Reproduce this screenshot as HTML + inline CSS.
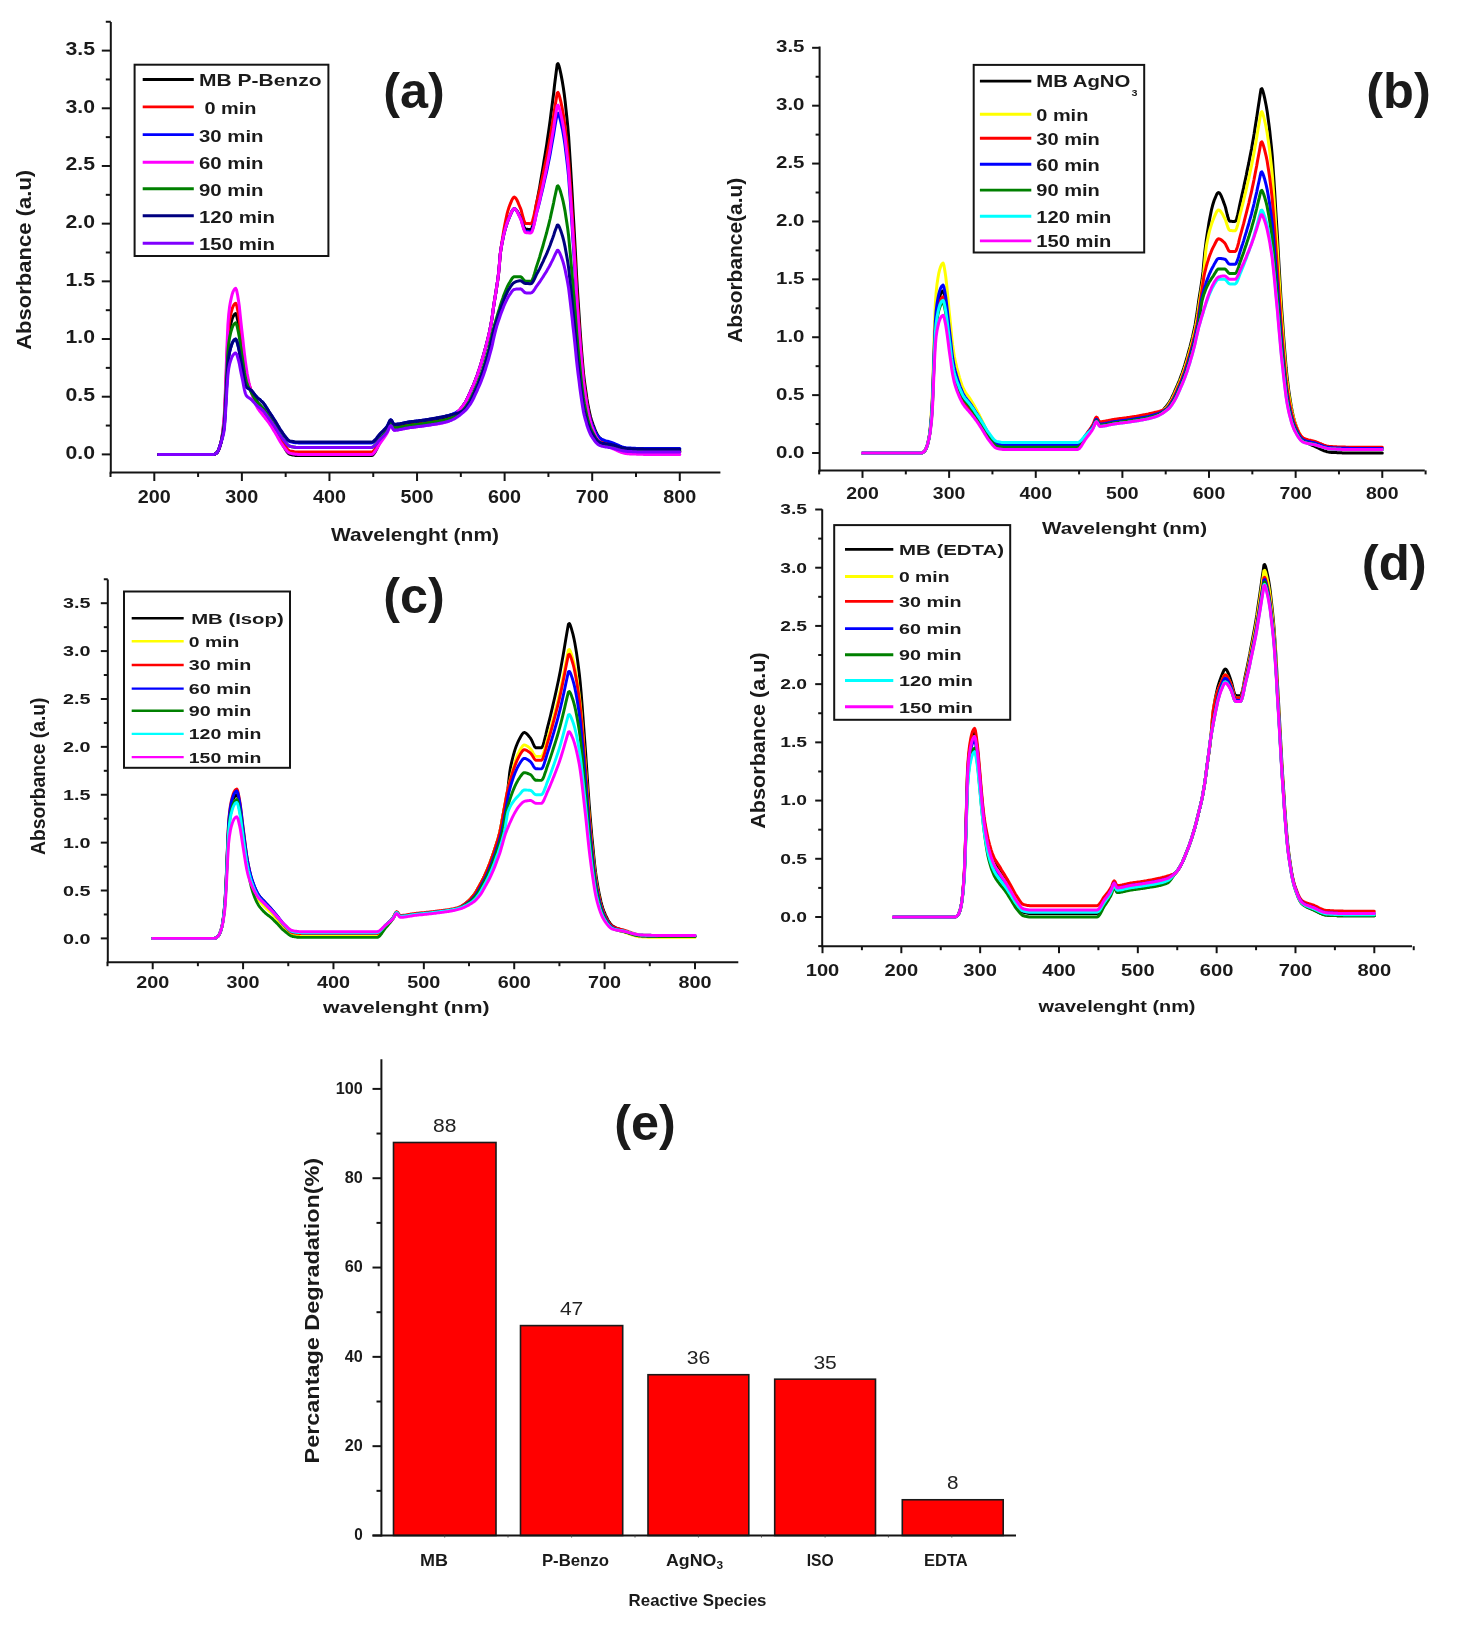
<!DOCTYPE html>
<html><head><meta charset="utf-8"><style>
html,body{margin:0;padding:0;background:#fff;}
svg{display:block;font-family:'Liberation Sans', sans-serif;filter:blur(0.5px);}
</style></head><body>
<svg width="1458" height="1626" viewBox="0 0 1458 1626">
<rect width="1458" height="1626" fill="#ffffff"/>
<line x1="110.80" y1="22.00" x2="110.80" y2="473.50" stroke="#141414" stroke-width="2"/>
<line x1="101.80" y1="454.40" x2="110.80" y2="454.40" stroke="#141414" stroke-width="2"/>
<text x="95.00" y="458.80" font-size="18.00" font-weight="bold" text-anchor="end" fill="#1a1a1a" textLength="29.50" lengthAdjust="spacingAndGlyphs">0.0</text>
<line x1="101.80" y1="396.71" x2="110.80" y2="396.71" stroke="#141414" stroke-width="2"/>
<text x="95.00" y="401.11" font-size="18.00" font-weight="bold" text-anchor="end" fill="#1a1a1a" textLength="29.50" lengthAdjust="spacingAndGlyphs">0.5</text>
<line x1="101.80" y1="339.03" x2="110.80" y2="339.03" stroke="#141414" stroke-width="2"/>
<text x="95.00" y="343.43" font-size="18.00" font-weight="bold" text-anchor="end" fill="#1a1a1a" textLength="29.50" lengthAdjust="spacingAndGlyphs">1.0</text>
<line x1="101.80" y1="281.34" x2="110.80" y2="281.34" stroke="#141414" stroke-width="2"/>
<text x="95.00" y="285.74" font-size="18.00" font-weight="bold" text-anchor="end" fill="#1a1a1a" textLength="29.50" lengthAdjust="spacingAndGlyphs">1.5</text>
<line x1="101.80" y1="223.66" x2="110.80" y2="223.66" stroke="#141414" stroke-width="2"/>
<text x="95.00" y="228.06" font-size="18.00" font-weight="bold" text-anchor="end" fill="#1a1a1a" textLength="29.50" lengthAdjust="spacingAndGlyphs">2.0</text>
<line x1="101.80" y1="165.97" x2="110.80" y2="165.97" stroke="#141414" stroke-width="2"/>
<text x="95.00" y="170.37" font-size="18.00" font-weight="bold" text-anchor="end" fill="#1a1a1a" textLength="29.50" lengthAdjust="spacingAndGlyphs">2.5</text>
<line x1="101.80" y1="108.29" x2="110.80" y2="108.29" stroke="#141414" stroke-width="2"/>
<text x="95.00" y="112.69" font-size="18.00" font-weight="bold" text-anchor="end" fill="#1a1a1a" textLength="29.50" lengthAdjust="spacingAndGlyphs">3.0</text>
<line x1="101.80" y1="50.60" x2="110.80" y2="50.60" stroke="#141414" stroke-width="2"/>
<text x="95.00" y="55.00" font-size="18.00" font-weight="bold" text-anchor="end" fill="#1a1a1a" textLength="29.50" lengthAdjust="spacingAndGlyphs">3.5</text>
<line x1="105.80" y1="425.56" x2="110.80" y2="425.56" stroke="#141414" stroke-width="2"/>
<line x1="105.80" y1="367.87" x2="110.80" y2="367.87" stroke="#141414" stroke-width="2"/>
<line x1="105.80" y1="310.19" x2="110.80" y2="310.19" stroke="#141414" stroke-width="2"/>
<line x1="105.80" y1="252.50" x2="110.80" y2="252.50" stroke="#141414" stroke-width="2"/>
<line x1="105.80" y1="194.82" x2="110.80" y2="194.82" stroke="#141414" stroke-width="2"/>
<line x1="105.80" y1="137.13" x2="110.80" y2="137.13" stroke="#141414" stroke-width="2"/>
<line x1="105.80" y1="79.45" x2="110.80" y2="79.45" stroke="#141414" stroke-width="2"/>
<line x1="105.80" y1="21.76" x2="110.80" y2="21.76" stroke="#141414" stroke-width="2"/>
<line x1="109.80" y1="472.50" x2="720.40" y2="472.50" stroke="#141414" stroke-width="2"/>
<line x1="154.30" y1="472.50" x2="154.30" y2="481.00" stroke="#141414" stroke-width="2"/>
<text x="154.30" y="503.10" font-size="18.00" font-weight="bold" text-anchor="middle" fill="#1a1a1a" textLength="33.00" lengthAdjust="spacingAndGlyphs">200</text>
<line x1="241.88" y1="472.50" x2="241.88" y2="481.00" stroke="#141414" stroke-width="2"/>
<text x="241.88" y="503.10" font-size="18.00" font-weight="bold" text-anchor="middle" fill="#1a1a1a" textLength="33.00" lengthAdjust="spacingAndGlyphs">300</text>
<line x1="329.46" y1="472.50" x2="329.46" y2="481.00" stroke="#141414" stroke-width="2"/>
<text x="329.46" y="503.10" font-size="18.00" font-weight="bold" text-anchor="middle" fill="#1a1a1a" textLength="33.00" lengthAdjust="spacingAndGlyphs">400</text>
<line x1="417.04" y1="472.50" x2="417.04" y2="481.00" stroke="#141414" stroke-width="2"/>
<text x="417.04" y="503.10" font-size="18.00" font-weight="bold" text-anchor="middle" fill="#1a1a1a" textLength="33.00" lengthAdjust="spacingAndGlyphs">500</text>
<line x1="504.62" y1="472.50" x2="504.62" y2="481.00" stroke="#141414" stroke-width="2"/>
<text x="504.62" y="503.10" font-size="18.00" font-weight="bold" text-anchor="middle" fill="#1a1a1a" textLength="33.00" lengthAdjust="spacingAndGlyphs">600</text>
<line x1="592.20" y1="472.50" x2="592.20" y2="481.00" stroke="#141414" stroke-width="2"/>
<text x="592.20" y="503.10" font-size="18.00" font-weight="bold" text-anchor="middle" fill="#1a1a1a" textLength="33.00" lengthAdjust="spacingAndGlyphs">700</text>
<line x1="679.78" y1="472.50" x2="679.78" y2="481.00" stroke="#141414" stroke-width="2"/>
<text x="679.78" y="503.10" font-size="18.00" font-weight="bold" text-anchor="middle" fill="#1a1a1a" textLength="33.00" lengthAdjust="spacingAndGlyphs">800</text>
<line x1="110.51" y1="472.50" x2="110.51" y2="477.00" stroke="#141414" stroke-width="2"/>
<line x1="198.09" y1="472.50" x2="198.09" y2="477.00" stroke="#141414" stroke-width="2"/>
<line x1="285.67" y1="472.50" x2="285.67" y2="477.00" stroke="#141414" stroke-width="2"/>
<line x1="373.25" y1="472.50" x2="373.25" y2="477.00" stroke="#141414" stroke-width="2"/>
<line x1="460.83" y1="472.50" x2="460.83" y2="477.00" stroke="#141414" stroke-width="2"/>
<line x1="548.41" y1="472.50" x2="548.41" y2="477.00" stroke="#141414" stroke-width="2"/>
<line x1="635.99" y1="472.50" x2="635.99" y2="477.00" stroke="#141414" stroke-width="2"/>
<text transform="translate(31.40,349.80) rotate(-90)" x="0" y="0" font-size="20.50" font-weight="bold" text-anchor="start" fill="#1a1a1a" textLength="180.00" lengthAdjust="spacingAndGlyphs">Absorbance (a.u)</text>
<text x="331.00" y="540.50" font-size="18.50" font-weight="bold" text-anchor="start" fill="#1a1a1a" textLength="168.00" lengthAdjust="spacingAndGlyphs">Wavelenght (nm)</text>
<text x="383.20" y="107.50" font-size="50.00" font-weight="bold" text-anchor="start" fill="#1a1a1a" textLength="61.50" lengthAdjust="spacingAndGlyphs">(a)</text>
<line x1="819.60" y1="46.50" x2="819.60" y2="471.50" stroke="#141414" stroke-width="2"/>
<line x1="812.10" y1="453.00" x2="819.60" y2="453.00" stroke="#141414" stroke-width="2"/>
<text x="804.50" y="457.60" font-size="16.80" font-weight="bold" text-anchor="end" fill="#1a1a1a" textLength="28.50" lengthAdjust="spacingAndGlyphs">0.0</text>
<line x1="812.10" y1="395.12" x2="819.60" y2="395.12" stroke="#141414" stroke-width="2"/>
<text x="804.50" y="399.72" font-size="16.80" font-weight="bold" text-anchor="end" fill="#1a1a1a" textLength="28.50" lengthAdjust="spacingAndGlyphs">0.5</text>
<line x1="812.10" y1="337.23" x2="819.60" y2="337.23" stroke="#141414" stroke-width="2"/>
<text x="804.50" y="341.83" font-size="16.80" font-weight="bold" text-anchor="end" fill="#1a1a1a" textLength="28.50" lengthAdjust="spacingAndGlyphs">1.0</text>
<line x1="812.10" y1="279.35" x2="819.60" y2="279.35" stroke="#141414" stroke-width="2"/>
<text x="804.50" y="283.95" font-size="16.80" font-weight="bold" text-anchor="end" fill="#1a1a1a" textLength="28.50" lengthAdjust="spacingAndGlyphs">1.5</text>
<line x1="812.10" y1="221.46" x2="819.60" y2="221.46" stroke="#141414" stroke-width="2"/>
<text x="804.50" y="226.06" font-size="16.80" font-weight="bold" text-anchor="end" fill="#1a1a1a" textLength="28.50" lengthAdjust="spacingAndGlyphs">2.0</text>
<line x1="812.10" y1="163.57" x2="819.60" y2="163.57" stroke="#141414" stroke-width="2"/>
<text x="804.50" y="168.17" font-size="16.80" font-weight="bold" text-anchor="end" fill="#1a1a1a" textLength="28.50" lengthAdjust="spacingAndGlyphs">2.5</text>
<line x1="812.10" y1="105.69" x2="819.60" y2="105.69" stroke="#141414" stroke-width="2"/>
<text x="804.50" y="110.29" font-size="16.80" font-weight="bold" text-anchor="end" fill="#1a1a1a" textLength="28.50" lengthAdjust="spacingAndGlyphs">3.0</text>
<line x1="812.10" y1="47.81" x2="819.60" y2="47.81" stroke="#141414" stroke-width="2"/>
<text x="804.50" y="52.41" font-size="16.80" font-weight="bold" text-anchor="end" fill="#1a1a1a" textLength="28.50" lengthAdjust="spacingAndGlyphs">3.5</text>
<line x1="815.60" y1="424.06" x2="819.60" y2="424.06" stroke="#141414" stroke-width="2"/>
<line x1="815.60" y1="366.17" x2="819.60" y2="366.17" stroke="#141414" stroke-width="2"/>
<line x1="815.60" y1="308.29" x2="819.60" y2="308.29" stroke="#141414" stroke-width="2"/>
<line x1="815.60" y1="250.40" x2="819.60" y2="250.40" stroke="#141414" stroke-width="2"/>
<line x1="815.60" y1="192.52" x2="819.60" y2="192.52" stroke="#141414" stroke-width="2"/>
<line x1="815.60" y1="134.63" x2="819.60" y2="134.63" stroke="#141414" stroke-width="2"/>
<line x1="815.60" y1="76.75" x2="819.60" y2="76.75" stroke="#141414" stroke-width="2"/>
<line x1="818.60" y1="470.40" x2="1424.80" y2="470.40" stroke="#141414" stroke-width="2"/>
<line x1="862.50" y1="470.40" x2="862.50" y2="477.90" stroke="#141414" stroke-width="2"/>
<text x="862.50" y="499.20" font-size="17.20" font-weight="bold" text-anchor="middle" fill="#1a1a1a" textLength="32.50" lengthAdjust="spacingAndGlyphs">200</text>
<line x1="949.13" y1="470.40" x2="949.13" y2="477.90" stroke="#141414" stroke-width="2"/>
<text x="949.13" y="499.20" font-size="17.20" font-weight="bold" text-anchor="middle" fill="#1a1a1a" textLength="32.50" lengthAdjust="spacingAndGlyphs">300</text>
<line x1="1035.76" y1="470.40" x2="1035.76" y2="477.90" stroke="#141414" stroke-width="2"/>
<text x="1035.76" y="499.20" font-size="17.20" font-weight="bold" text-anchor="middle" fill="#1a1a1a" textLength="32.50" lengthAdjust="spacingAndGlyphs">400</text>
<line x1="1122.39" y1="470.40" x2="1122.39" y2="477.90" stroke="#141414" stroke-width="2"/>
<text x="1122.39" y="499.20" font-size="17.20" font-weight="bold" text-anchor="middle" fill="#1a1a1a" textLength="32.50" lengthAdjust="spacingAndGlyphs">500</text>
<line x1="1209.02" y1="470.40" x2="1209.02" y2="477.90" stroke="#141414" stroke-width="2"/>
<text x="1209.02" y="499.20" font-size="17.20" font-weight="bold" text-anchor="middle" fill="#1a1a1a" textLength="32.50" lengthAdjust="spacingAndGlyphs">600</text>
<line x1="1295.65" y1="470.40" x2="1295.65" y2="477.90" stroke="#141414" stroke-width="2"/>
<text x="1295.65" y="499.20" font-size="17.20" font-weight="bold" text-anchor="middle" fill="#1a1a1a" textLength="32.50" lengthAdjust="spacingAndGlyphs">700</text>
<line x1="1382.28" y1="470.40" x2="1382.28" y2="477.90" stroke="#141414" stroke-width="2"/>
<text x="1382.28" y="499.20" font-size="17.20" font-weight="bold" text-anchor="middle" fill="#1a1a1a" textLength="32.50" lengthAdjust="spacingAndGlyphs">800</text>
<line x1="819.18" y1="470.40" x2="819.18" y2="474.40" stroke="#141414" stroke-width="2"/>
<line x1="905.82" y1="470.40" x2="905.82" y2="474.40" stroke="#141414" stroke-width="2"/>
<line x1="992.44" y1="470.40" x2="992.44" y2="474.40" stroke="#141414" stroke-width="2"/>
<line x1="1079.08" y1="470.40" x2="1079.08" y2="474.40" stroke="#141414" stroke-width="2"/>
<line x1="1165.70" y1="470.40" x2="1165.70" y2="474.40" stroke="#141414" stroke-width="2"/>
<line x1="1252.34" y1="470.40" x2="1252.34" y2="474.40" stroke="#141414" stroke-width="2"/>
<line x1="1338.96" y1="470.40" x2="1338.96" y2="474.40" stroke="#141414" stroke-width="2"/>
<line x1="1425.60" y1="470.40" x2="1425.60" y2="474.40" stroke="#141414" stroke-width="2"/>
<text transform="translate(742.40,342.80) rotate(-90)" x="0" y="0" font-size="20.50" font-weight="bold" text-anchor="start" fill="#1a1a1a" textLength="165.00" lengthAdjust="spacingAndGlyphs">Absorbance(a.u)</text>
<text x="1042.00" y="534.00" font-size="16.50" font-weight="bold" text-anchor="start" fill="#1a1a1a" textLength="165.00" lengthAdjust="spacingAndGlyphs">Wavelenght (nm)</text>
<text x="1366.30" y="107.50" font-size="50.00" font-weight="bold" text-anchor="start" fill="#1a1a1a" textLength="64.50" lengthAdjust="spacingAndGlyphs">(b)</text>
<line x1="107.80" y1="579.50" x2="107.80" y2="962.50" stroke="#141414" stroke-width="2"/>
<line x1="100.80" y1="938.40" x2="107.80" y2="938.40" stroke="#141414" stroke-width="2"/>
<text x="90.50" y="943.60" font-size="14.80" font-weight="bold" text-anchor="end" fill="#1a1a1a" textLength="27.50" lengthAdjust="spacingAndGlyphs">0.0</text>
<line x1="100.80" y1="890.51" x2="107.80" y2="890.51" stroke="#141414" stroke-width="2"/>
<text x="90.50" y="895.72" font-size="14.80" font-weight="bold" text-anchor="end" fill="#1a1a1a" textLength="27.50" lengthAdjust="spacingAndGlyphs">0.5</text>
<line x1="100.80" y1="842.63" x2="107.80" y2="842.63" stroke="#141414" stroke-width="2"/>
<text x="90.50" y="847.83" font-size="14.80" font-weight="bold" text-anchor="end" fill="#1a1a1a" textLength="27.50" lengthAdjust="spacingAndGlyphs">1.0</text>
<line x1="100.80" y1="794.75" x2="107.80" y2="794.75" stroke="#141414" stroke-width="2"/>
<text x="90.50" y="799.95" font-size="14.80" font-weight="bold" text-anchor="end" fill="#1a1a1a" textLength="27.50" lengthAdjust="spacingAndGlyphs">1.5</text>
<line x1="100.80" y1="746.86" x2="107.80" y2="746.86" stroke="#141414" stroke-width="2"/>
<text x="90.50" y="752.06" font-size="14.80" font-weight="bold" text-anchor="end" fill="#1a1a1a" textLength="27.50" lengthAdjust="spacingAndGlyphs">2.0</text>
<line x1="100.80" y1="698.98" x2="107.80" y2="698.98" stroke="#141414" stroke-width="2"/>
<text x="90.50" y="704.18" font-size="14.80" font-weight="bold" text-anchor="end" fill="#1a1a1a" textLength="27.50" lengthAdjust="spacingAndGlyphs">2.5</text>
<line x1="100.80" y1="651.09" x2="107.80" y2="651.09" stroke="#141414" stroke-width="2"/>
<text x="90.50" y="656.29" font-size="14.80" font-weight="bold" text-anchor="end" fill="#1a1a1a" textLength="27.50" lengthAdjust="spacingAndGlyphs">3.0</text>
<line x1="100.80" y1="603.20" x2="107.80" y2="603.20" stroke="#141414" stroke-width="2"/>
<text x="90.50" y="608.40" font-size="14.80" font-weight="bold" text-anchor="end" fill="#1a1a1a" textLength="27.50" lengthAdjust="spacingAndGlyphs">3.5</text>
<line x1="103.80" y1="914.46" x2="107.80" y2="914.46" stroke="#141414" stroke-width="2"/>
<line x1="103.80" y1="866.57" x2="107.80" y2="866.57" stroke="#141414" stroke-width="2"/>
<line x1="103.80" y1="818.69" x2="107.80" y2="818.69" stroke="#141414" stroke-width="2"/>
<line x1="103.80" y1="770.80" x2="107.80" y2="770.80" stroke="#141414" stroke-width="2"/>
<line x1="103.80" y1="722.92" x2="107.80" y2="722.92" stroke="#141414" stroke-width="2"/>
<line x1="103.80" y1="675.03" x2="107.80" y2="675.03" stroke="#141414" stroke-width="2"/>
<line x1="103.80" y1="627.15" x2="107.80" y2="627.15" stroke="#141414" stroke-width="2"/>
<line x1="103.80" y1="579.26" x2="107.80" y2="579.26" stroke="#141414" stroke-width="2"/>
<line x1="106.80" y1="962.20" x2="738.30" y2="962.20" stroke="#141414" stroke-width="2"/>
<line x1="152.70" y1="962.20" x2="152.70" y2="969.20" stroke="#141414" stroke-width="2"/>
<text x="152.70" y="988.00" font-size="16.50" font-weight="bold" text-anchor="middle" fill="#1a1a1a" textLength="33.00" lengthAdjust="spacingAndGlyphs">200</text>
<line x1="243.08" y1="962.20" x2="243.08" y2="969.20" stroke="#141414" stroke-width="2"/>
<text x="243.08" y="988.00" font-size="16.50" font-weight="bold" text-anchor="middle" fill="#1a1a1a" textLength="33.00" lengthAdjust="spacingAndGlyphs">300</text>
<line x1="333.46" y1="962.20" x2="333.46" y2="969.20" stroke="#141414" stroke-width="2"/>
<text x="333.46" y="988.00" font-size="16.50" font-weight="bold" text-anchor="middle" fill="#1a1a1a" textLength="33.00" lengthAdjust="spacingAndGlyphs">400</text>
<line x1="423.84" y1="962.20" x2="423.84" y2="969.20" stroke="#141414" stroke-width="2"/>
<text x="423.84" y="988.00" font-size="16.50" font-weight="bold" text-anchor="middle" fill="#1a1a1a" textLength="33.00" lengthAdjust="spacingAndGlyphs">500</text>
<line x1="514.22" y1="962.20" x2="514.22" y2="969.20" stroke="#141414" stroke-width="2"/>
<text x="514.22" y="988.00" font-size="16.50" font-weight="bold" text-anchor="middle" fill="#1a1a1a" textLength="33.00" lengthAdjust="spacingAndGlyphs">600</text>
<line x1="604.60" y1="962.20" x2="604.60" y2="969.20" stroke="#141414" stroke-width="2"/>
<text x="604.60" y="988.00" font-size="16.50" font-weight="bold" text-anchor="middle" fill="#1a1a1a" textLength="33.00" lengthAdjust="spacingAndGlyphs">700</text>
<line x1="694.98" y1="962.20" x2="694.98" y2="969.20" stroke="#141414" stroke-width="2"/>
<text x="694.98" y="988.00" font-size="16.50" font-weight="bold" text-anchor="middle" fill="#1a1a1a" textLength="33.00" lengthAdjust="spacingAndGlyphs">800</text>
<line x1="107.51" y1="962.20" x2="107.51" y2="966.20" stroke="#141414" stroke-width="2"/>
<line x1="197.89" y1="962.20" x2="197.89" y2="966.20" stroke="#141414" stroke-width="2"/>
<line x1="288.27" y1="962.20" x2="288.27" y2="966.20" stroke="#141414" stroke-width="2"/>
<line x1="378.65" y1="962.20" x2="378.65" y2="966.20" stroke="#141414" stroke-width="2"/>
<line x1="469.03" y1="962.20" x2="469.03" y2="966.20" stroke="#141414" stroke-width="2"/>
<line x1="559.41" y1="962.20" x2="559.41" y2="966.20" stroke="#141414" stroke-width="2"/>
<line x1="649.79" y1="962.20" x2="649.79" y2="966.20" stroke="#141414" stroke-width="2"/>
<text transform="translate(45.20,855.00) rotate(-90)" x="0" y="0" font-size="21.00" font-weight="bold" text-anchor="start" fill="#1a1a1a" textLength="157.50" lengthAdjust="spacingAndGlyphs">Absorbance (a.u)</text>
<text x="323.00" y="1013.00" font-size="17.00" font-weight="bold" text-anchor="start" fill="#1a1a1a" textLength="166.50" lengthAdjust="spacingAndGlyphs">wavelenght (nm)</text>
<text x="383.20" y="612.50" font-size="50.00" font-weight="bold" text-anchor="start" fill="#1a1a1a" textLength="61.50" lengthAdjust="spacingAndGlyphs">(c)</text>
<line x1="822.20" y1="509.30" x2="822.20" y2="946.50" stroke="#141414" stroke-width="2"/>
<line x1="815.20" y1="917.00" x2="822.20" y2="917.00" stroke="#141414" stroke-width="2"/>
<text x="807.00" y="921.80" font-size="15.20" font-weight="bold" text-anchor="end" fill="#1a1a1a" textLength="26.80" lengthAdjust="spacingAndGlyphs">0.0</text>
<line x1="815.20" y1="858.78" x2="822.20" y2="858.78" stroke="#141414" stroke-width="2"/>
<text x="807.00" y="863.58" font-size="15.20" font-weight="bold" text-anchor="end" fill="#1a1a1a" textLength="26.80" lengthAdjust="spacingAndGlyphs">0.5</text>
<line x1="815.20" y1="800.57" x2="822.20" y2="800.57" stroke="#141414" stroke-width="2"/>
<text x="807.00" y="805.37" font-size="15.20" font-weight="bold" text-anchor="end" fill="#1a1a1a" textLength="26.80" lengthAdjust="spacingAndGlyphs">1.0</text>
<line x1="815.20" y1="742.36" x2="822.20" y2="742.36" stroke="#141414" stroke-width="2"/>
<text x="807.00" y="747.15" font-size="15.20" font-weight="bold" text-anchor="end" fill="#1a1a1a" textLength="26.80" lengthAdjust="spacingAndGlyphs">1.5</text>
<line x1="815.20" y1="684.14" x2="822.20" y2="684.14" stroke="#141414" stroke-width="2"/>
<text x="807.00" y="688.94" font-size="15.20" font-weight="bold" text-anchor="end" fill="#1a1a1a" textLength="26.80" lengthAdjust="spacingAndGlyphs">2.0</text>
<line x1="815.20" y1="625.92" x2="822.20" y2="625.92" stroke="#141414" stroke-width="2"/>
<text x="807.00" y="630.72" font-size="15.20" font-weight="bold" text-anchor="end" fill="#1a1a1a" textLength="26.80" lengthAdjust="spacingAndGlyphs">2.5</text>
<line x1="815.20" y1="567.71" x2="822.20" y2="567.71" stroke="#141414" stroke-width="2"/>
<text x="807.00" y="572.51" font-size="15.20" font-weight="bold" text-anchor="end" fill="#1a1a1a" textLength="26.80" lengthAdjust="spacingAndGlyphs">3.0</text>
<line x1="815.20" y1="509.50" x2="822.20" y2="509.50" stroke="#141414" stroke-width="2"/>
<text x="807.00" y="514.29" font-size="15.20" font-weight="bold" text-anchor="end" fill="#1a1a1a" textLength="26.80" lengthAdjust="spacingAndGlyphs">3.5</text>
<line x1="818.20" y1="887.89" x2="822.20" y2="887.89" stroke="#141414" stroke-width="2"/>
<line x1="818.20" y1="829.68" x2="822.20" y2="829.68" stroke="#141414" stroke-width="2"/>
<line x1="818.20" y1="771.46" x2="822.20" y2="771.46" stroke="#141414" stroke-width="2"/>
<line x1="818.20" y1="713.25" x2="822.20" y2="713.25" stroke="#141414" stroke-width="2"/>
<line x1="818.20" y1="655.03" x2="822.20" y2="655.03" stroke="#141414" stroke-width="2"/>
<line x1="818.20" y1="596.82" x2="822.20" y2="596.82" stroke="#141414" stroke-width="2"/>
<line x1="818.20" y1="538.60" x2="822.20" y2="538.60" stroke="#141414" stroke-width="2"/>
<line x1="818.20" y1="946.11" x2="822.20" y2="946.11" stroke="#141414" stroke-width="2"/>
<line x1="821.20" y1="946.20" x2="1412.00" y2="946.20" stroke="#141414" stroke-width="2"/>
<line x1="822.50" y1="946.20" x2="822.50" y2="953.20" stroke="#141414" stroke-width="2"/>
<text x="822.50" y="976.20" font-size="17.00" font-weight="bold" text-anchor="middle" fill="#1a1a1a" textLength="33.60" lengthAdjust="spacingAndGlyphs">100</text>
<line x1="901.33" y1="946.20" x2="901.33" y2="953.20" stroke="#141414" stroke-width="2"/>
<text x="901.33" y="976.20" font-size="17.00" font-weight="bold" text-anchor="middle" fill="#1a1a1a" textLength="33.60" lengthAdjust="spacingAndGlyphs">200</text>
<line x1="980.16" y1="946.20" x2="980.16" y2="953.20" stroke="#141414" stroke-width="2"/>
<text x="980.16" y="976.20" font-size="17.00" font-weight="bold" text-anchor="middle" fill="#1a1a1a" textLength="33.60" lengthAdjust="spacingAndGlyphs">300</text>
<line x1="1058.99" y1="946.20" x2="1058.99" y2="953.20" stroke="#141414" stroke-width="2"/>
<text x="1058.99" y="976.20" font-size="17.00" font-weight="bold" text-anchor="middle" fill="#1a1a1a" textLength="33.60" lengthAdjust="spacingAndGlyphs">400</text>
<line x1="1137.82" y1="946.20" x2="1137.82" y2="953.20" stroke="#141414" stroke-width="2"/>
<text x="1137.82" y="976.20" font-size="17.00" font-weight="bold" text-anchor="middle" fill="#1a1a1a" textLength="33.60" lengthAdjust="spacingAndGlyphs">500</text>
<line x1="1216.65" y1="946.20" x2="1216.65" y2="953.20" stroke="#141414" stroke-width="2"/>
<text x="1216.65" y="976.20" font-size="17.00" font-weight="bold" text-anchor="middle" fill="#1a1a1a" textLength="33.60" lengthAdjust="spacingAndGlyphs">600</text>
<line x1="1295.48" y1="946.20" x2="1295.48" y2="953.20" stroke="#141414" stroke-width="2"/>
<text x="1295.48" y="976.20" font-size="17.00" font-weight="bold" text-anchor="middle" fill="#1a1a1a" textLength="33.60" lengthAdjust="spacingAndGlyphs">700</text>
<line x1="1374.31" y1="946.20" x2="1374.31" y2="953.20" stroke="#141414" stroke-width="2"/>
<text x="1374.31" y="976.20" font-size="17.00" font-weight="bold" text-anchor="middle" fill="#1a1a1a" textLength="33.60" lengthAdjust="spacingAndGlyphs">800</text>
<line x1="861.91" y1="946.20" x2="861.91" y2="950.20" stroke="#141414" stroke-width="2"/>
<line x1="940.75" y1="946.20" x2="940.75" y2="950.20" stroke="#141414" stroke-width="2"/>
<line x1="1019.58" y1="946.20" x2="1019.58" y2="950.20" stroke="#141414" stroke-width="2"/>
<line x1="1098.40" y1="946.20" x2="1098.40" y2="950.20" stroke="#141414" stroke-width="2"/>
<line x1="1177.24" y1="946.20" x2="1177.24" y2="950.20" stroke="#141414" stroke-width="2"/>
<line x1="1256.07" y1="946.20" x2="1256.07" y2="950.20" stroke="#141414" stroke-width="2"/>
<line x1="1334.89" y1="946.20" x2="1334.89" y2="950.20" stroke="#141414" stroke-width="2"/>
<line x1="1413.72" y1="946.20" x2="1413.72" y2="950.20" stroke="#141414" stroke-width="2"/>
<text transform="translate(764.80,828.80) rotate(-90)" x="0" y="0" font-size="20.50" font-weight="bold" text-anchor="start" fill="#1a1a1a" textLength="176.50" lengthAdjust="spacingAndGlyphs">Absorbance (a.u)</text>
<text x="1038.50" y="1012.40" font-size="17.00" font-weight="bold" text-anchor="start" fill="#1a1a1a" textLength="157.00" lengthAdjust="spacingAndGlyphs">wavelenght (nm)</text>
<text x="1361.80" y="580.00" font-size="50.00" font-weight="bold" text-anchor="start" fill="#1a1a1a" textLength="65.00" lengthAdjust="spacingAndGlyphs">(d)</text>
<line x1="381.40" y1="1059.30" x2="381.40" y2="1536.50" stroke="#141414" stroke-width="2"/>
<line x1="372.50" y1="1535.50" x2="381.40" y2="1535.50" stroke="#141414" stroke-width="2"/>
<line x1="372.50" y1="1446.18" x2="381.40" y2="1446.18" stroke="#141414" stroke-width="2"/>
<line x1="372.50" y1="1356.86" x2="381.40" y2="1356.86" stroke="#141414" stroke-width="2"/>
<line x1="372.50" y1="1267.54" x2="381.40" y2="1267.54" stroke="#141414" stroke-width="2"/>
<line x1="372.50" y1="1178.22" x2="381.40" y2="1178.22" stroke="#141414" stroke-width="2"/>
<line x1="372.50" y1="1088.90" x2="381.40" y2="1088.90" stroke="#141414" stroke-width="2"/>
<line x1="376.50" y1="1490.84" x2="381.40" y2="1490.84" stroke="#141414" stroke-width="2"/>
<line x1="376.50" y1="1401.52" x2="381.40" y2="1401.52" stroke="#141414" stroke-width="2"/>
<line x1="376.50" y1="1312.20" x2="381.40" y2="1312.20" stroke="#141414" stroke-width="2"/>
<line x1="376.50" y1="1222.88" x2="381.40" y2="1222.88" stroke="#141414" stroke-width="2"/>
<line x1="376.50" y1="1133.56" x2="381.40" y2="1133.56" stroke="#141414" stroke-width="2"/>
<text x="362.70" y="1540.40" font-size="16.00" font-weight="bold" text-anchor="end" fill="#1a1a1a" textLength="8.50" lengthAdjust="spacingAndGlyphs">0</text>
<text x="362.70" y="1451.08" font-size="16.00" font-weight="bold" text-anchor="end" fill="#1a1a1a" textLength="18.00" lengthAdjust="spacingAndGlyphs">20</text>
<text x="362.70" y="1361.76" font-size="16.00" font-weight="bold" text-anchor="end" fill="#1a1a1a" textLength="18.00" lengthAdjust="spacingAndGlyphs">40</text>
<text x="362.70" y="1272.44" font-size="16.00" font-weight="bold" text-anchor="end" fill="#1a1a1a" textLength="18.00" lengthAdjust="spacingAndGlyphs">60</text>
<text x="362.70" y="1183.12" font-size="16.00" font-weight="bold" text-anchor="end" fill="#1a1a1a" textLength="18.00" lengthAdjust="spacingAndGlyphs">80</text>
<text x="362.70" y="1093.80" font-size="16.00" font-weight="bold" text-anchor="end" fill="#1a1a1a" textLength="27.00" lengthAdjust="spacingAndGlyphs">100</text>
<rect x="393.50" y="1142.49" width="102.50" height="393.01" fill="#ff0000" stroke="#1a1a1a" stroke-width="1.6"/>
<text x="444.75" y="1131.99" font-size="17.50" font-weight="normal" text-anchor="middle" fill="#222" textLength="23.40" lengthAdjust="spacingAndGlyphs">88</text>
<rect x="520.50" y="1325.60" width="102.20" height="209.90" fill="#ff0000" stroke="#1a1a1a" stroke-width="1.6"/>
<text x="571.60" y="1315.10" font-size="17.50" font-weight="normal" text-anchor="middle" fill="#222" textLength="23.40" lengthAdjust="spacingAndGlyphs">47</text>
<rect x="648.00" y="1374.72" width="100.80" height="160.78" fill="#ff0000" stroke="#1a1a1a" stroke-width="1.6"/>
<text x="698.40" y="1364.22" font-size="17.50" font-weight="normal" text-anchor="middle" fill="#222" textLength="23.40" lengthAdjust="spacingAndGlyphs">36</text>
<rect x="774.70" y="1379.19" width="100.80" height="156.31" fill="#ff0000" stroke="#1a1a1a" stroke-width="1.6"/>
<text x="825.10" y="1368.69" font-size="17.50" font-weight="normal" text-anchor="middle" fill="#222" textLength="23.40" lengthAdjust="spacingAndGlyphs">35</text>
<rect x="902.30" y="1499.77" width="100.90" height="35.73" fill="#ff0000" stroke="#1a1a1a" stroke-width="1.6"/>
<text x="952.75" y="1489.27" font-size="17.50" font-weight="normal" text-anchor="middle" fill="#222" textLength="11.50" lengthAdjust="spacingAndGlyphs">8</text>
<line x1="372.50" y1="1535.50" x2="1016.00" y2="1535.50" stroke="#141414" stroke-width="2"/>
<line x1="444.70" y1="1535.50" x2="444.70" y2="1537.50" stroke="#444" stroke-width="1.0"/>
<line x1="571.60" y1="1535.50" x2="571.60" y2="1537.50" stroke="#444" stroke-width="1.0"/>
<line x1="698.40" y1="1535.50" x2="698.40" y2="1537.50" stroke="#444" stroke-width="1.0"/>
<line x1="825.10" y1="1535.50" x2="825.10" y2="1537.50" stroke="#444" stroke-width="1.0"/>
<line x1="951.80" y1="1535.50" x2="951.80" y2="1537.50" stroke="#444" stroke-width="1.0"/>
<line x1="508.00" y1="1535.50" x2="508.00" y2="1537.50" stroke="#444" stroke-width="1.0"/>
<line x1="635.00" y1="1535.50" x2="635.00" y2="1537.50" stroke="#444" stroke-width="1.0"/>
<line x1="761.50" y1="1535.50" x2="761.50" y2="1537.50" stroke="#444" stroke-width="1.0"/>
<line x1="888.40" y1="1535.50" x2="888.40" y2="1537.50" stroke="#444" stroke-width="1.0"/>
<text x="420.00" y="1566.00" font-size="16.50" font-weight="bold" text-anchor="start" fill="#1a1a1a" textLength="28.00" lengthAdjust="spacingAndGlyphs">MB</text>
<text x="541.90" y="1566.00" font-size="16.50" font-weight="bold" text-anchor="start" fill="#1a1a1a" textLength="67.00" lengthAdjust="spacingAndGlyphs">P-Benzo</text>
<text x="666.00" y="1566.00" font-size="16.50" font-weight="bold" text-anchor="start" fill="#1a1a1a" textLength="57.00" lengthAdjust="spacingAndGlyphs">AgNO<tspan font-size="11" dy="3">3</tspan></text>
<text x="806.70" y="1566.00" font-size="16.50" font-weight="bold" text-anchor="start" fill="#1a1a1a" textLength="27.00" lengthAdjust="spacingAndGlyphs">ISO</text>
<text x="924.00" y="1566.00" font-size="16.50" font-weight="bold" text-anchor="start" fill="#1a1a1a" textLength="43.70" lengthAdjust="spacingAndGlyphs">EDTA</text>
<text x="628.60" y="1605.60" font-size="16.50" font-weight="bold" text-anchor="start" fill="#1a1a1a" textLength="137.80" lengthAdjust="spacingAndGlyphs">Reactive Species</text>
<text transform="translate(318.80,1463.40) rotate(-90)" x="0" y="0" font-size="20.50" font-weight="bold" text-anchor="start" fill="#1a1a1a" textLength="305.50" lengthAdjust="spacingAndGlyphs">Percantage Degradation(%)</text>
<text x="614.20" y="1140.20" font-size="50.00" font-weight="bold" text-anchor="start" fill="#1a1a1a" textLength="61.50" lengthAdjust="spacingAndGlyphs">(e)</text>
<polyline points="158.7,454.4 159.6,454.4 160.4,454.4 161.3,454.4 162.2,454.4 163.1,454.4 163.9,454.4 164.8,454.4 165.7,454.4 166.6,454.4 167.4,454.4 168.3,454.4 169.2,454.4 170.1,454.4 170.9,454.4 171.8,454.4 172.7,454.4 173.6,454.4 174.4,454.4 175.3,454.4 176.2,454.4 177.1,454.4 177.9,454.4 178.8,454.4 179.7,454.4 180.6,454.4 181.4,454.4 182.3,454.4 183.2,454.4 184.1,454.4 185.0,454.4 185.8,454.4 186.7,454.4 187.6,454.4 188.5,454.4 189.3,454.4 190.2,454.4 191.1,454.4 192.0,454.4 192.8,454.4 193.7,454.4 194.6,454.4 195.5,454.4 196.3,454.4 197.2,454.4 198.1,454.4 199.0,454.4 199.8,454.4 200.7,454.4 201.6,454.4 202.5,454.4 203.3,454.4 204.2,454.4 205.1,454.4 206.0,454.4 206.8,454.4 207.7,454.4 208.6,454.4 209.5,454.4 210.4,454.4 211.2,454.4 212.1,454.4 213.0,454.4 213.9,454.4 214.7,454.2 215.6,453.7 216.5,453.0 217.4,452.1 218.2,450.8 219.1,448.7 220.0,446.0 220.9,442.9 221.7,439.1 222.6,434.1 223.5,427.6 224.4,419.2 225.2,403.9 226.1,384.0 227.0,362.2 227.9,344.6 228.7,335.8 229.6,329.4 230.5,324.9 231.4,321.5 232.2,318.7 233.1,316.5 234.0,315.1 234.9,314.1 235.7,313.6 236.6,315.3 237.5,319.1 238.4,323.5 239.3,328.7 240.1,335.1 241.0,342.0 241.9,348.4 242.8,354.7 243.6,361.3 244.5,367.5 245.4,373.0 246.3,377.2 247.1,380.3 248.0,383.0 248.9,385.3 249.8,387.3 250.6,389.3 251.5,391.3 252.4,393.2 253.3,395.1 254.1,396.8 255.0,398.4 255.9,399.9 256.8,401.2 257.6,402.4 258.5,403.4 259.4,404.4 260.3,405.3 261.1,406.2 262.0,407.2 262.9,408.3 263.8,409.4 264.7,410.7 265.5,412.0 266.4,413.3 267.3,414.7 268.2,416.1 269.0,417.6 269.9,419.1 270.8,420.8 271.7,422.5 272.5,424.2 273.4,426.0 274.3,427.7 275.2,429.5 276.0,431.3 276.9,433.1 277.8,435.0 278.7,436.9 279.5,438.8 280.4,440.5 281.3,442.2 282.2,443.7 283.0,445.2 283.9,446.7 284.8,448.3 285.7,449.7 286.5,451.1 287.4,452.3 288.3,453.3 289.2,454.0 290.0,454.4 290.9,454.6 291.8,454.8 292.7,455.0 293.6,455.1 294.4,455.2 295.3,455.4 296.2,455.4 297.1,455.5 297.9,455.5 298.8,455.6 299.7,455.6 300.6,455.6 301.4,455.6 302.3,455.6 303.2,455.6 304.1,455.6 304.9,455.6 305.8,455.6 306.7,455.6 307.6,455.6 308.4,455.6 309.3,455.6 310.2,455.6 311.1,455.6 311.9,455.6 312.8,455.6 313.7,455.6 314.6,455.6 315.4,455.6 316.3,455.6 317.2,455.6 318.1,455.6 319.0,455.6 319.8,455.6 320.7,455.6 321.6,455.6 322.5,455.6 323.3,455.6 324.2,455.6 325.1,455.6 326.0,455.6 326.8,455.6 327.7,455.6 328.6,455.6 329.5,455.6 330.3,455.6 331.2,455.6 332.1,455.6 333.0,455.6 333.8,455.6 334.7,455.6 335.6,455.6 336.5,455.6 337.3,455.6 338.2,455.6 339.1,455.6 340.0,455.6 340.8,455.6 341.7,455.6 342.6,455.6 343.5,455.6 344.3,455.6 345.2,455.6 346.1,455.6 347.0,455.6 347.9,455.6 348.7,455.6 349.6,455.6 350.5,455.6 351.4,455.6 352.2,455.6 353.1,455.6 354.0,455.6 354.9,455.6 355.7,455.6 356.6,455.6 357.5,455.6 358.4,455.6 359.2,455.6 360.1,455.6 361.0,455.6 361.9,455.6 362.7,455.6 363.6,455.6 364.5,455.6 365.4,455.6 366.2,455.6 367.1,455.6 368.0,455.6 368.9,455.6 369.7,455.6 370.6,455.6 371.5,455.6 372.4,455.3 373.2,454.6 374.1,453.5 375.0,452.2 375.9,450.6 376.8,448.9 377.6,447.1 378.5,445.3 379.4,443.6 380.3,442.1 381.1,440.6 382.0,439.2 382.9,437.8 383.8,436.4 384.6,434.9 385.5,433.4 386.4,431.7 387.3,430.1 388.1,427.8 389.0,425.2 389.9,423.0 390.8,422.1 391.6,422.8 392.5,424.4 393.4,426.0 394.3,426.7 395.1,426.7 396.0,426.6 396.9,426.6 397.8,426.4 398.6,426.3 399.5,426.2 400.4,426.0 401.3,425.8 402.2,425.6 403.0,425.4 403.9,425.2 404.8,425.1 405.7,424.9 406.5,424.7 407.4,424.5 408.3,424.4 409.2,424.3 410.0,424.2 410.9,424.0 411.8,423.9 412.7,423.8 413.5,423.7 414.4,423.6 415.3,423.5 416.2,423.4 417.0,423.3 417.9,423.2 418.8,423.1 419.7,422.9 420.5,422.8 421.4,422.7 422.3,422.6 423.2,422.5 424.0,422.4 424.9,422.2 425.8,422.1 426.7,422.0 427.5,421.8 428.4,421.7 429.3,421.6 430.2,421.4 431.1,421.3 431.9,421.2 432.8,421.1 433.7,420.9 434.6,420.8 435.4,420.7 436.3,420.5 437.2,420.4 438.1,420.2 438.9,420.1 439.8,419.9 440.7,419.8 441.6,419.6 442.4,419.4 443.3,419.2 444.2,419.0 445.1,418.8 445.9,418.5 446.8,418.3 447.7,418.0 448.6,417.8 449.4,417.5 450.3,417.1 451.2,416.7 452.1,416.2 452.9,415.7 453.8,415.1 454.7,414.4 455.6,413.7 456.5,413.0 457.3,412.2 458.2,411.4 459.1,410.6 460.0,409.7 460.8,408.7 461.7,407.6 462.6,406.4 463.5,405.2 464.3,403.9 465.2,402.5 466.1,401.0 467.0,399.3 467.8,397.5 468.7,395.7 469.6,393.7 470.5,391.8 471.3,389.8 472.2,387.8 473.1,385.8 474.0,383.8 474.8,381.7 475.7,379.4 476.6,377.1 477.5,374.7 478.3,372.1 479.2,369.5 480.1,366.7 481.0,363.9 481.8,361.0 482.7,358.0 483.6,354.9 484.5,351.7 485.4,348.5 486.2,345.3 487.1,341.9 488.0,338.4 488.9,334.7 489.7,330.7 490.6,326.3 491.5,321.3 492.4,315.5 493.2,309.4 494.1,303.3 495.0,297.6 495.9,292.2 496.7,286.8 497.6,280.9 498.5,274.0 499.4,264.3 500.2,254.4 501.1,248.1 502.0,243.3 502.9,238.9 503.7,234.9 504.6,231.4 505.5,228.1 506.4,225.2 507.2,222.6 508.1,220.2 509.0,218.1 509.9,216.0 510.8,214.0 511.6,212.0 512.5,210.3 513.4,209.1 514.3,208.7 515.1,208.9 516.0,209.7 516.9,210.7 517.8,212.1 518.6,213.6 519.5,215.2 520.4,216.7 521.3,218.7 522.1,221.3 523.0,224.0 523.9,226.6 524.8,228.5 525.6,229.2 526.5,229.3 527.4,229.3 528.3,229.4 529.1,229.4 530.0,229.4 530.9,229.4 531.8,228.4 532.6,225.6 533.5,221.6 534.4,216.7 535.3,211.3 536.1,206.0 537.0,201.2 537.9,196.6 538.8,191.9 539.7,186.9 540.5,181.9 541.4,176.8 542.3,171.5 543.2,166.3 544.0,161.0 544.9,155.7 545.8,150.3 546.7,144.7 547.5,139.0 548.4,133.1 549.3,126.8 550.2,120.3 551.0,113.6 551.9,106.7 552.8,99.8 553.7,92.7 554.5,85.3 555.4,78.2 556.3,71.3 557.2,64.5 558.0,63.6 558.9,65.6 559.8,69.0 560.7,73.0 561.5,77.1 562.4,81.9 563.3,87.5 564.2,93.8 565.1,100.9 565.9,108.6 566.8,117.0 567.7,125.9 568.6,136.3 569.4,148.8 570.3,162.9 571.2,177.8 572.1,193.1 572.9,208.0 573.8,223.3 574.7,239.5 575.6,256.1 576.4,272.4 577.3,287.9 578.2,301.9 579.1,315.0 579.9,327.9 580.8,340.4 581.7,352.2 582.6,362.9 583.4,372.3 584.3,380.1 585.2,386.8 586.1,392.9 586.9,398.7 587.8,403.9 588.7,408.6 589.6,412.7 590.4,416.4 591.3,419.4 592.2,422.1 593.1,424.7 594.0,427.1 594.8,429.4 595.7,431.4 596.6,433.3 597.5,434.9 598.3,436.3 599.2,437.4 600.1,438.3 601.0,439.0 601.8,439.6 602.7,440.1 603.6,440.6 604.5,441.1 605.3,441.5 606.2,441.8 607.1,442.2 608.0,442.5 608.8,442.9 609.7,443.2 610.6,443.5 611.5,443.9 612.3,444.3 613.2,444.7 614.1,445.2 615.0,445.6 615.8,446.1 616.7,446.5 617.6,447.0 618.5,447.4 619.3,447.8 620.2,448.2 621.1,448.6 622.0,449.0 622.9,449.3 623.7,449.6 624.6,449.8 625.5,450.0 626.4,450.2 627.2,450.2 628.1,450.3 629.0,450.4 629.9,450.4 630.7,450.4 631.6,450.5 632.5,450.5 633.4,450.6 634.2,450.6 635.1,450.6 636.0,450.7 636.9,450.7 637.7,450.7 638.6,450.8 639.5,450.8 640.4,450.8 641.2,450.8 642.1,450.9 643.0,450.9 643.9,450.9 644.7,450.9 645.6,450.9 646.5,450.9 647.4,450.9 648.3,450.9 649.1,450.9 650.0,450.9 650.9,450.9 651.8,450.9 652.6,450.9 653.5,450.9 654.4,450.9 655.3,450.9 656.1,450.9 657.0,450.9 657.9,450.9 658.8,450.9 659.6,450.9 660.5,450.9 661.4,450.9 662.3,450.9 663.1,450.9 664.0,450.9 664.9,450.9 665.8,450.9 666.6,450.9 667.5,450.9 668.4,450.9 669.3,450.9 670.1,450.9 671.0,450.9 671.9,450.9 672.8,450.9 673.6,450.9 674.5,450.9 675.4,450.9 676.3,450.9 677.2,450.9 678.0,450.9 678.9,450.9 679.8,450.9" fill="none" stroke="#000000" stroke-width="3.0" stroke-linejoin="round" stroke-linecap="round"/>
<polyline points="158.7,454.4 159.6,454.4 160.4,454.4 161.3,454.4 162.2,454.4 163.1,454.4 163.9,454.4 164.8,454.4 165.7,454.4 166.6,454.4 167.4,454.4 168.3,454.4 169.2,454.4 170.1,454.4 170.9,454.4 171.8,454.4 172.7,454.4 173.6,454.4 174.4,454.4 175.3,454.4 176.2,454.4 177.1,454.4 177.9,454.4 178.8,454.4 179.7,454.4 180.6,454.4 181.4,454.4 182.3,454.4 183.2,454.4 184.1,454.4 185.0,454.4 185.8,454.4 186.7,454.4 187.6,454.4 188.5,454.4 189.3,454.4 190.2,454.4 191.1,454.4 192.0,454.4 192.8,454.4 193.7,454.4 194.6,454.4 195.5,454.4 196.3,454.4 197.2,454.4 198.1,454.4 199.0,454.4 199.8,454.4 200.7,454.4 201.6,454.4 202.5,454.4 203.3,454.4 204.2,454.4 205.1,454.4 206.0,454.4 206.8,454.4 207.7,454.4 208.6,454.4 209.5,454.4 210.4,454.4 211.2,454.4 212.1,454.4 213.0,454.4 213.9,454.4 214.7,454.2 215.6,453.7 216.5,453.0 217.4,452.1 218.2,450.8 219.1,448.7 220.0,446.1 220.9,442.9 221.7,438.8 222.6,433.2 223.5,425.9 224.4,416.6 225.2,400.1 226.1,378.8 227.0,355.4 227.9,336.5 228.7,327.0 229.6,320.2 230.5,315.4 231.4,311.7 232.2,308.7 233.1,306.3 234.0,304.8 234.9,303.7 235.7,303.3 236.6,305.0 237.5,309.1 238.4,313.8 239.3,319.5 240.1,326.5 241.0,334.1 241.9,341.2 242.8,348.1 243.6,355.2 244.5,362.1 245.4,368.2 246.3,373.2 247.1,377.2 248.0,380.7 248.9,383.8 249.8,386.6 250.6,389.1 251.5,391.5 252.4,393.8 253.3,395.9 254.1,397.9 255.0,399.7 255.9,401.4 256.8,402.9 257.6,404.2 258.5,405.4 259.4,406.4 260.3,407.4 261.1,408.4 262.0,409.5 262.9,410.6 263.8,411.7 264.7,412.9 265.5,414.1 266.4,415.3 267.3,416.5 268.2,417.8 269.0,419.1 269.9,420.5 270.8,421.9 271.7,423.3 272.5,424.8 273.4,426.3 274.3,427.9 275.2,429.4 276.0,430.9 276.9,432.5 277.8,434.2 278.7,435.8 279.5,437.4 280.4,439.0 281.3,440.4 282.2,441.7 283.0,443.0 283.9,444.3 284.8,445.6 285.7,446.9 286.5,448.1 287.4,449.1 288.3,449.9 289.2,450.6 290.0,450.9 290.9,451.1 291.8,451.3 292.7,451.5 293.6,451.6 294.4,451.8 295.3,451.9 296.2,452.0 297.1,452.0 297.9,452.1 298.8,452.1 299.7,452.1 300.6,452.1 301.4,452.1 302.3,452.1 303.2,452.1 304.1,452.1 304.9,452.1 305.8,452.1 306.7,452.1 307.6,452.1 308.4,452.1 309.3,452.1 310.2,452.1 311.1,452.1 311.9,452.1 312.8,452.1 313.7,452.1 314.6,452.1 315.4,452.1 316.3,452.1 317.2,452.1 318.1,452.1 319.0,452.1 319.8,452.1 320.7,452.1 321.6,452.1 322.5,452.1 323.3,452.1 324.2,452.1 325.1,452.1 326.0,452.1 326.8,452.1 327.7,452.1 328.6,452.1 329.5,452.1 330.3,452.1 331.2,452.1 332.1,452.1 333.0,452.1 333.8,452.1 334.7,452.1 335.6,452.1 336.5,452.1 337.3,452.1 338.2,452.1 339.1,452.1 340.0,452.1 340.8,452.1 341.7,452.1 342.6,452.1 343.5,452.1 344.3,452.1 345.2,452.1 346.1,452.1 347.0,452.1 347.9,452.1 348.7,452.1 349.6,452.1 350.5,452.1 351.4,452.1 352.2,452.1 353.1,452.1 354.0,452.1 354.9,452.1 355.7,452.1 356.6,452.1 357.5,452.1 358.4,452.1 359.2,452.1 360.1,452.1 361.0,452.1 361.9,452.1 362.7,452.1 363.6,452.1 364.5,452.1 365.4,452.1 366.2,452.1 367.1,452.1 368.0,452.1 368.9,452.1 369.7,452.1 370.6,452.1 371.5,452.1 372.4,451.9 373.2,451.3 374.1,450.4 375.0,449.2 375.9,447.9 376.8,446.4 377.6,444.9 378.5,443.4 379.4,442.0 380.3,440.7 381.1,439.5 382.0,438.3 382.9,437.1 383.8,435.9 384.6,434.7 385.5,433.4 386.4,432.0 387.3,430.5 388.1,428.5 389.0,426.1 389.9,424.1 390.8,423.3 391.6,424.0 392.5,425.6 393.4,427.1 394.3,427.9 395.1,427.8 396.0,427.8 396.9,427.7 397.8,427.6 398.6,427.5 399.5,427.3 400.4,427.1 401.3,427.0 402.2,426.8 403.0,426.6 403.9,426.4 404.8,426.2 405.7,426.0 406.5,425.9 407.4,425.7 408.3,425.6 409.2,425.4 410.0,425.3 410.9,425.2 411.8,425.1 412.7,425.0 413.5,424.9 414.4,424.7 415.3,424.6 416.2,424.5 417.0,424.4 417.9,424.3 418.8,424.2 419.7,424.1 420.5,424.0 421.4,423.9 422.3,423.8 423.2,423.6 424.0,423.5 424.9,423.4 425.8,423.3 426.7,423.1 427.5,423.0 428.4,422.9 429.3,422.7 430.2,422.6 431.1,422.5 431.9,422.4 432.8,422.2 433.7,422.1 434.6,422.0 435.4,421.9 436.3,421.7 437.2,421.6 438.1,421.4 438.9,421.3 439.8,421.1 440.7,421.0 441.6,420.8 442.4,420.6 443.3,420.4 444.2,420.2 445.1,420.0 445.9,419.7 446.8,419.5 447.7,419.2 448.6,418.9 449.4,418.6 450.3,418.3 451.2,417.8 452.1,417.2 452.9,416.6 453.8,415.8 454.7,415.0 455.6,414.2 456.5,413.3 457.3,412.4 458.2,411.5 459.1,410.6 460.0,409.6 460.8,408.6 461.7,407.5 462.6,406.4 463.5,405.2 464.3,403.9 465.2,402.5 466.1,401.0 467.0,399.3 467.8,397.5 468.7,395.7 469.6,393.7 470.5,391.8 471.3,389.8 472.2,387.8 473.1,385.8 474.0,383.8 474.8,381.7 475.7,379.4 476.6,377.1 477.5,374.7 478.3,372.1 479.2,369.5 480.1,366.7 481.0,363.9 481.8,361.0 482.7,358.0 483.6,354.9 484.5,351.7 485.4,348.5 486.2,345.3 487.1,341.9 488.0,338.4 488.9,334.7 489.7,330.7 490.6,326.3 491.5,321.3 492.4,315.5 493.2,309.4 494.1,303.3 495.0,297.6 495.9,292.2 496.7,286.8 497.6,280.9 498.5,274.1 499.4,264.6 500.2,254.8 501.1,247.7 502.0,241.7 502.9,236.0 503.7,230.7 504.6,225.8 505.5,221.2 506.4,217.1 507.2,213.4 508.1,210.1 509.0,207.2 509.9,204.8 510.8,202.7 511.6,200.6 512.5,198.8 513.4,197.6 514.3,197.1 515.1,197.5 516.0,198.5 516.9,200.0 517.8,201.9 518.6,203.9 519.5,206.0 520.4,208.1 521.3,210.6 522.1,213.8 523.0,217.1 523.9,220.2 524.8,222.5 525.6,223.4 526.5,223.5 527.4,223.5 528.3,223.6 529.1,223.6 530.0,223.7 530.9,223.7 531.8,222.9 532.6,220.7 533.5,217.5 534.4,213.6 535.3,209.3 536.1,205.1 537.0,201.3 537.9,197.7 538.8,193.9 539.7,190.0 540.5,186.0 541.4,182.0 542.3,177.8 543.2,173.7 544.0,169.5 544.9,165.3 545.8,161.0 546.7,156.6 547.5,152.1 548.4,147.4 549.3,142.4 550.2,137.3 551.0,132.0 551.9,126.5 552.8,121.1 553.7,115.4 554.5,109.6 555.4,103.9 556.3,98.5 557.2,93.1 558.0,92.4 558.9,94.3 559.8,97.4 560.7,101.1 561.5,104.9 562.4,109.4 563.3,114.5 564.2,120.4 565.1,127.0 565.9,134.1 566.8,141.8 567.7,150.1 568.6,159.8 569.4,171.4 570.3,184.4 571.2,198.2 572.1,212.3 572.9,226.2 573.8,240.3 574.7,255.3 575.6,270.7 576.4,285.8 577.3,300.1 578.2,313.1 579.1,325.3 579.9,337.2 580.8,348.8 581.7,359.7 582.6,369.6 583.4,378.3 584.3,385.6 585.2,391.8 586.1,397.6 586.9,403.0 587.8,407.9 588.7,412.3 589.6,416.2 590.4,419.6 591.3,422.5 592.2,425.0 593.1,427.4 594.0,429.6 594.8,431.7 595.7,433.7 596.6,435.4 597.5,436.9 598.3,438.2 599.2,439.3 600.1,440.1 601.0,440.8 601.8,441.3 602.7,441.9 603.6,442.3 604.5,442.8 605.3,443.1 606.2,443.5 607.1,443.8 608.0,444.2 608.8,444.5 609.7,444.8 610.6,445.1 611.5,445.5 612.3,445.9 613.2,446.3 614.1,446.7 615.0,447.1 615.8,447.5 616.7,447.9 617.6,448.4 618.5,448.8 619.3,449.2 620.2,449.5 621.1,449.9 622.0,450.2 622.9,450.5 623.7,450.8 624.6,451.0 625.5,451.2 626.4,451.3 627.2,451.4 628.1,451.5 629.0,451.5 629.9,451.6 630.7,451.6 631.6,451.6 632.5,451.7 633.4,451.7 634.2,451.8 635.1,451.8 636.0,451.8 636.9,451.9 637.7,451.9 638.6,451.9 639.5,452.0 640.4,452.0 641.2,452.0 642.1,452.0 643.0,452.0 643.9,452.1 644.7,452.1 645.6,452.1 646.5,452.1 647.4,452.1 648.3,452.1 649.1,452.1 650.0,452.1 650.9,452.1 651.8,452.1 652.6,452.1 653.5,452.1 654.4,452.1 655.3,452.1 656.1,452.1 657.0,452.1 657.9,452.1 658.8,452.1 659.6,452.1 660.5,452.1 661.4,452.1 662.3,452.1 663.1,452.1 664.0,452.1 664.9,452.1 665.8,452.1 666.6,452.1 667.5,452.1 668.4,452.1 669.3,452.1 670.1,452.1 671.0,452.1 671.9,452.1 672.8,452.1 673.6,452.1 674.5,452.1 675.4,452.1 676.3,452.1 677.2,452.1 678.0,452.1 678.9,452.1 679.8,452.1" fill="none" stroke="#ff0000" stroke-width="3.0" stroke-linejoin="round" stroke-linecap="round"/>
<polyline points="158.7,454.4 159.6,454.4 160.4,454.4 161.3,454.4 162.2,454.4 163.1,454.4 163.9,454.4 164.8,454.4 165.7,454.4 166.6,454.4 167.4,454.4 168.3,454.4 169.2,454.4 170.1,454.4 170.9,454.4 171.8,454.4 172.7,454.4 173.6,454.4 174.4,454.4 175.3,454.4 176.2,454.4 177.1,454.4 177.9,454.4 178.8,454.4 179.7,454.4 180.6,454.4 181.4,454.4 182.3,454.4 183.2,454.4 184.1,454.4 185.0,454.4 185.8,454.4 186.7,454.4 187.6,454.4 188.5,454.4 189.3,454.4 190.2,454.4 191.1,454.4 192.0,454.4 192.8,454.4 193.7,454.4 194.6,454.4 195.5,454.4 196.3,454.4 197.2,454.4 198.1,454.4 199.0,454.4 199.8,454.4 200.7,454.4 201.6,454.4 202.5,454.4 203.3,454.4 204.2,454.4 205.1,454.4 206.0,454.4 206.8,454.4 207.7,454.4 208.6,454.4 209.5,454.4 210.4,454.4 211.2,454.4 212.1,454.4 213.0,454.4 213.9,454.4 214.7,454.2 215.6,453.7 216.5,453.0 217.4,452.1 218.2,450.7 219.1,448.5 220.0,445.8 220.9,442.9 221.7,439.8 222.6,436.2 223.5,431.7 224.4,425.6 225.2,413.2 226.1,396.7 227.0,378.8 227.9,364.4 228.7,357.2 229.6,351.9 230.5,348.3 231.4,345.5 232.2,343.1 233.1,341.4 234.0,340.2 234.9,339.4 235.7,339.0 236.6,340.4 237.5,343.5 238.4,347.1 239.3,351.2 240.1,356.1 241.0,361.3 241.9,366.1 242.8,371.0 243.6,376.2 244.5,381.0 245.4,384.8 246.3,386.9 247.1,387.7 248.0,388.3 248.9,388.7 249.8,389.2 250.6,389.8 251.5,390.6 252.4,391.6 253.3,392.7 254.1,393.8 255.0,395.0 255.9,396.0 256.8,397.0 257.6,397.8 258.5,398.6 259.4,399.3 260.3,400.0 261.1,400.8 262.0,401.6 262.9,402.5 263.8,403.6 264.7,404.8 265.5,406.1 266.4,407.5 267.3,408.9 268.2,410.3 269.0,411.7 269.9,413.1 270.8,414.4 271.7,415.7 272.5,417.1 273.4,418.5 274.3,419.8 275.2,421.2 276.0,422.7 276.9,424.2 277.8,425.7 278.7,427.2 279.5,428.7 280.4,430.2 281.3,431.5 282.2,432.8 283.0,434.0 283.9,435.3 284.8,436.5 285.7,437.7 286.5,438.9 287.4,439.9 288.3,440.7 289.2,441.4 290.0,441.7 290.9,441.9 291.8,442.1 292.7,442.3 293.6,442.4 294.4,442.5 295.3,442.7 296.2,442.7 297.1,442.8 297.9,442.8 298.8,442.9 299.7,442.9 300.6,442.9 301.4,442.9 302.3,442.9 303.2,442.9 304.1,442.9 304.9,442.9 305.8,442.9 306.7,442.9 307.6,442.9 308.4,442.9 309.3,442.9 310.2,442.9 311.1,442.9 311.9,442.9 312.8,442.9 313.7,442.9 314.6,442.9 315.4,442.9 316.3,442.9 317.2,442.9 318.1,442.9 319.0,442.9 319.8,442.9 320.7,442.9 321.6,442.9 322.5,442.9 323.3,442.9 324.2,442.9 325.1,442.9 326.0,442.9 326.8,442.9 327.7,442.9 328.6,442.9 329.5,442.9 330.3,442.9 331.2,442.9 332.1,442.9 333.0,442.9 333.8,442.9 334.7,442.9 335.6,442.9 336.5,442.9 337.3,442.9 338.2,442.9 339.1,442.9 340.0,442.9 340.8,442.9 341.7,442.9 342.6,442.9 343.5,442.9 344.3,442.9 345.2,442.9 346.1,442.9 347.0,442.9 347.9,442.9 348.7,442.9 349.6,442.9 350.5,442.9 351.4,442.9 352.2,442.9 353.1,442.9 354.0,442.9 354.9,442.9 355.7,442.9 356.6,442.9 357.5,442.9 358.4,442.9 359.2,442.9 360.1,442.9 361.0,442.9 361.9,442.9 362.7,442.9 363.6,442.9 364.5,442.9 365.4,442.9 366.2,442.9 367.1,442.9 368.0,442.9 368.9,442.9 369.7,442.9 370.6,442.9 371.5,442.9 372.4,442.7 373.2,442.2 374.1,441.5 375.0,440.6 375.9,439.6 376.8,438.5 377.6,437.3 378.5,436.1 379.4,435.0 380.3,434.0 381.1,433.1 382.0,432.2 382.9,431.3 383.8,430.4 384.6,429.5 385.5,428.5 386.4,427.4 387.3,426.2 388.1,424.5 389.0,422.4 389.9,420.6 390.8,419.8 391.6,420.5 392.5,422.1 393.4,423.7 394.3,424.4 395.1,424.4 396.0,424.3 396.9,424.2 397.8,424.1 398.6,424.0 399.5,423.9 400.4,423.7 401.3,423.5 402.2,423.3 403.0,423.1 403.9,422.9 404.8,422.7 405.7,422.6 406.5,422.4 407.4,422.2 408.3,422.1 409.2,422.0 410.0,421.8 410.9,421.7 411.8,421.6 412.7,421.5 413.5,421.4 414.4,421.3 415.3,421.2 416.2,421.1 417.0,421.0 417.9,420.9 418.8,420.7 419.7,420.6 420.5,420.5 421.4,420.4 422.3,420.3 423.2,420.2 424.0,420.1 424.9,419.9 425.8,419.8 426.7,419.7 427.5,419.5 428.4,419.4 429.3,419.2 430.2,419.1 431.1,419.0 431.9,418.8 432.8,418.7 433.7,418.6 434.6,418.4 435.4,418.3 436.3,418.1 437.2,418.0 438.1,417.8 438.9,417.7 439.8,417.5 440.7,417.3 441.6,417.1 442.4,416.9 443.3,416.8 444.2,416.6 445.1,416.3 445.9,416.1 446.8,415.9 447.7,415.7 448.6,415.4 449.4,415.2 450.3,414.9 451.2,414.6 452.1,414.3 452.9,414.0 453.8,413.6 454.7,413.2 455.6,412.7 456.5,412.3 457.3,411.7 458.2,411.2 459.1,410.6 460.0,409.8 460.8,408.9 461.7,407.8 462.6,406.6 463.5,405.3 464.3,403.9 465.2,402.5 466.1,401.0 467.0,399.3 467.8,397.5 468.7,395.7 469.6,393.7 470.5,391.8 471.3,389.8 472.2,387.8 473.1,385.8 474.0,383.8 474.8,381.7 475.7,379.4 476.6,377.1 477.5,374.7 478.3,372.1 479.2,369.5 480.1,366.7 481.0,363.9 481.8,361.0 482.7,358.0 483.6,354.9 484.5,351.7 485.4,348.5 486.2,345.3 487.1,341.9 488.0,338.4 488.9,334.7 489.7,330.7 490.6,326.3 491.5,321.3 492.4,315.5 493.2,309.4 494.1,303.3 495.0,297.6 495.9,292.2 496.7,286.8 497.6,280.9 498.5,274.0 499.4,264.3 500.2,254.4 501.1,248.1 502.0,243.3 502.9,238.9 503.7,234.9 504.6,231.4 505.5,228.1 506.4,225.2 507.2,222.6 508.1,220.2 509.0,218.1 509.9,216.0 510.8,214.0 511.6,212.0 512.5,210.3 513.4,209.1 514.3,208.7 515.1,209.0 516.0,209.8 516.9,211.1 517.8,212.6 518.6,214.3 519.5,216.1 520.4,217.9 521.3,220.1 522.1,222.9 523.0,225.9 523.9,228.7 524.8,230.7 525.6,231.5 526.5,231.6 527.4,231.6 528.3,231.7 529.1,231.7 530.0,231.7 530.9,231.7 531.8,231.0 532.6,229.0 533.5,226.1 534.4,222.6 535.3,218.8 536.1,215.0 537.0,211.5 537.9,208.3 538.8,204.9 539.7,201.3 540.5,197.7 541.4,194.1 542.3,190.3 543.2,186.6 544.0,182.8 544.9,179.0 545.8,175.1 546.7,171.2 547.5,167.1 548.4,162.8 549.3,158.4 550.2,153.7 551.0,148.9 551.9,144.0 552.8,139.0 553.7,133.9 554.5,128.7 555.4,123.6 556.3,118.6 557.2,113.8 558.0,113.2 558.9,114.9 559.8,117.9 560.7,121.4 561.5,125.0 562.4,129.1 563.3,134.0 564.2,139.6 565.1,145.7 565.9,152.5 566.8,159.8 567.7,167.5 568.6,176.7 569.4,187.6 570.3,199.9 571.2,212.9 572.1,226.2 572.9,239.3 573.8,252.6 574.7,266.8 575.6,281.2 576.4,295.5 577.3,309.0 578.2,321.2 579.1,332.7 579.9,344.0 580.8,355.0 581.7,365.3 582.6,374.7 583.4,382.8 584.3,389.5 585.2,395.2 586.1,400.4 586.9,405.2 587.8,409.5 588.7,413.4 589.6,416.9 590.4,419.9 591.3,422.5 592.2,424.8 593.1,427.0 594.0,429.0 594.8,431.0 595.7,432.7 596.6,434.3 597.5,435.7 598.3,436.8 599.2,437.7 600.1,438.4 601.0,438.9 601.8,439.3 602.7,439.7 603.6,440.0 604.5,440.3 605.3,440.6 606.2,440.9 607.1,441.1 608.0,441.3 608.8,441.6 609.7,441.8 610.6,442.1 611.5,442.4 612.3,442.7 613.2,443.0 614.1,443.4 615.0,443.8 615.8,444.2 616.7,444.5 617.6,444.9 618.5,445.3 619.3,445.7 620.2,446.1 621.1,446.4 622.0,446.8 622.9,447.1 623.7,447.3 624.6,447.5 625.5,447.7 626.4,447.9 627.2,447.9 628.1,448.0 629.0,448.0 629.9,448.1 630.7,448.1 631.6,448.2 632.5,448.2 633.4,448.3 634.2,448.3 635.1,448.3 636.0,448.4 636.9,448.4 637.7,448.4 638.6,448.5 639.5,448.5 640.4,448.5 641.2,448.5 642.1,448.6 643.0,448.6 643.9,448.6 644.7,448.6 645.6,448.6 646.5,448.6 647.4,448.6 648.3,448.6 649.1,448.6 650.0,448.6 650.9,448.6 651.8,448.6 652.6,448.6 653.5,448.6 654.4,448.6 655.3,448.6 656.1,448.6 657.0,448.6 657.9,448.6 658.8,448.6 659.6,448.6 660.5,448.6 661.4,448.6 662.3,448.6 663.1,448.6 664.0,448.6 664.9,448.6 665.8,448.6 666.6,448.6 667.5,448.6 668.4,448.6 669.3,448.6 670.1,448.6 671.0,448.6 671.9,448.6 672.8,448.6 673.6,448.6 674.5,448.6 675.4,448.6 676.3,448.6 677.2,448.6 678.0,448.6 678.9,448.6 679.8,448.6" fill="none" stroke="#0000ff" stroke-width="3.0" stroke-linejoin="round" stroke-linecap="round"/>
<polyline points="158.7,454.4 159.6,454.4 160.4,454.4 161.3,454.4 162.2,454.4 163.1,454.4 163.9,454.4 164.8,454.4 165.7,454.4 166.6,454.4 167.4,454.4 168.3,454.4 169.2,454.4 170.1,454.4 170.9,454.4 171.8,454.4 172.7,454.4 173.6,454.4 174.4,454.4 175.3,454.4 176.2,454.4 177.1,454.4 177.9,454.4 178.8,454.4 179.7,454.4 180.6,454.4 181.4,454.4 182.3,454.4 183.2,454.4 184.1,454.4 185.0,454.4 185.8,454.4 186.7,454.4 187.6,454.4 188.5,454.4 189.3,454.4 190.2,454.4 191.1,454.4 192.0,454.4 192.8,454.4 193.7,454.4 194.6,454.4 195.5,454.4 196.3,454.4 197.2,454.4 198.1,454.4 199.0,454.4 199.8,454.4 200.7,454.4 201.6,454.4 202.5,454.4 203.3,454.4 204.2,454.4 205.1,454.4 206.0,454.4 206.8,454.4 207.7,454.4 208.6,454.4 209.5,454.4 210.4,454.4 211.2,454.4 212.1,454.4 213.0,454.4 213.9,454.4 214.7,454.2 215.6,453.7 216.5,453.0 217.4,452.1 218.2,450.8 219.1,448.8 220.0,446.1 220.9,442.9 221.7,438.4 222.6,431.9 223.5,423.4 224.4,412.9 225.2,394.7 226.1,371.3 227.0,345.6 227.9,324.8 228.7,314.4 229.6,306.8 230.5,301.6 231.4,297.5 232.2,294.2 233.1,291.6 234.0,289.9 234.9,288.8 235.7,288.3 236.6,290.2 237.5,294.6 238.4,299.9 239.3,306.2 240.1,314.1 241.0,322.7 241.9,330.9 242.8,338.7 243.6,346.7 244.5,354.5 245.4,361.7 246.3,367.9 247.1,373.2 248.0,378.0 248.9,382.5 249.8,386.4 250.6,389.8 251.5,392.8 252.4,395.7 253.3,398.3 254.1,400.7 255.0,402.8 255.9,404.8 256.8,406.5 257.6,408.1 258.5,409.4 259.4,410.7 260.3,411.8 261.1,412.9 262.0,414.0 262.9,415.2 263.8,416.3 264.7,417.4 265.5,418.5 266.4,419.6 267.3,420.7 268.2,421.8 269.0,423.0 269.9,424.3 270.8,425.6 271.7,427.0 272.5,428.5 273.4,429.9 274.3,431.4 275.2,432.8 276.0,434.3 276.9,435.8 277.8,437.4 278.7,439.0 279.5,440.5 280.4,442.0 281.3,443.4 282.2,444.6 283.0,445.8 283.9,447.0 284.8,448.3 285.7,449.4 286.5,450.5 287.4,451.5 288.3,452.3 289.2,452.9 290.0,453.2 290.9,453.4 291.8,453.6 292.7,453.8 293.6,454.0 294.4,454.1 295.3,454.2 296.2,454.3 297.1,454.3 297.9,454.4 298.8,454.4 299.7,454.4 300.6,454.4 301.4,454.4 302.3,454.4 303.2,454.4 304.1,454.4 304.9,454.4 305.8,454.4 306.7,454.4 307.6,454.4 308.4,454.4 309.3,454.4 310.2,454.4 311.1,454.4 311.9,454.4 312.8,454.4 313.7,454.4 314.6,454.4 315.4,454.4 316.3,454.4 317.2,454.4 318.1,454.4 319.0,454.4 319.8,454.4 320.7,454.4 321.6,454.4 322.5,454.4 323.3,454.4 324.2,454.4 325.1,454.4 326.0,454.4 326.8,454.4 327.7,454.4 328.6,454.4 329.5,454.4 330.3,454.4 331.2,454.4 332.1,454.4 333.0,454.4 333.8,454.4 334.7,454.4 335.6,454.4 336.5,454.4 337.3,454.4 338.2,454.4 339.1,454.4 340.0,454.4 340.8,454.4 341.7,454.4 342.6,454.4 343.5,454.4 344.3,454.4 345.2,454.4 346.1,454.4 347.0,454.4 347.9,454.4 348.7,454.4 349.6,454.4 350.5,454.4 351.4,454.4 352.2,454.4 353.1,454.4 354.0,454.4 354.9,454.4 355.7,454.4 356.6,454.4 357.5,454.4 358.4,454.4 359.2,454.4 360.1,454.4 361.0,454.4 361.9,454.4 362.7,454.4 363.6,454.4 364.5,454.4 365.4,454.4 366.2,454.4 367.1,454.4 368.0,454.4 368.9,454.4 369.7,454.4 370.6,454.4 371.5,454.4 372.4,454.2 373.2,453.6 374.1,452.7 375.0,451.5 375.9,450.2 376.8,448.7 377.6,447.2 378.5,445.7 379.4,444.3 380.3,443.0 381.1,441.8 382.0,440.6 382.9,439.4 383.8,438.2 384.6,437.0 385.5,435.7 386.4,434.3 387.3,432.8 388.1,430.8 389.0,428.4 389.9,426.4 390.8,425.6 391.6,426.3 392.5,427.9 393.4,429.5 394.3,430.2 395.1,430.2 396.0,430.1 396.9,430.0 397.8,429.9 398.6,429.8 399.5,429.6 400.4,429.5 401.3,429.3 402.2,429.1 403.0,428.9 403.9,428.7 404.8,428.5 405.7,428.3 406.5,428.2 407.4,428.0 408.3,427.9 409.2,427.7 410.0,427.6 410.9,427.5 411.8,427.4 412.7,427.3 413.5,427.2 414.4,427.1 415.3,426.9 416.2,426.8 417.0,426.7 417.9,426.6 418.8,426.5 419.7,426.4 420.5,426.3 421.4,426.2 422.3,426.1 423.2,425.9 424.0,425.8 424.9,425.7 425.8,425.6 426.7,425.4 427.5,425.3 428.4,425.2 429.3,425.0 430.2,424.9 431.1,424.8 431.9,424.7 432.8,424.6 433.7,424.5 434.6,424.3 435.4,424.2 436.3,424.1 437.2,423.9 438.1,423.8 438.9,423.7 439.8,423.5 440.7,423.3 441.6,423.1 442.4,423.0 443.3,422.8 444.2,422.5 445.1,422.3 445.9,422.1 446.8,421.8 447.7,421.5 448.6,421.3 449.4,420.9 450.3,420.5 451.2,419.9 452.1,419.2 452.9,418.3 453.8,417.3 454.7,416.2 455.6,415.1 456.5,413.9 457.3,412.8 458.2,411.6 459.1,410.6 460.0,409.5 460.8,408.5 461.7,407.4 462.6,406.3 463.5,405.1 464.3,403.8 465.2,402.5 466.1,401.0 467.0,399.3 467.8,397.5 468.7,395.7 469.6,393.7 470.5,391.8 471.3,389.8 472.2,387.8 473.1,385.8 474.0,383.8 474.8,381.7 475.7,379.4 476.6,377.1 477.5,374.7 478.3,372.1 479.2,369.5 480.1,366.7 481.0,363.9 481.8,361.0 482.7,358.0 483.6,354.9 484.5,351.7 485.4,348.5 486.2,345.3 487.1,341.9 488.0,338.4 488.9,334.7 489.7,330.7 490.6,326.3 491.5,321.3 492.4,315.5 493.2,309.4 494.1,303.3 495.0,297.6 495.9,292.2 496.7,286.8 497.6,280.9 498.5,274.0 499.4,264.3 500.2,254.4 501.1,248.1 502.0,243.3 502.9,238.9 503.7,234.9 504.6,231.4 505.5,228.1 506.4,225.2 507.2,222.6 508.1,220.2 509.0,218.1 509.9,216.0 510.8,214.0 511.6,212.0 512.5,210.3 513.4,209.1 514.3,208.7 515.1,209.0 516.0,209.9 516.9,211.2 517.8,212.9 518.6,214.7 519.5,216.6 520.4,218.5 521.3,220.7 522.1,223.7 523.0,226.8 523.9,229.7 524.8,231.8 525.6,232.6 526.5,232.7 527.4,232.8 528.3,232.8 529.1,232.9 530.0,232.9 530.9,232.9 531.8,232.1 532.6,230.0 533.5,226.8 534.4,223.1 535.3,218.9 536.1,214.9 537.0,211.1 537.9,207.6 538.8,203.9 539.7,200.1 540.5,196.3 541.4,192.3 542.3,188.3 543.2,184.2 544.0,180.2 544.9,176.1 545.8,171.9 546.7,167.6 547.5,163.2 548.4,158.6 549.3,153.8 550.2,148.8 551.0,143.6 551.9,138.3 552.8,133.0 553.7,127.5 554.5,121.8 555.4,116.3 556.3,111.0 557.2,105.8 558.0,105.1 558.9,106.9 559.8,109.9 560.7,113.5 561.5,117.2 562.4,121.5 563.3,126.4 564.2,132.1 565.1,138.4 565.9,145.3 566.8,152.8 567.7,160.8 568.6,170.1 569.4,181.3 570.3,193.8 571.2,207.2 572.1,220.8 572.9,234.2 573.8,247.8 574.7,262.3 575.6,277.1 576.4,291.7 577.3,305.5 578.2,318.1 579.1,329.8 579.9,341.3 580.8,352.4 581.7,362.9 582.6,372.4 583.4,380.9 584.3,388.0 585.2,394.1 586.1,399.9 586.9,405.2 587.8,410.1 588.7,414.5 589.6,418.4 590.4,421.8 591.3,424.7 592.2,427.2 593.1,429.6 594.0,431.8 594.8,433.8 595.7,435.7 596.6,437.4 597.5,438.9 598.3,440.2 599.2,441.3 600.1,442.2 601.0,442.9 601.8,443.5 602.7,444.1 603.6,444.6 604.5,445.0 605.3,445.5 606.2,445.9 607.1,446.2 608.0,446.6 608.8,446.9 609.7,447.3 610.6,447.6 611.5,448.0 612.3,448.4 613.2,448.8 614.1,449.2 615.0,449.6 615.8,450.0 616.7,450.4 617.6,450.8 618.5,451.2 619.3,451.6 620.2,451.9 621.1,452.3 622.0,452.6 622.9,452.9 623.7,453.1 624.6,453.3 625.5,453.5 626.4,453.6 627.2,453.7 628.1,453.8 629.0,453.8 629.9,453.9 630.7,453.9 631.6,454.0 632.5,454.0 633.4,454.0 634.2,454.1 635.1,454.1 636.0,454.1 636.9,454.2 637.7,454.2 638.6,454.2 639.5,454.3 640.4,454.3 641.2,454.3 642.1,454.3 643.0,454.3 643.9,454.4 644.7,454.4 645.6,454.4 646.5,454.4 647.4,454.4 648.3,454.4 649.1,454.4 650.0,454.4 650.9,454.4 651.8,454.4 652.6,454.4 653.5,454.4 654.4,454.4 655.3,454.4 656.1,454.4 657.0,454.4 657.9,454.4 658.8,454.4 659.6,454.4 660.5,454.4 661.4,454.4 662.3,454.4 663.1,454.4 664.0,454.4 664.9,454.4 665.8,454.4 666.6,454.4 667.5,454.4 668.4,454.4 669.3,454.4 670.1,454.4 671.0,454.4 671.9,454.4 672.8,454.4 673.6,454.4 674.5,454.4 675.4,454.4 676.3,454.4 677.2,454.4 678.0,454.4 678.9,454.4 679.8,454.4" fill="none" stroke="#ff00ff" stroke-width="3.0" stroke-linejoin="round" stroke-linecap="round"/>
<polyline points="158.7,454.4 159.6,454.4 160.4,454.4 161.3,454.4 162.2,454.4 163.1,454.4 163.9,454.4 164.8,454.4 165.7,454.4 166.6,454.4 167.4,454.4 168.3,454.4 169.2,454.4 170.1,454.4 170.9,454.4 171.8,454.4 172.7,454.4 173.6,454.4 174.4,454.4 175.3,454.4 176.2,454.4 177.1,454.4 177.9,454.4 178.8,454.4 179.7,454.4 180.6,454.4 181.4,454.4 182.3,454.4 183.2,454.4 184.1,454.4 185.0,454.4 185.8,454.4 186.7,454.4 187.6,454.4 188.5,454.4 189.3,454.4 190.2,454.4 191.1,454.4 192.0,454.4 192.8,454.4 193.7,454.4 194.6,454.4 195.5,454.4 196.3,454.4 197.2,454.4 198.1,454.4 199.0,454.4 199.8,454.4 200.7,454.4 201.6,454.4 202.5,454.4 203.3,454.4 204.2,454.4 205.1,454.4 206.0,454.4 206.8,454.4 207.7,454.4 208.6,454.4 209.5,454.4 210.4,454.4 211.2,454.4 212.1,454.4 213.0,454.4 213.9,454.4 214.7,454.2 215.6,453.7 216.5,453.0 217.4,452.1 218.2,450.7 219.1,448.6 220.0,445.9 220.9,442.9 221.7,439.3 222.6,434.9 223.5,429.1 224.4,421.5 225.2,407.3 226.1,388.6 227.0,368.3 227.9,351.8 228.7,343.6 229.6,337.6 230.5,333.4 231.4,330.2 232.2,327.6 233.1,325.5 234.0,324.2 234.9,323.3 235.7,322.9 236.6,324.4 237.5,327.9 238.4,332.1 239.3,336.9 240.1,342.8 241.0,349.1 241.9,355.1 242.8,360.9 243.6,366.9 244.5,372.7 245.4,377.7 246.3,381.4 247.1,383.9 248.0,386.1 248.9,387.9 249.8,389.5 250.6,391.2 251.5,392.9 252.4,394.5 253.3,396.1 254.1,397.7 255.0,399.1 255.9,400.5 256.8,401.7 257.6,402.8 258.5,403.7 259.4,404.6 260.3,405.5 261.1,406.3 262.0,407.2 262.9,408.3 263.8,409.3 264.7,410.5 265.5,411.7 266.4,413.0 267.3,414.2 268.2,415.5 269.0,416.8 269.9,418.1 270.8,419.4 271.7,420.7 272.5,422.1 273.4,423.5 274.3,424.9 275.2,426.2 276.0,427.7 276.9,429.2 277.8,430.7 278.7,432.2 279.5,433.7 280.4,435.1 281.3,436.4 282.2,437.7 283.0,438.9 283.9,440.1 284.8,441.3 285.7,442.5 286.5,443.6 287.4,444.6 288.3,445.4 289.2,446.0 290.0,446.3 290.9,446.5 291.8,446.7 292.7,446.9 293.6,447.0 294.4,447.2 295.3,447.3 296.2,447.4 297.1,447.4 297.9,447.5 298.8,447.5 299.7,447.5 300.6,447.5 301.4,447.5 302.3,447.5 303.2,447.5 304.1,447.5 304.9,447.5 305.8,447.5 306.7,447.5 307.6,447.5 308.4,447.5 309.3,447.5 310.2,447.5 311.1,447.5 311.9,447.5 312.8,447.5 313.7,447.5 314.6,447.5 315.4,447.5 316.3,447.5 317.2,447.5 318.1,447.5 319.0,447.5 319.8,447.5 320.7,447.5 321.6,447.5 322.5,447.5 323.3,447.5 324.2,447.5 325.1,447.5 326.0,447.5 326.8,447.5 327.7,447.5 328.6,447.5 329.5,447.5 330.3,447.5 331.2,447.5 332.1,447.5 333.0,447.5 333.8,447.5 334.7,447.5 335.6,447.5 336.5,447.5 337.3,447.5 338.2,447.5 339.1,447.5 340.0,447.5 340.8,447.5 341.7,447.5 342.6,447.5 343.5,447.5 344.3,447.5 345.2,447.5 346.1,447.5 347.0,447.5 347.9,447.5 348.7,447.5 349.6,447.5 350.5,447.5 351.4,447.5 352.2,447.5 353.1,447.5 354.0,447.5 354.9,447.5 355.7,447.5 356.6,447.5 357.5,447.5 358.4,447.5 359.2,447.5 360.1,447.5 361.0,447.5 361.9,447.5 362.7,447.5 363.6,447.5 364.5,447.5 365.4,447.5 366.2,447.5 367.1,447.5 368.0,447.5 368.9,447.5 369.7,447.5 370.6,447.5 371.5,447.5 372.4,447.3 373.2,446.8 374.1,446.1 375.0,445.1 375.9,444.0 376.8,442.8 377.6,441.6 378.5,440.4 379.4,439.2 380.3,438.1 381.1,437.2 382.0,436.2 382.9,435.3 383.8,434.3 384.6,433.3 385.5,432.2 386.4,431.1 387.3,429.8 388.1,428.1 389.0,425.9 389.9,424.0 390.8,423.3 391.6,424.0 392.5,425.6 393.4,427.1 394.3,427.9 395.1,427.8 396.0,427.8 396.9,427.7 397.8,427.6 398.6,427.5 399.5,427.3 400.4,427.1 401.3,427.0 402.2,426.8 403.0,426.6 403.9,426.4 404.8,426.2 405.7,426.0 406.5,425.9 407.4,425.7 408.3,425.6 409.2,425.4 410.0,425.3 410.9,425.2 411.8,425.1 412.7,425.0 413.5,424.9 414.4,424.7 415.3,424.6 416.2,424.5 417.0,424.4 417.9,424.3 418.8,424.2 419.7,424.1 420.5,424.0 421.4,423.9 422.3,423.8 423.2,423.6 424.0,423.5 424.9,423.4 425.8,423.3 426.7,423.1 427.5,423.0 428.4,422.8 429.3,422.7 430.2,422.6 431.1,422.5 431.9,422.3 432.8,422.2 433.7,422.1 434.6,421.9 435.4,421.8 436.3,421.6 437.2,421.5 438.1,421.3 438.9,421.2 439.8,421.0 440.7,420.8 441.6,420.7 442.4,420.5 443.3,420.3 444.2,420.1 445.1,419.9 445.9,419.6 446.8,419.4 447.7,419.2 448.6,418.9 449.4,418.6 450.3,418.3 451.2,418.0 452.1,417.6 452.9,417.2 453.8,416.8 454.7,416.3 455.6,415.8 456.5,415.2 457.3,414.7 458.2,414.1 459.1,413.4 460.0,412.7 460.8,412.0 461.7,411.3 462.6,410.6 463.5,409.7 464.3,408.8 465.2,407.7 466.1,406.5 467.0,405.2 467.8,403.9 468.7,402.5 469.6,401.0 470.5,399.3 471.3,397.5 472.2,395.7 473.1,393.7 474.0,391.8 474.8,389.8 475.7,387.8 476.6,385.8 477.5,383.8 478.3,381.7 479.2,379.4 480.1,377.1 481.0,374.7 481.8,372.1 482.7,369.5 483.6,366.7 484.5,363.9 485.4,361.0 486.2,358.0 487.1,354.9 488.0,351.7 488.9,348.3 489.7,344.7 490.6,340.8 491.5,336.9 492.4,333.1 493.2,329.6 494.1,326.3 495.0,323.3 495.9,320.3 496.7,317.4 497.6,314.4 498.5,311.5 499.4,308.7 500.2,305.9 501.1,303.2 502.0,300.5 502.9,298.0 503.7,295.5 504.6,293.2 505.5,291.0 506.4,288.9 507.2,287.0 508.1,285.2 509.0,283.5 509.9,282.1 510.8,280.6 511.6,279.2 512.5,277.9 513.4,277.1 514.3,276.7 515.1,276.7 516.0,276.7 516.9,276.7 517.8,276.7 518.6,276.7 519.5,276.7 520.4,276.7 521.3,277.1 522.1,277.9 523.0,279.0 523.9,280.1 524.8,280.9 525.6,281.3 526.5,281.3 527.4,281.3 528.3,281.3 529.1,281.3 530.0,281.3 530.9,281.3 531.8,280.8 532.6,279.2 533.5,276.8 534.4,274.0 535.3,270.9 536.1,267.9 537.0,265.1 537.9,262.4 538.8,259.7 539.7,256.9 540.5,253.9 541.4,251.0 542.3,248.0 543.2,245.0 544.0,241.9 544.9,238.9 545.8,235.7 546.7,232.5 547.5,229.2 548.4,225.8 549.3,222.2 550.2,218.5 551.0,214.6 551.9,210.6 552.8,206.7 553.7,202.5 554.5,198.3 555.4,194.2 556.3,190.2 557.2,186.3 558.0,185.8 558.9,187.2 559.8,189.5 560.7,192.3 561.5,195.1 562.4,198.4 563.3,202.2 564.2,206.6 565.1,211.4 565.9,216.7 566.8,222.5 567.7,228.6 568.6,235.8 569.4,244.4 570.3,254.0 571.2,264.3 572.1,274.8 572.9,285.0 573.8,295.5 574.7,306.7 575.6,318.1 576.4,329.3 577.3,339.9 578.2,349.6 579.1,358.6 579.9,367.5 580.8,376.1 581.7,384.2 582.6,391.6 583.4,398.0 584.3,403.3 585.2,407.8 586.1,412.0 586.9,415.9 587.8,419.4 588.7,422.5 589.6,425.3 590.4,427.8 591.3,429.8 592.2,431.7 593.1,433.4 594.0,435.1 594.8,436.6 595.7,438.0 596.6,439.3 597.5,440.4 598.3,441.3 599.2,442.0 600.1,442.6 601.0,443.0 601.8,443.3 602.7,443.6 603.6,443.9 604.5,444.1 605.3,444.3 606.2,444.5 607.1,444.7 608.0,444.9 608.8,445.1 609.7,445.3 610.6,445.5 611.5,445.8 612.3,446.0 613.2,446.3 614.1,446.6 615.0,446.9 615.8,447.2 616.7,447.5 617.6,447.8 618.5,448.1 619.3,448.4 620.2,448.7 621.1,449.0 622.0,449.3 622.9,449.5 623.7,449.7 624.6,449.9 625.5,450.1 626.4,450.2 627.2,450.2 628.1,450.3 629.0,450.3 629.9,450.4 630.7,450.4 631.6,450.5 632.5,450.5 633.4,450.6 634.2,450.6 635.1,450.6 636.0,450.7 636.9,450.7 637.7,450.7 638.6,450.8 639.5,450.8 640.4,450.8 641.2,450.8 642.1,450.9 643.0,450.9 643.9,450.9 644.7,450.9 645.6,450.9 646.5,450.9 647.4,450.9 648.3,450.9 649.1,450.9 650.0,450.9 650.9,450.9 651.8,450.9 652.6,450.9 653.5,450.9 654.4,450.9 655.3,450.9 656.1,450.9 657.0,450.9 657.9,450.9 658.8,450.9 659.6,450.9 660.5,450.9 661.4,450.9 662.3,450.9 663.1,450.9 664.0,450.9 664.9,450.9 665.8,450.9 666.6,450.9 667.5,450.9 668.4,450.9 669.3,450.9 670.1,450.9 671.0,450.9 671.9,450.9 672.8,450.9 673.6,450.9 674.5,450.9 675.4,450.9 676.3,450.9 677.2,450.9 678.0,450.9 678.9,450.9 679.8,450.9" fill="none" stroke="#008000" stroke-width="3.0" stroke-linejoin="round" stroke-linecap="round"/>
<polyline points="158.7,454.4 159.6,454.4 160.4,454.4 161.3,454.4 162.2,454.4 163.1,454.4 163.9,454.4 164.8,454.4 165.7,454.4 166.6,454.4 167.4,454.4 168.3,454.4 169.2,454.4 170.1,454.4 170.9,454.4 171.8,454.4 172.7,454.4 173.6,454.4 174.4,454.4 175.3,454.4 176.2,454.4 177.1,454.4 177.9,454.4 178.8,454.4 179.7,454.4 180.6,454.4 181.4,454.4 182.3,454.4 183.2,454.4 184.1,454.4 185.0,454.4 185.8,454.4 186.7,454.4 187.6,454.4 188.5,454.4 189.3,454.4 190.2,454.4 191.1,454.4 192.0,454.4 192.8,454.4 193.7,454.4 194.6,454.4 195.5,454.4 196.3,454.4 197.2,454.4 198.1,454.4 199.0,454.4 199.8,454.4 200.7,454.4 201.6,454.4 202.5,454.4 203.3,454.4 204.2,454.4 205.1,454.4 206.0,454.4 206.8,454.4 207.7,454.4 208.6,454.4 209.5,454.4 210.4,454.4 211.2,454.4 212.1,454.4 213.0,454.4 213.9,454.4 214.7,454.2 215.6,453.7 216.5,453.0 217.4,452.1 218.2,450.7 219.1,448.5 220.0,445.8 220.9,442.9 221.7,439.8 222.6,436.2 223.5,431.7 224.4,425.6 225.2,413.2 226.1,396.7 227.0,378.8 227.9,364.4 228.7,357.2 229.6,351.9 230.5,348.3 231.4,345.5 232.2,343.1 233.1,341.4 234.0,340.2 234.9,339.4 235.7,339.0 236.6,340.4 237.5,343.5 238.4,347.1 239.3,351.2 240.1,356.1 241.0,361.3 241.9,366.1 242.8,371.0 243.6,376.2 244.5,381.0 245.4,384.8 246.3,386.9 247.1,387.7 248.0,388.3 248.9,388.7 249.8,389.2 250.6,389.8 251.5,390.6 252.4,391.6 253.3,392.7 254.1,393.8 255.0,395.0 255.9,396.0 256.8,397.0 257.6,397.8 258.5,398.6 259.4,399.3 260.3,400.0 261.1,400.8 262.0,401.6 262.9,402.5 263.8,403.5 264.7,404.8 265.5,406.1 266.4,407.5 267.3,408.9 268.2,410.3 269.0,411.6 269.9,412.9 270.8,414.3 271.7,415.6 272.5,416.9 273.4,418.2 274.3,419.6 275.2,420.9 276.0,422.3 276.9,423.8 277.8,425.3 278.7,426.7 279.5,428.2 280.4,429.6 281.3,430.9 282.2,432.2 283.0,433.4 283.9,434.6 284.8,435.8 285.7,437.0 286.5,438.1 287.4,439.1 288.3,439.9 289.2,440.6 290.0,440.9 290.9,441.1 291.8,441.3 292.7,441.5 293.6,441.6 294.4,441.7 295.3,441.9 296.2,441.9 297.1,442.0 297.9,442.0 298.8,442.1 299.7,442.1 300.6,442.1 301.4,442.1 302.3,442.1 303.2,442.1 304.1,442.1 304.9,442.1 305.8,442.1 306.7,442.1 307.6,442.1 308.4,442.1 309.3,442.1 310.2,442.1 311.1,442.1 311.9,442.1 312.8,442.1 313.7,442.1 314.6,442.1 315.4,442.1 316.3,442.1 317.2,442.1 318.1,442.1 319.0,442.1 319.8,442.1 320.7,442.1 321.6,442.1 322.5,442.1 323.3,442.1 324.2,442.1 325.1,442.1 326.0,442.1 326.8,442.1 327.7,442.1 328.6,442.1 329.5,442.1 330.3,442.1 331.2,442.1 332.1,442.1 333.0,442.1 333.8,442.1 334.7,442.1 335.6,442.1 336.5,442.1 337.3,442.1 338.2,442.1 339.1,442.1 340.0,442.1 340.8,442.1 341.7,442.1 342.6,442.1 343.5,442.1 344.3,442.1 345.2,442.1 346.1,442.1 347.0,442.1 347.9,442.1 348.7,442.1 349.6,442.1 350.5,442.1 351.4,442.1 352.2,442.1 353.1,442.1 354.0,442.1 354.9,442.1 355.7,442.1 356.6,442.1 357.5,442.1 358.4,442.1 359.2,442.1 360.1,442.1 361.0,442.1 361.9,442.1 362.7,442.1 363.6,442.1 364.5,442.1 365.4,442.1 366.2,442.1 367.1,442.1 368.0,442.1 368.9,442.1 369.7,442.1 370.6,442.1 371.5,442.1 372.4,441.9 373.2,441.5 374.1,440.8 375.0,439.9 375.9,438.9 376.8,437.9 377.6,436.7 378.5,435.6 379.4,434.6 380.3,433.6 381.1,432.7 382.0,431.9 382.9,431.0 383.8,430.1 384.6,429.2 385.5,428.3 386.4,427.2 387.3,426.1 388.1,424.4 389.0,422.3 389.9,420.5 390.8,419.8 391.6,420.5 392.5,422.1 393.4,423.7 394.3,424.4 395.1,424.4 396.0,424.3 396.9,424.2 397.8,424.1 398.6,424.0 399.5,423.9 400.4,423.7 401.3,423.5 402.2,423.3 403.0,423.1 403.9,422.9 404.8,422.7 405.7,422.6 406.5,422.4 407.4,422.2 408.3,422.1 409.2,422.0 410.0,421.8 410.9,421.7 411.8,421.6 412.7,421.5 413.5,421.4 414.4,421.3 415.3,421.2 416.2,421.1 417.0,421.0 417.9,420.9 418.8,420.7 419.7,420.6 420.5,420.5 421.4,420.4 422.3,420.3 423.2,420.2 424.0,420.1 424.9,419.9 425.8,419.8 426.7,419.7 427.5,419.5 428.4,419.4 429.3,419.2 430.2,419.1 431.1,418.9 431.9,418.8 432.8,418.6 433.7,418.5 434.6,418.3 435.4,418.2 436.3,418.0 437.2,417.8 438.1,417.7 438.9,417.5 439.8,417.3 440.7,417.2 441.6,417.0 442.4,416.8 443.3,416.6 444.2,416.4 445.1,416.2 445.9,416.0 446.8,415.8 447.7,415.6 448.6,415.4 449.4,415.2 450.3,415.0 451.2,414.7 452.1,414.5 452.9,414.3 453.8,414.1 454.7,413.9 455.6,413.7 456.5,413.4 457.3,413.2 458.2,412.9 459.1,412.6 460.0,412.2 460.8,411.9 461.7,411.5 462.6,411.0 463.5,410.6 464.3,409.9 465.2,409.0 466.1,407.9 467.0,406.7 467.8,405.3 468.7,403.9 469.6,402.5 470.5,401.0 471.3,399.3 472.2,397.5 473.1,395.7 474.0,393.7 474.8,391.8 475.7,389.8 476.6,387.8 477.5,385.8 478.3,383.8 479.2,381.7 480.1,379.4 481.0,377.1 481.8,374.7 482.7,372.1 483.6,369.5 484.5,366.7 485.4,363.9 486.2,361.0 487.1,358.0 488.0,354.9 488.9,351.7 489.7,348.3 490.6,344.6 491.5,340.7 492.4,336.8 493.2,333.0 494.1,329.5 495.0,326.3 495.9,323.5 496.7,320.6 497.6,317.9 498.5,315.1 499.4,312.5 500.2,309.9 501.1,307.3 502.0,304.9 502.9,302.5 503.7,300.3 504.6,298.1 505.5,296.0 506.4,294.1 507.2,292.3 508.1,290.6 509.0,289.1 509.9,287.7 510.8,286.3 511.6,285.1 512.5,284.0 513.4,283.1 514.3,282.5 515.1,282.1 516.0,281.7 516.9,281.4 517.8,281.1 518.6,280.9 519.5,280.8 520.4,280.8 521.3,281.0 522.1,281.5 523.0,282.2 523.9,282.9 524.8,283.4 525.6,283.6 526.5,283.6 527.4,283.6 528.3,283.6 529.1,283.7 530.0,283.7 530.9,283.7 531.8,283.3 532.6,282.3 533.5,280.9 534.4,279.1 535.3,277.2 536.1,275.4 537.0,273.6 537.9,272.0 538.8,270.3 539.7,268.6 540.5,266.8 541.4,265.0 542.3,263.2 543.2,261.3 544.0,259.4 544.9,257.5 545.8,255.6 546.7,253.7 547.5,251.6 548.4,249.5 549.3,247.3 550.2,245.0 551.0,242.6 551.9,240.2 552.8,237.8 553.7,235.2 554.5,232.6 555.4,230.1 556.3,227.7 557.2,225.2 558.0,225.0 558.9,226.2 559.8,228.2 560.7,230.5 561.5,232.9 562.4,235.7 563.3,239.0 564.2,242.7 565.1,246.9 565.9,251.4 566.8,256.3 567.7,261.5 568.6,267.7 569.4,275.0 570.3,283.3 571.2,292.0 572.1,301.0 572.9,309.8 573.8,318.7 574.7,328.2 575.6,338.0 576.4,347.6 577.3,356.6 578.2,364.9 579.1,372.6 579.9,380.2 580.8,387.6 581.7,394.6 582.6,400.9 583.4,406.3 584.3,410.8 585.2,414.5 586.1,417.9 586.9,421.0 587.8,423.9 588.7,426.4 589.6,428.7 590.4,430.6 591.3,432.3 592.2,433.8 593.1,435.2 594.0,436.6 594.8,437.9 595.7,439.1 596.6,440.1 597.5,441.1 598.3,441.8 599.2,442.4 600.1,442.7 601.0,443.0 601.8,443.2 602.7,443.4 603.6,443.5 604.5,443.6 605.3,443.8 606.2,443.9 607.1,444.0 608.0,444.1 608.8,444.2 609.7,444.3 610.6,444.5 611.5,444.6 612.3,444.8 613.2,445.0 614.1,445.2 615.0,445.5 615.8,445.7 616.7,446.0 617.6,446.3 618.5,446.6 619.3,446.8 620.2,447.1 621.1,447.4 622.0,447.6 622.9,447.8 623.7,448.0 624.6,448.2 625.5,448.3 626.4,448.4 627.2,448.5 628.1,448.6 629.0,448.6 629.9,448.7 630.7,448.7 631.6,448.8 632.5,448.8 633.4,448.8 634.2,448.9 635.1,448.9 636.0,448.9 636.9,449.0 637.7,449.0 638.6,449.0 639.5,449.1 640.4,449.1 641.2,449.1 642.1,449.1 643.0,449.1 643.9,449.2 644.7,449.2 645.6,449.2 646.5,449.2 647.4,449.2 648.3,449.2 649.1,449.2 650.0,449.2 650.9,449.2 651.8,449.2 652.6,449.2 653.5,449.2 654.4,449.2 655.3,449.2 656.1,449.2 657.0,449.2 657.9,449.2 658.8,449.2 659.6,449.2 660.5,449.2 661.4,449.2 662.3,449.2 663.1,449.2 664.0,449.2 664.9,449.2 665.8,449.2 666.6,449.2 667.5,449.2 668.4,449.2 669.3,449.2 670.1,449.2 671.0,449.2 671.9,449.2 672.8,449.2 673.6,449.2 674.5,449.2 675.4,449.2 676.3,449.2 677.2,449.2 678.0,449.2 678.9,449.2 679.8,449.2" fill="none" stroke="#000080" stroke-width="3.0" stroke-linejoin="round" stroke-linecap="round"/>
<polyline points="158.7,454.4 159.6,454.4 160.4,454.4 161.3,454.4 162.2,454.4 163.1,454.4 163.9,454.4 164.8,454.4 165.7,454.4 166.6,454.4 167.4,454.4 168.3,454.4 169.2,454.4 170.1,454.4 170.9,454.4 171.8,454.4 172.7,454.4 173.6,454.4 174.4,454.4 175.3,454.4 176.2,454.4 177.1,454.4 177.9,454.4 178.8,454.4 179.7,454.4 180.6,454.4 181.4,454.4 182.3,454.4 183.2,454.4 184.1,454.4 185.0,454.4 185.8,454.4 186.7,454.4 187.6,454.4 188.5,454.4 189.3,454.4 190.2,454.4 191.1,454.4 192.0,454.4 192.8,454.4 193.7,454.4 194.6,454.4 195.5,454.4 196.3,454.4 197.2,454.4 198.1,454.4 199.0,454.4 199.8,454.4 200.7,454.4 201.6,454.4 202.5,454.4 203.3,454.4 204.2,454.4 205.1,454.4 206.0,454.4 206.8,454.4 207.7,454.4 208.6,454.4 209.5,454.4 210.4,454.4 211.2,454.4 212.1,454.4 213.0,454.4 213.9,454.4 214.7,454.2 215.6,453.7 216.5,453.0 217.4,452.1 218.2,450.7 219.1,448.4 220.0,445.7 220.9,442.9 221.7,440.2 222.6,437.5 223.5,433.9 224.4,429.0 225.2,418.2 226.1,403.6 227.0,387.9 227.9,375.2 228.7,368.8 229.6,364.2 230.5,361.0 231.4,358.5 232.2,356.5 233.1,354.9 234.0,353.9 234.9,353.2 235.7,352.9 236.6,354.1 237.5,356.8 238.4,360.0 239.3,363.6 240.1,368.0 241.0,372.6 241.9,376.9 242.8,381.2 243.6,385.8 244.5,390.1 245.4,393.5 246.3,395.6 247.1,396.5 248.0,397.2 248.9,397.8 249.8,398.4 250.6,399.0 251.5,399.8 252.4,400.7 253.3,401.7 254.1,402.6 255.0,403.6 255.9,404.5 256.8,405.4 257.6,406.1 258.5,406.9 259.4,407.5 260.3,408.2 261.1,408.9 262.0,409.7 262.9,410.6 263.8,411.5 264.7,412.6 265.5,413.7 266.4,414.9 267.3,416.2 268.2,417.4 269.0,418.6 269.9,419.9 270.8,421.1 271.7,422.4 272.5,423.6 273.4,424.9 274.3,426.2 275.2,427.5 276.0,428.9 276.9,430.3 277.8,431.7 278.7,433.1 279.5,434.5 280.4,435.8 281.3,437.1 282.2,438.2 283.0,439.4 283.9,440.5 284.8,441.6 285.7,442.7 286.5,443.8 287.4,444.7 288.3,445.4 289.2,446.0 290.0,446.3 290.9,446.5 291.8,446.7 292.7,446.9 293.6,447.0 294.4,447.2 295.3,447.3 296.2,447.4 297.1,447.4 297.9,447.5 298.8,447.5 299.7,447.5 300.6,447.5 301.4,447.5 302.3,447.5 303.2,447.5 304.1,447.5 304.9,447.5 305.8,447.5 306.7,447.5 307.6,447.5 308.4,447.5 309.3,447.5 310.2,447.5 311.1,447.5 311.9,447.5 312.8,447.5 313.7,447.5 314.6,447.5 315.4,447.5 316.3,447.5 317.2,447.5 318.1,447.5 319.0,447.5 319.8,447.5 320.7,447.5 321.6,447.5 322.5,447.5 323.3,447.5 324.2,447.5 325.1,447.5 326.0,447.5 326.8,447.5 327.7,447.5 328.6,447.5 329.5,447.5 330.3,447.5 331.2,447.5 332.1,447.5 333.0,447.5 333.8,447.5 334.7,447.5 335.6,447.5 336.5,447.5 337.3,447.5 338.2,447.5 339.1,447.5 340.0,447.5 340.8,447.5 341.7,447.5 342.6,447.5 343.5,447.5 344.3,447.5 345.2,447.5 346.1,447.5 347.0,447.5 347.9,447.5 348.7,447.5 349.6,447.5 350.5,447.5 351.4,447.5 352.2,447.5 353.1,447.5 354.0,447.5 354.9,447.5 355.7,447.5 356.6,447.5 357.5,447.5 358.4,447.5 359.2,447.5 360.1,447.5 361.0,447.5 361.9,447.5 362.7,447.5 363.6,447.5 364.5,447.5 365.4,447.5 366.2,447.5 367.1,447.5 368.0,447.5 368.9,447.5 369.7,447.5 370.6,447.5 371.5,447.5 372.4,447.3 373.2,446.9 374.1,446.2 375.0,445.4 375.9,444.4 376.8,443.4 377.6,442.3 378.5,441.2 379.4,440.1 380.3,439.2 381.1,438.3 382.0,437.5 382.9,436.6 383.8,435.8 384.6,434.9 385.5,434.0 386.4,432.9 387.3,431.8 388.1,430.1 389.0,428.1 389.9,426.3 390.8,425.6 391.6,426.3 392.5,427.9 393.4,429.5 394.3,430.2 395.1,430.2 396.0,430.1 396.9,430.0 397.8,429.9 398.6,429.8 399.5,429.6 400.4,429.5 401.3,429.3 402.2,429.1 403.0,428.9 403.9,428.7 404.8,428.5 405.7,428.3 406.5,428.2 407.4,428.0 408.3,427.9 409.2,427.7 410.0,427.6 410.9,427.5 411.8,427.4 412.7,427.3 413.5,427.2 414.4,427.1 415.3,426.9 416.2,426.8 417.0,426.7 417.9,426.6 418.8,426.5 419.7,426.4 420.5,426.3 421.4,426.2 422.3,426.1 423.2,425.9 424.0,425.8 424.9,425.7 425.8,425.6 426.7,425.4 427.5,425.3 428.4,425.2 429.3,425.0 430.2,424.9 431.1,424.8 431.9,424.6 432.8,424.5 433.7,424.4 434.6,424.2 435.4,424.1 436.3,423.9 437.2,423.8 438.1,423.6 438.9,423.5 439.8,423.3 440.7,423.1 441.6,423.0 442.4,422.8 443.3,422.6 444.2,422.4 445.1,422.2 445.9,421.9 446.8,421.7 447.7,421.5 448.6,421.2 449.4,420.9 450.3,420.6 451.2,420.3 452.1,419.9 452.9,419.5 453.8,419.1 454.7,418.6 455.6,418.1 456.5,417.5 457.3,417.0 458.2,416.3 459.1,415.7 460.0,415.0 460.8,414.4 461.7,413.6 462.6,412.9 463.5,412.1 464.3,411.4 465.2,410.6 466.1,409.7 467.0,408.7 467.8,407.6 468.7,406.4 469.6,405.2 470.5,403.9 471.3,402.5 472.2,401.0 473.1,399.3 474.0,397.5 474.8,395.7 475.7,393.7 476.6,391.8 477.5,389.8 478.3,387.8 479.2,385.8 480.1,383.8 481.0,381.7 481.8,379.4 482.7,377.1 483.6,374.7 484.5,372.1 485.4,369.5 486.2,366.7 487.1,363.9 488.0,361.0 488.9,358.0 489.7,354.9 490.6,351.7 491.5,348.3 492.4,344.6 493.2,340.6 494.1,336.7 495.0,332.9 495.9,329.4 496.7,326.3 497.6,323.6 498.5,320.9 499.4,318.3 500.2,315.8 501.1,313.3 502.0,310.9 502.9,308.7 503.7,306.5 504.6,304.4 505.5,302.4 506.4,300.6 507.2,298.8 508.1,297.2 509.0,295.7 509.9,294.4 510.8,293.1 511.6,291.8 512.5,290.7 513.4,289.8 514.3,289.4 515.1,289.3 516.0,289.1 516.9,289.0 517.8,289.0 518.6,288.9 519.5,288.9 520.4,288.8 521.3,289.1 522.1,289.9 523.0,290.8 523.9,291.8 524.8,292.5 525.6,292.8 526.5,292.9 527.4,292.9 528.3,292.9 529.1,292.9 530.0,292.9 530.9,292.9 531.8,292.6 532.6,291.9 533.5,290.9 534.4,289.6 535.3,288.2 536.1,286.9 537.0,285.6 537.9,284.5 538.8,283.2 539.7,282.0 540.5,280.7 541.4,279.3 542.3,278.0 543.2,276.7 544.0,275.3 544.9,273.9 545.8,272.5 546.7,271.1 547.5,269.6 548.4,268.1 549.3,266.5 550.2,264.8 551.0,263.1 551.9,261.4 552.8,259.6 553.7,257.7 554.5,255.9 555.4,254.0 556.3,252.3 557.2,250.5 558.0,250.3 558.9,251.4 559.8,253.2 560.7,255.3 561.5,257.4 562.4,259.9 563.3,262.8 564.2,266.1 565.1,269.8 565.9,273.9 566.8,278.2 567.7,282.9 568.6,288.3 569.4,294.9 570.3,302.2 571.2,310.0 572.1,317.9 572.9,325.8 573.8,333.7 574.7,342.2 575.6,350.8 576.4,359.4 577.3,367.4 578.2,374.8 579.1,381.6 579.9,388.4 580.8,394.9 581.7,401.1 582.6,406.7 583.4,411.6 584.3,415.6 585.2,419.0 586.1,422.2 586.9,425.2 587.8,427.9 588.7,430.3 589.6,432.4 590.4,434.3 591.3,435.9 592.2,437.3 593.1,438.6 594.0,439.9 594.8,441.1 595.7,442.2 596.6,443.1 597.5,444.0 598.3,444.7 599.2,445.2 600.1,445.6 601.0,445.9 601.8,446.2 602.7,446.4 603.6,446.6 604.5,446.7 605.3,446.9 606.2,447.0 607.1,447.1 608.0,447.3 608.8,447.4 609.7,447.6 610.6,447.7 611.5,447.9 612.3,448.1 613.2,448.3 614.1,448.5 615.0,448.7 615.8,449.0 616.7,449.2 617.6,449.5 618.5,449.7 619.3,449.9 620.2,450.2 621.1,450.4 622.0,450.6 622.9,450.8 623.7,451.0 624.6,451.1 625.5,451.2 626.4,451.3 627.2,451.4 628.1,451.5 629.0,451.5 629.9,451.5 630.7,451.6 631.6,451.6 632.5,451.7 633.4,451.7 634.2,451.8 635.1,451.8 636.0,451.8 636.9,451.9 637.7,451.9 638.6,451.9 639.5,451.9 640.4,452.0 641.2,452.0 642.1,452.0 643.0,452.0 643.9,452.0 644.7,452.1 645.6,452.1 646.5,452.1 647.4,452.1 648.3,452.1 649.1,452.1 650.0,452.1 650.9,452.1 651.8,452.1 652.6,452.1 653.5,452.1 654.4,452.1 655.3,452.1 656.1,452.1 657.0,452.1 657.9,452.1 658.8,452.1 659.6,452.1 660.5,452.1 661.4,452.1 662.3,452.1 663.1,452.1 664.0,452.1 664.9,452.1 665.8,452.1 666.6,452.1 667.5,452.1 668.4,452.1 669.3,452.1 670.1,452.1 671.0,452.1 671.9,452.1 672.8,452.1 673.6,452.1 674.5,452.1 675.4,452.1 676.3,452.1 677.2,452.1 678.0,452.1 678.9,452.1 679.8,452.1" fill="none" stroke="#8000ff" stroke-width="3.0" stroke-linejoin="round" stroke-linecap="round"/>
<rect x="134.60" y="64.70" width="193.80" height="191.30" fill="none" stroke="#141414" stroke-width="2"/>
<line x1="142.70" y1="79.50" x2="193.80" y2="79.50" stroke="#000000" stroke-width="2.9"/>
<text x="199.00" y="86.40" font-size="16.50" font-weight="bold" text-anchor="start" fill="#1a1a1a" textLength="122.50" lengthAdjust="spacingAndGlyphs">MB P-Benzo</text>
<line x1="142.70" y1="106.90" x2="193.80" y2="106.90" stroke="#ff0000" stroke-width="2.9"/>
<text x="199.00" y="113.80" font-size="16.50" font-weight="bold" text-anchor="start" fill="#1a1a1a" textLength="57.50" lengthAdjust="spacingAndGlyphs">&#160;0 min</text>
<line x1="142.70" y1="134.60" x2="193.80" y2="134.60" stroke="#0000ff" stroke-width="2.9"/>
<text x="199.00" y="141.50" font-size="16.50" font-weight="bold" text-anchor="start" fill="#1a1a1a" textLength="64.50" lengthAdjust="spacingAndGlyphs">30 min</text>
<line x1="142.70" y1="162.20" x2="193.80" y2="162.20" stroke="#ff00ff" stroke-width="2.9"/>
<text x="199.00" y="169.10" font-size="16.50" font-weight="bold" text-anchor="start" fill="#1a1a1a" textLength="64.50" lengthAdjust="spacingAndGlyphs">60 min</text>
<line x1="142.70" y1="188.80" x2="193.80" y2="188.80" stroke="#008000" stroke-width="2.9"/>
<text x="199.00" y="195.70" font-size="16.50" font-weight="bold" text-anchor="start" fill="#1a1a1a" textLength="64.50" lengthAdjust="spacingAndGlyphs">90 min</text>
<line x1="142.70" y1="215.80" x2="193.80" y2="215.80" stroke="#000080" stroke-width="2.9"/>
<text x="199.00" y="222.70" font-size="16.50" font-weight="bold" text-anchor="start" fill="#1a1a1a" textLength="76.00" lengthAdjust="spacingAndGlyphs">120 min</text>
<line x1="142.70" y1="243.20" x2="193.80" y2="243.20" stroke="#8000ff" stroke-width="2.9"/>
<text x="199.00" y="250.10" font-size="16.50" font-weight="bold" text-anchor="start" fill="#1a1a1a" textLength="76.00" lengthAdjust="spacingAndGlyphs">150 min</text>
<polyline points="862.5,453.0 863.4,453.0 864.2,453.0 865.1,453.0 866.0,453.0 866.8,453.0 867.7,453.0 868.6,453.0 869.4,453.0 870.3,453.0 871.2,453.0 872.0,453.0 872.9,453.0 873.8,453.0 874.6,453.0 875.5,453.0 876.4,453.0 877.2,453.0 878.1,453.0 879.0,453.0 879.8,453.0 880.7,453.0 881.6,453.0 882.4,453.0 883.3,453.0 884.2,453.0 885.0,453.0 885.9,453.0 886.8,453.0 887.6,453.0 888.5,453.0 889.4,453.0 890.2,453.0 891.1,453.0 892.0,453.0 892.8,453.0 893.7,453.0 894.6,453.0 895.4,453.0 896.3,453.0 897.2,453.0 898.0,453.0 898.9,453.0 899.8,453.0 900.6,453.0 901.5,453.0 902.3,453.0 903.2,453.0 904.1,453.0 904.9,453.0 905.8,453.0 906.7,453.0 907.5,453.0 908.4,453.0 909.3,453.0 910.1,453.0 911.0,453.0 911.9,453.0 912.7,453.0 913.6,453.0 914.5,453.0 915.3,453.0 916.2,453.0 917.1,453.0 917.9,453.0 918.8,453.0 919.7,453.0 920.5,453.0 921.4,453.0 922.3,452.8 923.1,452.3 924.0,451.6 924.9,450.7 925.7,449.4 926.6,447.3 927.5,444.7 928.3,441.4 929.2,437.0 930.1,430.8 930.9,422.7 931.8,412.5 932.7,394.8 933.5,372.0 934.4,346.9 935.3,326.6 936.1,316.4 937.0,309.0 937.9,303.9 938.7,300.0 939.6,296.7 940.5,294.2 941.3,292.5 942.2,291.4 943.1,290.9 943.9,292.8 944.8,297.1 945.7,302.3 946.5,308.3 947.4,315.8 948.3,323.8 949.1,331.4 950.0,338.8 950.9,346.4 951.7,353.7 952.6,360.3 953.5,365.5 954.3,369.6 955.2,373.1 956.1,376.2 956.9,379.1 957.8,381.7 958.7,384.2 959.5,386.6 960.4,388.9 961.3,391.0 962.1,393.0 963.0,394.8 963.9,396.4 964.7,397.8 965.6,399.0 966.5,400.1 967.3,401.1 968.2,402.2 969.1,403.2 969.9,404.4 970.8,405.6 971.7,406.9 972.5,408.1 973.4,409.5 974.3,410.8 975.1,412.1 976.0,413.5 976.9,414.9 977.7,416.4 978.6,417.9 979.5,419.4 980.3,420.9 981.2,422.4 982.0,423.9 982.9,425.5 983.8,427.1 984.6,428.8 985.5,430.5 986.4,432.1 987.2,433.7 988.1,435.2 989.0,436.5 989.8,437.8 990.7,439.2 991.6,440.5 992.4,441.8 993.3,443.1 994.2,444.1 995.0,445.0 995.9,445.7 996.8,446.1 997.6,446.3 998.5,446.4 999.4,446.6 1000.2,446.8 1001.1,446.9 1002.0,447.0 1002.8,447.1 1003.7,447.2 1004.6,447.2 1005.4,447.2 1006.3,447.2 1007.2,447.2 1008.0,447.2 1008.9,447.2 1009.8,447.2 1010.6,447.2 1011.5,447.2 1012.4,447.2 1013.2,447.2 1014.1,447.2 1015.0,447.2 1015.8,447.2 1016.7,447.2 1017.6,447.2 1018.4,447.2 1019.3,447.2 1020.2,447.2 1021.0,447.2 1021.9,447.2 1022.8,447.2 1023.6,447.2 1024.5,447.2 1025.4,447.2 1026.2,447.2 1027.1,447.2 1028.0,447.2 1028.8,447.2 1029.7,447.2 1030.6,447.2 1031.4,447.2 1032.3,447.2 1033.2,447.2 1034.0,447.2 1034.9,447.2 1035.8,447.2 1036.6,447.2 1037.5,447.2 1038.4,447.2 1039.2,447.2 1040.1,447.2 1041.0,447.2 1041.8,447.2 1042.7,447.2 1043.6,447.2 1044.4,447.2 1045.3,447.2 1046.2,447.2 1047.0,447.2 1047.9,447.2 1048.8,447.2 1049.6,447.2 1050.5,447.2 1051.4,447.2 1052.2,447.2 1053.1,447.2 1054.0,447.2 1054.8,447.2 1055.7,447.2 1056.6,447.2 1057.4,447.2 1058.3,447.2 1059.2,447.2 1060.0,447.2 1060.9,447.2 1061.7,447.2 1062.6,447.2 1063.5,447.2 1064.3,447.2 1065.2,447.2 1066.1,447.2 1066.9,447.2 1067.8,447.2 1068.7,447.2 1069.5,447.2 1070.4,447.2 1071.3,447.2 1072.1,447.2 1073.0,447.2 1073.9,447.2 1074.7,447.2 1075.6,447.2 1076.5,447.2 1077.3,447.2 1078.2,447.0 1079.1,446.5 1079.9,445.7 1080.8,444.6 1081.7,443.4 1082.5,442.0 1083.4,440.7 1084.3,439.3 1085.1,438.0 1086.0,436.8 1086.9,435.7 1087.7,434.6 1088.6,433.6 1089.5,432.5 1090.3,431.4 1091.2,430.2 1092.1,428.9 1092.9,427.5 1093.8,425.6 1094.7,423.3 1095.5,421.4 1096.4,420.6 1097.3,421.3 1098.1,422.9 1099.0,424.5 1099.9,425.2 1100.7,425.2 1101.6,425.1 1102.5,425.1 1103.3,425.0 1104.2,424.8 1105.1,424.7 1105.9,424.5 1106.8,424.3 1107.7,424.1 1108.5,423.9 1109.4,423.7 1110.3,423.6 1111.1,423.4 1112.0,423.2 1112.9,423.0 1113.7,422.9 1114.6,422.8 1115.5,422.7 1116.3,422.5 1117.2,422.4 1118.1,422.3 1118.9,422.2 1119.8,422.1 1120.7,422.0 1121.5,421.9 1122.4,421.8 1123.3,421.7 1124.1,421.5 1125.0,421.4 1125.9,421.3 1126.7,421.2 1127.6,421.1 1128.5,421.0 1129.3,420.8 1130.2,420.7 1131.1,420.6 1131.9,420.4 1132.8,420.3 1133.7,420.2 1134.5,420.1 1135.4,419.9 1136.3,419.8 1137.1,419.7 1138.0,419.6 1138.8,419.4 1139.7,419.3 1140.6,419.2 1141.4,419.0 1142.3,418.9 1143.2,418.7 1144.0,418.6 1144.9,418.4 1145.8,418.2 1146.6,418.1 1147.5,417.9 1148.4,417.7 1149.2,417.5 1150.1,417.2 1151.0,417.0 1151.8,416.8 1152.7,416.5 1153.6,416.2 1154.4,416.0 1155.3,415.6 1156.2,415.2 1157.0,414.7 1157.9,414.2 1158.8,413.6 1159.6,412.9 1160.5,412.2 1161.4,411.4 1162.2,410.6 1163.1,409.8 1164.0,409.0 1164.8,408.1 1165.7,407.1 1166.6,406.0 1167.4,404.9 1168.3,403.6 1169.2,402.3 1170.0,400.9 1170.9,399.4 1171.8,397.7 1172.6,395.9 1173.5,394.1 1174.4,392.1 1175.2,390.1 1176.1,388.2 1177.0,386.2 1177.8,384.2 1178.7,382.1 1179.6,380.0 1180.4,377.8 1181.3,375.4 1182.2,373.0 1183.0,370.4 1183.9,367.8 1184.8,365.0 1185.6,362.2 1186.5,359.2 1187.4,356.2 1188.2,353.1 1189.1,350.0 1190.0,346.8 1190.8,343.5 1191.7,340.1 1192.6,336.6 1193.4,332.9 1194.3,328.9 1195.2,324.5 1196.0,319.4 1196.9,313.7 1197.8,307.5 1198.6,301.4 1199.5,295.7 1200.4,290.3 1201.2,284.9 1202.1,278.9 1203.0,272.0 1203.8,262.6 1204.7,252.8 1205.6,245.5 1206.4,239.3 1207.3,233.3 1208.2,227.7 1209.0,222.5 1209.9,217.7 1210.8,213.3 1211.6,209.3 1212.5,205.8 1213.4,202.8 1214.2,200.3 1215.1,198.1 1216.0,196.0 1216.8,194.2 1217.7,193.0 1218.5,192.5 1219.4,192.9 1220.3,194.1 1221.1,195.7 1222.0,197.8 1222.9,200.1 1223.7,202.4 1224.6,204.7 1225.5,207.4 1226.3,210.8 1227.2,214.5 1228.1,217.8 1228.9,220.2 1229.8,221.2 1230.7,221.3 1231.5,221.3 1232.4,221.4 1233.3,221.4 1234.1,221.5 1235.0,221.5 1235.9,220.6 1236.7,218.4 1237.6,215.2 1238.5,211.2 1239.3,207.0 1240.2,202.7 1241.1,198.8 1241.9,195.2 1242.8,191.4 1243.7,187.4 1244.5,183.4 1245.4,179.2 1246.3,175.1 1247.1,170.9 1248.0,166.6 1248.9,162.4 1249.7,158.0 1250.6,153.6 1251.5,149.0 1252.3,144.2 1253.2,139.2 1254.1,134.0 1254.9,128.6 1255.8,123.1 1256.7,117.6 1257.5,111.9 1258.4,106.0 1259.3,100.3 1260.1,94.8 1261.0,89.3 1261.9,88.6 1262.7,90.5 1263.6,93.7 1264.5,97.4 1265.3,101.2 1266.2,105.7 1267.1,110.9 1267.9,116.8 1268.8,123.4 1269.7,130.6 1270.5,138.4 1271.4,146.7 1272.3,156.4 1273.1,168.1 1274.0,181.2 1274.9,195.1 1275.7,209.3 1276.6,223.3 1277.5,237.5 1278.3,252.6 1279.2,268.1 1280.1,283.3 1280.9,297.7 1281.8,310.8 1282.7,323.0 1283.5,335.0 1284.4,346.6 1285.3,357.5 1286.1,367.5 1287.0,376.3 1287.9,383.7 1288.7,390.1 1289.6,396.1 1290.5,401.7 1291.3,406.8 1292.2,411.4 1293.1,415.5 1293.9,419.0 1294.8,422.0 1295.7,424.6 1296.5,427.1 1297.4,429.4 1298.2,431.5 1299.1,433.5 1300.0,435.3 1300.8,436.9 1301.7,438.2 1302.6,439.3 1303.4,440.2 1304.3,441.0 1305.2,441.6 1306.0,442.2 1306.9,442.8 1307.8,443.3 1308.6,443.7 1309.5,444.1 1310.4,444.5 1311.2,444.9 1312.1,445.3 1313.0,445.6 1313.8,446.0 1314.7,446.4 1315.6,446.8 1316.4,447.2 1317.3,447.6 1318.2,448.0 1319.0,448.5 1319.9,448.9 1320.8,449.3 1321.6,449.7 1322.5,450.1 1323.4,450.5 1324.2,450.8 1325.1,451.1 1326.0,451.4 1326.8,451.7 1327.7,451.9 1328.6,452.1 1329.4,452.2 1330.3,452.3 1331.2,452.4 1332.0,452.4 1332.9,452.5 1333.8,452.5 1334.6,452.5 1335.5,452.6 1336.4,452.6 1337.2,452.7 1338.1,452.7 1339.0,452.7 1339.8,452.8 1340.7,452.8 1341.6,452.8 1342.4,452.9 1343.3,452.9 1344.2,452.9 1345.0,452.9 1345.9,452.9 1346.8,453.0 1347.6,453.0 1348.5,453.0 1349.4,453.0 1350.2,453.0 1351.1,453.0 1352.0,453.0 1352.8,453.0 1353.7,453.0 1354.6,453.0 1355.4,453.0 1356.3,453.0 1357.2,453.0 1358.0,453.0 1358.9,453.0 1359.8,453.0 1360.6,453.0 1361.5,453.0 1362.4,453.0 1363.2,453.0 1364.1,453.0 1365.0,453.0 1365.8,453.0 1366.7,453.0 1367.6,453.0 1368.4,453.0 1369.3,453.0 1370.2,453.0 1371.0,453.0 1371.9,453.0 1372.8,453.0 1373.6,453.0 1374.5,453.0 1375.3,453.0 1376.2,453.0 1377.1,453.0 1377.9,453.0 1378.8,453.0 1379.7,453.0 1380.5,453.0 1381.4,453.0 1382.3,453.0" fill="none" stroke="#000000" stroke-width="3.0" stroke-linejoin="round" stroke-linecap="round"/>
<polyline points="862.5,453.0 863.4,453.0 864.2,453.0 865.1,453.0 866.0,453.0 866.8,453.0 867.7,453.0 868.6,453.0 869.4,453.0 870.3,453.0 871.2,453.0 872.0,453.0 872.9,453.0 873.8,453.0 874.6,453.0 875.5,453.0 876.4,453.0 877.2,453.0 878.1,453.0 879.0,453.0 879.8,453.0 880.7,453.0 881.6,453.0 882.4,453.0 883.3,453.0 884.2,453.0 885.0,453.0 885.9,453.0 886.8,453.0 887.6,453.0 888.5,453.0 889.4,453.0 890.2,453.0 891.1,453.0 892.0,453.0 892.8,453.0 893.7,453.0 894.6,453.0 895.4,453.0 896.3,453.0 897.2,453.0 898.0,453.0 898.9,453.0 899.8,453.0 900.6,453.0 901.5,453.0 902.3,453.0 903.2,453.0 904.1,453.0 904.9,453.0 905.8,453.0 906.7,453.0 907.5,453.0 908.4,453.0 909.3,453.0 910.1,453.0 911.0,453.0 911.9,453.0 912.7,453.0 913.6,453.0 914.5,453.0 915.3,453.0 916.2,453.0 917.1,453.0 917.9,453.0 918.8,453.0 919.7,453.0 920.5,453.0 921.4,453.0 922.3,452.8 923.1,452.3 924.0,451.6 924.9,450.7 925.7,449.4 926.6,447.4 927.5,444.8 928.3,441.4 929.2,436.3 930.1,428.5 930.9,418.2 931.8,405.5 932.7,384.6 933.5,358.1 934.4,328.7 935.3,304.9 936.1,293.0 937.0,284.4 937.9,278.3 938.7,273.7 939.6,269.9 940.5,267.0 941.3,265.0 942.2,263.7 943.1,263.1 943.9,265.3 944.8,270.4 945.7,276.4 946.5,283.5 947.4,292.4 948.3,301.9 949.1,310.9 950.0,319.5 950.9,328.5 951.7,337.1 952.6,344.9 953.5,351.2 954.3,356.3 955.2,360.7 956.1,364.7 956.9,368.2 957.8,371.5 958.7,374.6 959.5,377.6 960.4,380.4 961.3,383.1 962.1,385.5 963.0,387.6 963.9,389.5 964.7,391.1 965.6,392.5 966.5,393.8 967.3,394.9 968.2,396.1 969.1,397.3 969.9,398.6 970.8,400.0 971.7,401.4 972.5,402.8 973.4,404.3 974.3,405.8 975.1,407.3 976.0,408.9 976.9,410.5 977.7,412.1 978.6,413.8 979.5,415.5 980.3,417.3 981.2,419.0 982.0,420.8 982.9,422.5 983.8,424.4 984.6,426.3 985.5,428.2 986.4,430.0 987.2,431.8 988.1,433.5 989.0,435.1 989.8,436.6 990.7,438.1 991.6,439.7 992.4,441.2 993.3,442.6 994.2,443.9 995.0,444.9 995.9,445.7 996.8,446.1 997.6,446.3 998.5,446.4 999.4,446.6 1000.2,446.8 1001.1,446.9 1002.0,447.0 1002.8,447.1 1003.7,447.2 1004.6,447.2 1005.4,447.2 1006.3,447.2 1007.2,447.2 1008.0,447.2 1008.9,447.2 1009.8,447.2 1010.6,447.2 1011.5,447.2 1012.4,447.2 1013.2,447.2 1014.1,447.2 1015.0,447.2 1015.8,447.2 1016.7,447.2 1017.6,447.2 1018.4,447.2 1019.3,447.2 1020.2,447.2 1021.0,447.2 1021.9,447.2 1022.8,447.2 1023.6,447.2 1024.5,447.2 1025.4,447.2 1026.2,447.2 1027.1,447.2 1028.0,447.2 1028.8,447.2 1029.7,447.2 1030.6,447.2 1031.4,447.2 1032.3,447.2 1033.2,447.2 1034.0,447.2 1034.9,447.2 1035.8,447.2 1036.6,447.2 1037.5,447.2 1038.4,447.2 1039.2,447.2 1040.1,447.2 1041.0,447.2 1041.8,447.2 1042.7,447.2 1043.6,447.2 1044.4,447.2 1045.3,447.2 1046.2,447.2 1047.0,447.2 1047.9,447.2 1048.8,447.2 1049.6,447.2 1050.5,447.2 1051.4,447.2 1052.2,447.2 1053.1,447.2 1054.0,447.2 1054.8,447.2 1055.7,447.2 1056.6,447.2 1057.4,447.2 1058.3,447.2 1059.2,447.2 1060.0,447.2 1060.9,447.2 1061.7,447.2 1062.6,447.2 1063.5,447.2 1064.3,447.2 1065.2,447.2 1066.1,447.2 1066.9,447.2 1067.8,447.2 1068.7,447.2 1069.5,447.2 1070.4,447.2 1071.3,447.2 1072.1,447.2 1073.0,447.2 1073.9,447.2 1074.7,447.2 1075.6,447.2 1076.5,447.2 1077.3,447.2 1078.2,447.0 1079.1,446.4 1079.9,445.5 1080.8,444.3 1081.7,443.0 1082.5,441.5 1083.4,440.0 1084.3,438.5 1085.1,437.1 1086.0,435.8 1086.9,434.6 1087.7,433.4 1088.6,432.2 1089.5,431.0 1090.3,429.7 1091.2,428.4 1092.1,427.0 1092.9,425.6 1093.8,423.6 1094.7,421.2 1095.5,419.1 1096.4,418.3 1097.3,419.0 1098.1,420.6 1099.0,422.2 1099.9,422.9 1100.7,422.9 1101.6,422.8 1102.5,422.7 1103.3,422.6 1104.2,422.5 1105.1,422.3 1105.9,422.2 1106.8,422.0 1107.7,421.8 1108.5,421.6 1109.4,421.4 1110.3,421.2 1111.1,421.1 1112.0,420.9 1112.9,420.7 1113.7,420.6 1114.6,420.5 1115.5,420.3 1116.3,420.2 1117.2,420.1 1118.1,420.0 1118.9,419.9 1119.8,419.8 1120.7,419.7 1121.5,419.6 1122.4,419.4 1123.3,419.3 1124.1,419.2 1125.0,419.1 1125.9,419.0 1126.7,418.9 1127.6,418.8 1128.5,418.7 1129.3,418.5 1130.2,418.4 1131.1,418.3 1131.9,418.1 1132.8,418.0 1133.7,417.9 1134.5,417.7 1135.4,417.6 1136.3,417.4 1137.1,417.3 1138.0,417.2 1138.8,417.0 1139.7,416.9 1140.6,416.7 1141.4,416.6 1142.3,416.4 1143.2,416.3 1144.0,416.1 1144.9,415.9 1145.8,415.7 1146.6,415.6 1147.5,415.4 1148.4,415.2 1149.2,415.0 1150.1,414.8 1151.0,414.6 1151.8,414.3 1152.7,414.1 1153.6,413.9 1154.4,413.6 1155.3,413.4 1156.2,413.1 1157.0,412.8 1157.9,412.5 1158.8,412.2 1159.6,411.9 1160.5,411.5 1161.4,411.1 1162.2,410.6 1163.1,410.1 1164.0,409.6 1164.8,409.0 1165.7,408.3 1166.6,407.4 1167.4,406.3 1168.3,405.0 1169.2,403.7 1170.0,402.3 1170.9,400.9 1171.8,399.4 1172.6,397.7 1173.5,395.9 1174.4,394.1 1175.2,392.1 1176.1,390.1 1177.0,388.2 1177.8,386.2 1178.7,384.2 1179.6,382.1 1180.4,380.0 1181.3,377.8 1182.2,375.4 1183.0,373.0 1183.9,370.4 1184.8,367.8 1185.6,365.0 1186.5,362.2 1187.4,359.2 1188.2,356.2 1189.1,353.1 1190.0,350.0 1190.8,346.8 1191.7,343.5 1192.6,340.1 1193.4,336.6 1194.3,332.9 1195.2,328.9 1196.0,324.5 1196.9,319.4 1197.8,313.7 1198.6,307.5 1199.5,301.4 1200.4,295.7 1201.2,290.3 1202.1,284.9 1203.0,278.9 1203.8,272.0 1204.7,262.3 1205.6,252.3 1206.4,246.0 1207.3,241.2 1208.2,236.9 1209.0,233.1 1209.9,229.7 1210.8,226.6 1211.6,223.9 1212.5,221.4 1213.4,219.2 1214.2,217.2 1215.1,215.2 1216.0,213.2 1216.8,211.5 1217.7,210.3 1218.5,209.9 1219.4,210.1 1220.3,210.9 1221.1,212.0 1222.0,213.3 1222.9,214.8 1223.7,216.4 1224.6,218.0 1225.5,219.9 1226.3,222.5 1227.2,225.3 1228.1,227.9 1228.9,229.7 1229.8,230.5 1230.7,230.6 1231.5,230.6 1232.4,230.7 1233.3,230.7 1234.1,230.7 1235.0,230.7 1235.9,230.0 1236.7,228.0 1237.6,225.1 1238.5,221.6 1239.3,217.7 1240.2,213.9 1241.1,210.5 1241.9,207.2 1242.8,203.8 1243.7,200.2 1244.5,196.6 1245.4,192.9 1246.3,189.2 1247.1,185.4 1248.0,181.6 1248.9,177.8 1249.7,173.9 1250.6,169.9 1251.5,165.8 1252.3,161.6 1253.2,157.1 1254.1,152.4 1254.9,147.6 1255.8,142.7 1256.7,137.7 1257.5,132.6 1258.4,127.3 1259.3,122.2 1260.1,117.2 1261.0,112.4 1261.9,111.7 1262.7,113.5 1263.6,116.5 1264.5,120.0 1265.3,123.5 1266.2,127.7 1267.1,132.6 1267.9,138.1 1268.8,144.3 1269.7,151.1 1270.5,158.3 1271.4,166.1 1272.3,175.2 1273.1,186.2 1274.0,198.4 1274.9,211.5 1275.7,224.8 1276.6,237.8 1277.5,251.2 1278.3,265.3 1279.2,279.8 1280.1,294.1 1280.9,307.6 1281.8,319.8 1282.7,331.3 1283.5,342.6 1284.4,353.5 1285.3,363.8 1286.1,373.1 1287.0,381.3 1287.9,388.1 1288.7,393.9 1289.6,399.3 1290.5,404.2 1291.3,408.8 1292.2,412.8 1293.1,416.4 1293.9,419.6 1294.8,422.2 1295.7,424.6 1296.5,426.8 1297.4,428.9 1298.2,430.9 1299.1,432.7 1300.0,434.3 1300.8,435.7 1301.7,436.9 1302.6,437.9 1303.4,438.6 1304.3,439.2 1305.2,439.7 1306.0,440.1 1306.9,440.5 1307.8,440.9 1308.6,441.2 1309.5,441.5 1310.4,441.8 1311.2,442.1 1312.1,442.3 1313.0,442.6 1313.8,442.9 1314.7,443.2 1315.6,443.6 1316.4,444.0 1317.3,444.3 1318.2,444.7 1319.0,445.1 1319.9,445.5 1320.8,445.9 1321.6,446.3 1322.5,446.7 1323.4,447.0 1324.2,447.4 1325.1,447.7 1326.0,448.0 1326.8,448.2 1327.7,448.4 1328.6,448.6 1329.4,448.8 1330.3,448.8 1331.2,448.9 1332.0,448.9 1332.9,449.0 1333.8,449.0 1334.6,449.1 1335.5,449.1 1336.4,449.2 1337.2,449.2 1338.1,449.2 1339.0,449.3 1339.8,449.3 1340.7,449.3 1341.6,449.4 1342.4,449.4 1343.3,449.4 1344.2,449.4 1345.0,449.5 1345.9,449.5 1346.8,449.5 1347.6,449.5 1348.5,449.5 1349.4,449.5 1350.2,449.5 1351.1,449.5 1352.0,449.5 1352.8,449.5 1353.7,449.5 1354.6,449.5 1355.4,449.5 1356.3,449.5 1357.2,449.5 1358.0,449.5 1358.9,449.5 1359.8,449.5 1360.6,449.5 1361.5,449.5 1362.4,449.5 1363.2,449.5 1364.1,449.5 1365.0,449.5 1365.8,449.5 1366.7,449.5 1367.6,449.5 1368.4,449.5 1369.3,449.5 1370.2,449.5 1371.0,449.5 1371.9,449.5 1372.8,449.5 1373.6,449.5 1374.5,449.5 1375.3,449.5 1376.2,449.5 1377.1,449.5 1377.9,449.5 1378.8,449.5 1379.7,449.5 1380.5,449.5 1381.4,449.5 1382.3,449.5" fill="none" stroke="#ffff00" stroke-width="3.0" stroke-linejoin="round" stroke-linecap="round"/>
<polyline points="862.5,453.0 863.4,453.0 864.2,453.0 865.1,453.0 866.0,453.0 866.8,453.0 867.7,453.0 868.6,453.0 869.4,453.0 870.3,453.0 871.2,453.0 872.0,453.0 872.9,453.0 873.8,453.0 874.6,453.0 875.5,453.0 876.4,453.0 877.2,453.0 878.1,453.0 879.0,453.0 879.8,453.0 880.7,453.0 881.6,453.0 882.4,453.0 883.3,453.0 884.2,453.0 885.0,453.0 885.9,453.0 886.8,453.0 887.6,453.0 888.5,453.0 889.4,453.0 890.2,453.0 891.1,453.0 892.0,453.0 892.8,453.0 893.7,453.0 894.6,453.0 895.4,453.0 896.3,453.0 897.2,453.0 898.0,453.0 898.9,453.0 899.8,453.0 900.6,453.0 901.5,453.0 902.3,453.0 903.2,453.0 904.1,453.0 904.9,453.0 905.8,453.0 906.7,453.0 907.5,453.0 908.4,453.0 909.3,453.0 910.1,453.0 911.0,453.0 911.9,453.0 912.7,453.0 913.6,453.0 914.5,453.0 915.3,453.0 916.2,453.0 917.1,453.0 917.9,453.0 918.8,453.0 919.7,453.0 920.5,453.0 921.4,453.0 922.3,452.8 923.1,452.3 924.0,451.6 924.9,450.7 925.7,449.4 926.6,447.3 927.5,444.6 928.3,441.4 929.2,437.2 930.1,431.3 930.9,423.6 931.8,413.9 932.7,396.9 933.5,374.9 934.4,350.6 935.3,331.1 936.1,321.3 937.0,314.2 937.9,309.2 938.7,305.4 939.6,302.3 940.5,299.9 941.3,298.3 942.2,297.2 943.1,296.7 943.9,298.5 944.8,302.7 945.7,307.7 946.5,313.5 947.4,320.8 948.3,328.6 949.1,336.1 950.0,343.2 950.9,350.6 951.7,357.8 952.6,364.2 953.5,369.5 954.3,373.7 955.2,377.5 956.1,380.8 956.9,383.8 957.8,386.5 958.7,389.1 959.5,391.5 960.4,393.8 961.3,395.8 962.1,397.8 963.0,399.5 963.9,401.1 964.7,402.5 965.6,403.7 966.5,404.8 967.3,405.8 968.2,406.9 969.1,407.9 969.9,409.0 970.8,410.1 971.7,411.3 972.5,412.4 973.4,413.6 974.3,414.7 975.1,415.9 976.0,417.1 976.9,418.3 977.7,419.6 978.6,420.8 979.5,422.1 980.3,423.4 981.2,424.7 982.0,426.0 982.9,427.4 983.8,428.8 984.6,430.2 985.5,431.6 986.4,433.0 987.2,434.4 988.1,435.6 989.0,436.8 989.8,437.9 990.7,439.1 991.6,440.2 992.4,441.3 993.3,442.3 994.2,443.2 995.0,444.0 995.9,444.6 996.8,444.9 997.6,445.1 998.5,445.3 999.4,445.5 1000.2,445.6 1001.1,445.7 1002.0,445.8 1002.8,445.9 1003.7,446.0 1004.6,446.0 1005.4,446.1 1006.3,446.1 1007.2,446.1 1008.0,446.1 1008.9,446.1 1009.8,446.1 1010.6,446.1 1011.5,446.1 1012.4,446.1 1013.2,446.1 1014.1,446.1 1015.0,446.1 1015.8,446.1 1016.7,446.1 1017.6,446.1 1018.4,446.1 1019.3,446.1 1020.2,446.1 1021.0,446.1 1021.9,446.1 1022.8,446.1 1023.6,446.1 1024.5,446.1 1025.4,446.1 1026.2,446.1 1027.1,446.1 1028.0,446.1 1028.8,446.1 1029.7,446.1 1030.6,446.1 1031.4,446.1 1032.3,446.1 1033.2,446.1 1034.0,446.1 1034.9,446.1 1035.8,446.1 1036.6,446.1 1037.5,446.1 1038.4,446.1 1039.2,446.1 1040.1,446.1 1041.0,446.1 1041.8,446.1 1042.7,446.1 1043.6,446.1 1044.4,446.1 1045.3,446.1 1046.2,446.1 1047.0,446.1 1047.9,446.1 1048.8,446.1 1049.6,446.1 1050.5,446.1 1051.4,446.1 1052.2,446.1 1053.1,446.1 1054.0,446.1 1054.8,446.1 1055.7,446.1 1056.6,446.1 1057.4,446.1 1058.3,446.1 1059.2,446.1 1060.0,446.1 1060.9,446.1 1061.7,446.1 1062.6,446.1 1063.5,446.1 1064.3,446.1 1065.2,446.1 1066.1,446.1 1066.9,446.1 1067.8,446.1 1068.7,446.1 1069.5,446.1 1070.4,446.1 1071.3,446.1 1072.1,446.1 1073.0,446.1 1073.9,446.1 1074.7,446.1 1075.6,446.1 1076.5,446.1 1077.3,446.1 1078.2,445.8 1079.1,445.2 1079.9,444.3 1080.8,443.2 1081.7,441.8 1082.5,440.4 1083.4,438.8 1084.3,437.3 1085.1,435.9 1086.0,434.6 1086.9,433.4 1087.7,432.2 1088.6,431.0 1089.5,429.8 1090.3,428.6 1091.2,427.3 1092.1,425.9 1092.9,424.4 1093.8,422.4 1094.7,420.0 1095.5,418.0 1096.4,417.1 1097.3,417.8 1098.1,419.4 1099.0,421.0 1099.9,421.7 1100.7,421.7 1101.6,421.7 1102.5,421.6 1103.3,421.5 1104.2,421.3 1105.1,421.2 1105.9,421.0 1106.8,420.8 1107.7,420.7 1108.5,420.5 1109.4,420.3 1110.3,420.1 1111.1,419.9 1112.0,419.7 1112.9,419.6 1113.7,419.4 1114.6,419.3 1115.5,419.2 1116.3,419.1 1117.2,418.9 1118.1,418.8 1118.9,418.7 1119.8,418.6 1120.7,418.5 1121.5,418.4 1122.4,418.3 1123.3,418.2 1124.1,418.1 1125.0,418.0 1125.9,417.9 1126.7,417.7 1127.6,417.6 1128.5,417.5 1129.3,417.4 1130.2,417.2 1131.1,417.1 1131.9,417.0 1132.8,416.8 1133.7,416.7 1134.5,416.5 1135.4,416.4 1136.3,416.3 1137.1,416.1 1138.0,415.9 1138.8,415.8 1139.7,415.6 1140.6,415.5 1141.4,415.3 1142.3,415.1 1143.2,415.0 1144.0,414.8 1144.9,414.6 1145.8,414.4 1146.6,414.3 1147.5,414.1 1148.4,413.9 1149.2,413.7 1150.1,413.5 1151.0,413.3 1151.8,413.1 1152.7,412.9 1153.6,412.7 1154.4,412.5 1155.3,412.3 1156.2,412.1 1157.0,411.9 1157.9,411.7 1158.8,411.5 1159.6,411.3 1160.5,411.0 1161.4,410.8 1162.2,410.5 1163.1,410.2 1164.0,409.8 1164.8,409.4 1165.7,409.0 1166.6,408.4 1167.4,407.5 1168.3,406.4 1169.2,405.1 1170.0,403.8 1170.9,402.3 1171.8,400.9 1172.6,399.4 1173.5,397.7 1174.4,395.9 1175.2,394.1 1176.1,392.1 1177.0,390.1 1177.8,388.2 1178.7,386.2 1179.6,384.2 1180.4,382.1 1181.3,380.0 1182.2,377.8 1183.0,375.4 1183.9,373.0 1184.8,370.4 1185.6,367.8 1186.5,365.0 1187.4,362.2 1188.2,359.2 1189.1,356.2 1190.0,353.1 1190.8,350.0 1191.7,346.8 1192.6,343.5 1193.4,340.1 1194.3,336.6 1195.2,332.9 1196.0,328.9 1196.9,324.5 1197.8,319.4 1198.6,313.7 1199.5,307.5 1200.4,301.4 1201.2,295.4 1202.1,289.0 1203.0,282.7 1203.8,277.1 1204.7,272.8 1205.6,269.3 1206.4,266.0 1207.3,262.9 1208.2,260.1 1209.0,257.5 1209.9,255.0 1210.8,252.8 1211.6,250.7 1212.5,248.7 1213.4,246.9 1214.2,245.3 1215.1,243.5 1216.0,241.8 1216.8,240.3 1217.7,239.2 1218.5,238.8 1219.4,238.9 1220.3,239.3 1221.1,239.8 1222.0,240.5 1222.9,241.2 1223.7,242.0 1224.6,242.9 1225.5,244.1 1226.3,245.8 1227.2,247.7 1228.1,249.5 1228.9,250.9 1229.8,251.4 1230.7,251.5 1231.5,251.5 1232.4,251.5 1233.3,251.5 1234.1,251.6 1235.0,251.6 1235.9,250.9 1236.7,249.1 1237.6,246.4 1238.5,243.1 1239.3,239.6 1240.2,236.1 1241.1,232.9 1241.9,229.8 1242.8,226.7 1243.7,223.4 1244.5,220.1 1245.4,216.7 1246.3,213.2 1247.1,209.8 1248.0,206.3 1248.9,202.8 1249.7,199.2 1250.6,195.5 1251.5,191.7 1252.3,187.8 1253.2,183.6 1254.1,179.3 1254.9,174.9 1255.8,170.3 1256.7,165.8 1257.5,161.0 1258.4,156.2 1259.3,151.5 1260.1,146.9 1261.0,142.4 1261.9,141.8 1262.7,143.4 1263.6,146.1 1264.5,149.3 1265.3,152.6 1266.2,156.4 1267.1,160.8 1267.9,165.9 1268.8,171.5 1269.7,177.7 1270.5,184.3 1271.4,191.4 1272.3,199.7 1273.1,209.7 1274.0,220.9 1274.9,232.8 1275.7,244.9 1276.6,256.8 1277.5,269.0 1278.3,281.9 1279.2,295.1 1280.1,308.1 1280.9,320.4 1281.8,331.5 1282.7,342.0 1283.5,352.4 1284.4,362.4 1285.3,371.8 1286.1,380.3 1287.0,387.8 1287.9,393.8 1288.7,398.9 1289.6,403.7 1290.5,408.0 1291.3,411.9 1292.2,415.5 1293.1,418.6 1293.9,421.3 1294.8,423.6 1295.7,425.7 1296.5,427.7 1297.4,429.6 1298.2,431.3 1299.1,432.9 1300.0,434.4 1300.8,435.6 1301.7,436.7 1302.6,437.5 1303.4,438.0 1304.3,438.5 1305.2,438.8 1306.0,439.2 1306.9,439.4 1307.8,439.7 1308.6,439.9 1309.5,440.1 1310.4,440.3 1311.2,440.5 1312.1,440.7 1313.0,440.9 1313.8,441.1 1314.7,441.4 1315.6,441.7 1316.4,442.0 1317.3,442.3 1318.2,442.6 1319.0,443.0 1319.9,443.4 1320.8,443.7 1321.6,444.1 1322.5,444.4 1323.4,444.8 1324.2,445.1 1325.1,445.4 1326.0,445.7 1326.8,445.9 1327.7,446.1 1328.6,446.3 1329.4,446.4 1330.3,446.5 1331.2,446.6 1332.0,446.6 1332.9,446.7 1333.8,446.7 1334.6,446.8 1335.5,446.8 1336.4,446.8 1337.2,446.9 1338.1,446.9 1339.0,447.0 1339.8,447.0 1340.7,447.0 1341.6,447.0 1342.4,447.1 1343.3,447.1 1344.2,447.1 1345.0,447.1 1345.9,447.2 1346.8,447.2 1347.6,447.2 1348.5,447.2 1349.4,447.2 1350.2,447.2 1351.1,447.2 1352.0,447.2 1352.8,447.2 1353.7,447.2 1354.6,447.2 1355.4,447.2 1356.3,447.2 1357.2,447.2 1358.0,447.2 1358.9,447.2 1359.8,447.2 1360.6,447.2 1361.5,447.2 1362.4,447.2 1363.2,447.2 1364.1,447.2 1365.0,447.2 1365.8,447.2 1366.7,447.2 1367.6,447.2 1368.4,447.2 1369.3,447.2 1370.2,447.2 1371.0,447.2 1371.9,447.2 1372.8,447.2 1373.6,447.2 1374.5,447.2 1375.3,447.2 1376.2,447.2 1377.1,447.2 1377.9,447.2 1378.8,447.2 1379.7,447.2 1380.5,447.2 1381.4,447.2 1382.3,447.2" fill="none" stroke="#ff0000" stroke-width="3.0" stroke-linejoin="round" stroke-linecap="round"/>
<polyline points="862.5,453.0 863.4,453.0 864.2,453.0 865.1,453.0 866.0,453.0 866.8,453.0 867.7,453.0 868.6,453.0 869.4,453.0 870.3,453.0 871.2,453.0 872.0,453.0 872.9,453.0 873.8,453.0 874.6,453.0 875.5,453.0 876.4,453.0 877.2,453.0 878.1,453.0 879.0,453.0 879.8,453.0 880.7,453.0 881.6,453.0 882.4,453.0 883.3,453.0 884.2,453.0 885.0,453.0 885.9,453.0 886.8,453.0 887.6,453.0 888.5,453.0 889.4,453.0 890.2,453.0 891.1,453.0 892.0,453.0 892.8,453.0 893.7,453.0 894.6,453.0 895.4,453.0 896.3,453.0 897.2,453.0 898.0,453.0 898.9,453.0 899.8,453.0 900.6,453.0 901.5,453.0 902.3,453.0 903.2,453.0 904.1,453.0 904.9,453.0 905.8,453.0 906.7,453.0 907.5,453.0 908.4,453.0 909.3,453.0 910.1,453.0 911.0,453.0 911.9,453.0 912.7,453.0 913.6,453.0 914.5,453.0 915.3,453.0 916.2,453.0 917.1,453.0 917.9,453.0 918.8,453.0 919.7,453.0 920.5,453.0 921.4,453.0 922.3,452.8 923.1,452.3 924.0,451.6 924.9,450.7 925.7,449.4 926.6,447.4 927.5,444.7 928.3,441.4 929.2,436.9 930.1,430.3 930.9,421.7 931.8,411.0 932.7,392.7 933.5,369.1 934.4,343.1 935.3,322.1 936.1,311.5 937.0,303.9 937.9,298.6 938.7,294.5 939.6,291.1 940.5,288.5 941.3,286.8 942.2,285.7 943.1,285.1 943.9,287.0 944.8,291.6 945.7,296.9 946.5,303.1 947.4,310.9 948.3,319.3 949.1,327.2 950.0,334.8 950.9,342.7 951.7,350.3 952.6,357.1 953.5,362.5 954.3,366.8 955.2,370.6 956.1,373.9 956.9,376.8 957.8,379.6 958.7,382.3 959.5,384.8 960.4,387.2 961.3,389.4 962.1,391.5 963.0,393.4 963.9,395.0 964.7,396.4 965.6,397.7 966.5,398.8 967.3,399.9 968.2,401.0 969.1,402.0 969.9,403.2 970.8,404.5 971.7,405.7 972.5,407.0 973.4,408.3 974.3,409.7 975.1,411.0 976.0,412.4 976.9,413.7 977.7,415.1 978.6,416.6 979.5,418.0 980.3,419.5 981.2,420.9 982.0,422.4 982.9,423.9 983.8,425.5 984.6,427.1 985.5,428.7 986.4,430.2 987.2,431.8 988.1,433.2 989.0,434.5 989.8,435.7 990.7,437.1 991.6,438.4 992.4,439.6 993.3,440.8 994.2,441.9 995.0,442.7 995.9,443.4 996.8,443.7 997.6,443.9 998.5,444.1 999.4,444.3 1000.2,444.4 1001.1,444.6 1002.0,444.7 1002.8,444.8 1003.7,444.8 1004.6,444.9 1005.4,444.9 1006.3,444.9 1007.2,444.9 1008.0,444.9 1008.9,444.9 1009.8,444.9 1010.6,444.9 1011.5,444.9 1012.4,444.9 1013.2,444.9 1014.1,444.9 1015.0,444.9 1015.8,444.9 1016.7,444.9 1017.6,444.9 1018.4,444.9 1019.3,444.9 1020.2,444.9 1021.0,444.9 1021.9,444.9 1022.8,444.9 1023.6,444.9 1024.5,444.9 1025.4,444.9 1026.2,444.9 1027.1,444.9 1028.0,444.9 1028.8,444.9 1029.7,444.9 1030.6,444.9 1031.4,444.9 1032.3,444.9 1033.2,444.9 1034.0,444.9 1034.9,444.9 1035.8,444.9 1036.6,444.9 1037.5,444.9 1038.4,444.9 1039.2,444.9 1040.1,444.9 1041.0,444.9 1041.8,444.9 1042.7,444.9 1043.6,444.9 1044.4,444.9 1045.3,444.9 1046.2,444.9 1047.0,444.9 1047.9,444.9 1048.8,444.9 1049.6,444.9 1050.5,444.9 1051.4,444.9 1052.2,444.9 1053.1,444.9 1054.0,444.9 1054.8,444.9 1055.7,444.9 1056.6,444.9 1057.4,444.9 1058.3,444.9 1059.2,444.9 1060.0,444.9 1060.9,444.9 1061.7,444.9 1062.6,444.9 1063.5,444.9 1064.3,444.9 1065.2,444.9 1066.1,444.9 1066.9,444.9 1067.8,444.9 1068.7,444.9 1069.5,444.9 1070.4,444.9 1071.3,444.9 1072.1,444.9 1073.0,444.9 1073.9,444.9 1074.7,444.9 1075.6,444.9 1076.5,444.9 1077.3,444.9 1078.2,444.7 1079.1,444.2 1079.9,443.4 1080.8,442.4 1081.7,441.3 1082.5,440.0 1083.4,438.7 1084.3,437.4 1085.1,436.1 1086.0,435.0 1086.9,434.0 1087.7,433.0 1088.6,432.0 1089.5,430.9 1090.3,429.8 1091.2,428.7 1092.1,427.5 1092.9,426.2 1093.8,424.4 1094.7,422.1 1095.5,420.2 1096.4,419.4 1097.3,420.2 1098.1,421.7 1099.0,423.3 1099.9,424.1 1100.7,424.0 1101.6,424.0 1102.5,423.9 1103.3,423.8 1104.2,423.7 1105.1,423.5 1105.9,423.3 1106.8,423.2 1107.7,423.0 1108.5,422.8 1109.4,422.6 1110.3,422.4 1111.1,422.2 1112.0,422.0 1112.9,421.9 1113.7,421.7 1114.6,421.6 1115.5,421.5 1116.3,421.4 1117.2,421.3 1118.1,421.1 1118.9,421.0 1119.8,420.9 1120.7,420.8 1121.5,420.7 1122.4,420.6 1123.3,420.5 1124.1,420.4 1125.0,420.3 1125.9,420.2 1126.7,420.1 1127.6,419.9 1128.5,419.8 1129.3,419.7 1130.2,419.6 1131.1,419.4 1131.9,419.3 1132.8,419.2 1133.7,419.0 1134.5,418.9 1135.4,418.7 1136.3,418.6 1137.1,418.5 1138.0,418.3 1138.8,418.2 1139.7,418.0 1140.6,417.9 1141.4,417.7 1142.3,417.6 1143.2,417.4 1144.0,417.3 1144.9,417.1 1145.8,416.9 1146.6,416.7 1147.5,416.6 1148.4,416.4 1149.2,416.2 1150.1,416.0 1151.0,415.7 1151.8,415.5 1152.7,415.3 1153.6,415.0 1154.4,414.8 1155.3,414.5 1156.2,414.3 1157.0,414.0 1157.9,413.7 1158.8,413.3 1159.6,413.0 1160.5,412.6 1161.4,412.2 1162.2,411.7 1163.1,411.3 1164.0,410.8 1164.8,410.2 1165.7,409.6 1166.6,409.0 1167.4,408.3 1168.3,407.3 1169.2,406.2 1170.0,405.0 1170.9,403.7 1171.8,402.3 1172.6,400.9 1173.5,399.4 1174.4,397.7 1175.2,395.9 1176.1,394.1 1177.0,392.1 1177.8,390.1 1178.7,388.2 1179.6,386.2 1180.4,384.2 1181.3,382.1 1182.2,380.0 1183.0,377.8 1183.9,375.4 1184.8,373.0 1185.6,370.4 1186.5,367.8 1187.4,365.0 1188.2,362.2 1189.1,359.2 1190.0,356.2 1190.8,353.1 1191.7,350.0 1192.6,346.8 1193.4,343.5 1194.3,340.1 1195.2,336.6 1196.0,332.9 1196.9,328.9 1197.8,324.5 1198.6,319.1 1199.5,312.6 1200.4,306.1 1201.2,300.7 1202.1,296.9 1203.0,293.5 1203.8,290.3 1204.7,287.3 1205.6,284.5 1206.4,281.8 1207.3,279.4 1208.2,277.1 1209.0,274.9 1209.9,272.9 1210.8,271.0 1211.6,269.2 1212.5,267.5 1213.4,265.9 1214.2,264.3 1215.1,262.8 1216.0,261.2 1216.8,259.8 1217.7,258.9 1218.5,258.5 1219.4,258.5 1220.3,258.6 1221.1,258.6 1222.0,258.7 1222.9,258.8 1223.7,258.9 1224.6,259.1 1225.5,259.6 1226.3,260.5 1227.2,261.8 1228.1,263.0 1228.9,263.9 1229.8,264.2 1230.7,264.3 1231.5,264.3 1232.4,264.3 1233.3,264.3 1234.1,264.3 1235.0,264.3 1235.9,263.7 1236.7,262.2 1237.6,259.9 1238.5,257.2 1239.3,254.2 1240.2,251.2 1241.1,248.6 1241.9,246.0 1242.8,243.4 1243.7,240.6 1244.5,237.8 1245.4,234.9 1246.3,232.0 1247.1,229.1 1248.0,226.2 1248.9,223.2 1249.7,220.2 1250.6,217.1 1251.5,213.9 1252.3,210.6 1253.2,207.1 1254.1,203.5 1254.9,199.7 1255.8,195.9 1256.7,192.1 1257.5,188.1 1258.4,184.0 1259.3,180.0 1260.1,176.2 1261.0,172.4 1261.9,171.9 1262.7,173.4 1263.6,175.8 1264.5,178.7 1265.3,181.6 1266.2,185.1 1267.1,189.1 1267.9,193.6 1268.8,198.7 1269.7,204.3 1270.5,210.3 1271.4,216.7 1272.3,224.2 1273.1,233.2 1274.0,243.3 1274.9,254.1 1275.7,265.0 1276.6,275.8 1277.5,286.8 1278.3,298.4 1279.2,310.3 1280.1,322.1 1280.9,333.2 1281.8,343.3 1282.7,352.7 1283.5,362.1 1284.4,371.1 1285.3,379.6 1286.1,387.3 1287.0,394.0 1287.9,399.5 1288.7,404.2 1289.6,408.5 1290.5,412.5 1291.3,416.1 1292.2,419.3 1293.1,422.2 1293.9,424.7 1294.8,426.8 1295.7,428.7 1296.5,430.5 1297.4,432.2 1298.2,433.8 1299.1,435.2 1300.0,436.5 1300.8,437.7 1301.7,438.6 1302.6,439.4 1303.4,439.9 1304.3,440.3 1305.2,440.6 1306.0,440.9 1306.9,441.2 1307.8,441.4 1308.6,441.6 1309.5,441.8 1310.4,442.0 1311.2,442.2 1312.1,442.4 1313.0,442.5 1313.8,442.8 1314.7,443.0 1315.6,443.3 1316.4,443.5 1317.3,443.8 1318.2,444.1 1319.0,444.5 1319.9,444.8 1320.8,445.1 1321.6,445.5 1322.5,445.8 1323.4,446.1 1324.2,446.4 1325.1,446.7 1326.0,446.9 1326.8,447.1 1327.7,447.3 1328.6,447.5 1329.4,447.6 1330.3,447.7 1331.2,447.7 1332.0,447.8 1332.9,447.8 1333.8,447.9 1334.6,447.9 1335.5,448.0 1336.4,448.0 1337.2,448.0 1338.1,448.1 1339.0,448.1 1339.8,448.1 1340.7,448.2 1341.6,448.2 1342.4,448.2 1343.3,448.3 1344.2,448.3 1345.0,448.3 1345.9,448.3 1346.8,448.3 1347.6,448.3 1348.5,448.3 1349.4,448.4 1350.2,448.4 1351.1,448.4 1352.0,448.4 1352.8,448.4 1353.7,448.4 1354.6,448.4 1355.4,448.4 1356.3,448.4 1357.2,448.4 1358.0,448.4 1358.9,448.4 1359.8,448.4 1360.6,448.4 1361.5,448.4 1362.4,448.4 1363.2,448.4 1364.1,448.4 1365.0,448.4 1365.8,448.4 1366.7,448.4 1367.6,448.4 1368.4,448.4 1369.3,448.4 1370.2,448.4 1371.0,448.4 1371.9,448.4 1372.8,448.4 1373.6,448.4 1374.5,448.4 1375.3,448.4 1376.2,448.4 1377.1,448.4 1377.9,448.4 1378.8,448.4 1379.7,448.4 1380.5,448.4 1381.4,448.4 1382.3,448.4" fill="none" stroke="#0000ff" stroke-width="3.0" stroke-linejoin="round" stroke-linecap="round"/>
<polyline points="862.5,453.0 863.4,453.0 864.2,453.0 865.1,453.0 866.0,453.0 866.8,453.0 867.7,453.0 868.6,453.0 869.4,453.0 870.3,453.0 871.2,453.0 872.0,453.0 872.9,453.0 873.8,453.0 874.6,453.0 875.5,453.0 876.4,453.0 877.2,453.0 878.1,453.0 879.0,453.0 879.8,453.0 880.7,453.0 881.6,453.0 882.4,453.0 883.3,453.0 884.2,453.0 885.0,453.0 885.9,453.0 886.8,453.0 887.6,453.0 888.5,453.0 889.4,453.0 890.2,453.0 891.1,453.0 892.0,453.0 892.8,453.0 893.7,453.0 894.6,453.0 895.4,453.0 896.3,453.0 897.2,453.0 898.0,453.0 898.9,453.0 899.8,453.0 900.6,453.0 901.5,453.0 902.3,453.0 903.2,453.0 904.1,453.0 904.9,453.0 905.8,453.0 906.7,453.0 907.5,453.0 908.4,453.0 909.3,453.0 910.1,453.0 911.0,453.0 911.9,453.0 912.7,453.0 913.6,453.0 914.5,453.0 915.3,453.0 916.2,453.0 917.1,453.0 917.9,453.0 918.8,453.0 919.7,453.0 920.5,453.0 921.4,453.0 922.3,452.8 923.1,452.3 924.0,451.6 924.9,450.7 925.7,449.4 926.6,447.3 927.5,444.6 928.3,441.4 929.2,437.3 930.1,431.8 930.9,424.6 931.8,415.4 932.7,399.0 933.5,377.7 934.4,354.4 935.3,335.6 936.1,326.2 937.0,319.3 937.9,314.5 938.7,310.9 939.6,307.9 940.5,305.5 941.3,304.0 942.2,303.0 943.1,302.5 943.9,304.2 944.8,308.3 945.7,313.0 946.5,318.6 947.4,325.5 948.3,333.0 949.1,340.0 950.0,346.8 950.9,353.8 951.7,360.6 952.6,366.6 953.5,371.4 954.3,375.1 955.2,378.2 956.1,381.0 956.9,383.5 957.8,385.9 958.7,388.1 959.5,390.3 960.4,392.4 961.3,394.3 962.1,396.1 963.0,397.7 963.9,399.2 964.7,400.5 965.6,401.6 966.5,402.6 967.3,403.6 968.2,404.6 969.1,405.6 969.9,406.7 970.8,407.9 971.7,409.1 972.5,410.3 973.4,411.5 974.3,412.8 975.1,414.1 976.0,415.4 976.9,416.7 977.7,418.1 978.6,419.5 979.5,420.9 980.3,422.3 981.2,423.8 982.0,425.2 982.9,426.7 983.8,428.2 984.6,429.8 985.5,431.4 986.4,432.9 987.2,434.4 988.1,435.8 989.0,437.1 989.8,438.3 990.7,439.6 991.6,440.9 992.4,442.1 993.3,443.2 994.2,444.2 995.0,445.1 995.9,445.7 996.8,446.1 997.6,446.3 998.5,446.4 999.4,446.6 1000.2,446.8 1001.1,446.9 1002.0,447.0 1002.8,447.1 1003.7,447.2 1004.6,447.2 1005.4,447.2 1006.3,447.2 1007.2,447.2 1008.0,447.2 1008.9,447.2 1009.8,447.2 1010.6,447.2 1011.5,447.2 1012.4,447.2 1013.2,447.2 1014.1,447.2 1015.0,447.2 1015.8,447.2 1016.7,447.2 1017.6,447.2 1018.4,447.2 1019.3,447.2 1020.2,447.2 1021.0,447.2 1021.9,447.2 1022.8,447.2 1023.6,447.2 1024.5,447.2 1025.4,447.2 1026.2,447.2 1027.1,447.2 1028.0,447.2 1028.8,447.2 1029.7,447.2 1030.6,447.2 1031.4,447.2 1032.3,447.2 1033.2,447.2 1034.0,447.2 1034.9,447.2 1035.8,447.2 1036.6,447.2 1037.5,447.2 1038.4,447.2 1039.2,447.2 1040.1,447.2 1041.0,447.2 1041.8,447.2 1042.7,447.2 1043.6,447.2 1044.4,447.2 1045.3,447.2 1046.2,447.2 1047.0,447.2 1047.9,447.2 1048.8,447.2 1049.6,447.2 1050.5,447.2 1051.4,447.2 1052.2,447.2 1053.1,447.2 1054.0,447.2 1054.8,447.2 1055.7,447.2 1056.6,447.2 1057.4,447.2 1058.3,447.2 1059.2,447.2 1060.0,447.2 1060.9,447.2 1061.7,447.2 1062.6,447.2 1063.5,447.2 1064.3,447.2 1065.2,447.2 1066.1,447.2 1066.9,447.2 1067.8,447.2 1068.7,447.2 1069.5,447.2 1070.4,447.2 1071.3,447.2 1072.1,447.2 1073.0,447.2 1073.9,447.2 1074.7,447.2 1075.6,447.2 1076.5,447.2 1077.3,447.2 1078.2,447.0 1079.1,446.5 1079.9,445.7 1080.8,444.6 1081.7,443.4 1082.5,442.0 1083.4,440.7 1084.3,439.3 1085.1,438.0 1086.0,436.8 1086.9,435.7 1087.7,434.6 1088.6,433.6 1089.5,432.5 1090.3,431.4 1091.2,430.2 1092.1,428.9 1092.9,427.5 1093.8,425.6 1094.7,423.3 1095.5,421.4 1096.4,420.6 1097.3,421.3 1098.1,422.9 1099.0,424.5 1099.9,425.2 1100.7,425.2 1101.6,425.1 1102.5,425.1 1103.3,425.0 1104.2,424.8 1105.1,424.7 1105.9,424.5 1106.8,424.3 1107.7,424.1 1108.5,423.9 1109.4,423.7 1110.3,423.6 1111.1,423.4 1112.0,423.2 1112.9,423.0 1113.7,422.9 1114.6,422.8 1115.5,422.7 1116.3,422.5 1117.2,422.4 1118.1,422.3 1118.9,422.2 1119.8,422.1 1120.7,422.0 1121.5,421.9 1122.4,421.8 1123.3,421.7 1124.1,421.5 1125.0,421.4 1125.9,421.3 1126.7,421.2 1127.6,421.1 1128.5,421.0 1129.3,420.8 1130.2,420.7 1131.1,420.6 1131.9,420.4 1132.8,420.3 1133.7,420.2 1134.5,420.0 1135.4,419.9 1136.3,419.8 1137.1,419.6 1138.0,419.5 1138.8,419.4 1139.7,419.2 1140.6,419.1 1141.4,418.9 1142.3,418.8 1143.2,418.6 1144.0,418.4 1144.9,418.3 1145.8,418.1 1146.6,417.9 1147.5,417.7 1148.4,417.5 1149.2,417.3 1150.1,417.1 1151.0,416.9 1151.8,416.7 1152.7,416.5 1153.6,416.2 1154.4,416.0 1155.3,415.7 1156.2,415.4 1157.0,415.1 1157.9,414.7 1158.8,414.3 1159.6,413.9 1160.5,413.5 1161.4,413.1 1162.2,412.6 1163.1,412.1 1164.0,411.5 1164.8,410.9 1165.7,410.3 1166.6,409.7 1167.4,409.0 1168.3,408.2 1169.2,407.3 1170.0,406.2 1170.9,405.0 1171.8,403.7 1172.6,402.3 1173.5,400.9 1174.4,399.4 1175.2,397.7 1176.1,395.9 1177.0,394.1 1177.8,392.1 1178.7,390.1 1179.6,388.2 1180.4,386.2 1181.3,384.2 1182.2,382.1 1183.0,380.0 1183.9,377.8 1184.8,375.4 1185.6,373.0 1186.5,370.4 1187.4,367.8 1188.2,365.0 1189.1,362.2 1190.0,359.2 1190.8,356.2 1191.7,353.1 1192.6,350.0 1193.4,346.8 1194.3,343.5 1195.2,340.1 1196.0,336.6 1196.9,332.9 1197.8,328.9 1198.6,324.5 1199.5,319.0 1200.4,312.3 1201.2,305.7 1202.1,300.5 1203.0,297.3 1203.8,294.5 1204.7,292.1 1205.6,289.8 1206.4,287.8 1207.3,285.9 1208.2,284.2 1209.0,282.6 1209.9,281.1 1210.8,279.7 1211.6,278.4 1212.5,277.1 1213.4,275.8 1214.2,274.4 1215.1,273.0 1216.0,271.6 1216.8,270.2 1217.7,269.3 1218.5,268.9 1219.4,268.9 1220.3,268.9 1221.1,268.9 1222.0,268.9 1222.9,268.9 1223.7,268.9 1224.6,268.9 1225.5,269.3 1226.3,270.1 1227.2,271.2 1228.1,272.3 1228.9,273.2 1229.8,273.5 1230.7,273.5 1231.5,273.5 1232.4,273.5 1233.3,273.6 1234.1,273.6 1235.0,273.6 1235.9,273.0 1236.7,271.7 1237.6,269.6 1238.5,267.2 1239.3,264.5 1240.2,261.8 1241.1,259.4 1241.9,257.1 1242.8,254.7 1243.7,252.2 1244.5,249.7 1245.4,247.1 1246.3,244.5 1247.1,241.9 1248.0,239.2 1248.9,236.6 1249.7,233.8 1250.6,231.1 1251.5,228.2 1252.3,225.2 1253.2,222.1 1254.1,218.8 1254.9,215.4 1255.8,212.0 1256.7,208.5 1257.5,204.9 1258.4,201.2 1259.3,197.7 1260.1,194.2 1261.0,190.8 1261.9,190.4 1262.7,191.8 1263.6,194.0 1264.5,196.7 1265.3,199.5 1266.2,202.7 1267.1,206.5 1267.9,210.7 1268.8,215.5 1269.7,220.7 1270.5,226.3 1271.4,232.2 1272.3,239.3 1273.1,247.7 1274.0,257.1 1274.9,267.2 1275.7,277.4 1276.6,287.4 1277.5,297.7 1278.3,308.6 1279.2,319.7 1280.1,330.7 1280.9,341.1 1281.8,350.5 1282.7,359.3 1283.5,368.0 1284.4,376.5 1285.3,384.4 1286.1,391.6 1287.0,397.9 1287.9,403.1 1288.7,407.5 1289.6,411.6 1290.5,415.3 1291.3,418.7 1292.2,421.8 1293.1,424.5 1293.9,426.9 1294.8,428.9 1295.7,430.7 1296.5,432.4 1297.4,434.0 1298.2,435.5 1299.1,436.9 1300.0,438.2 1300.8,439.2 1301.7,440.1 1302.6,440.9 1303.4,441.4 1304.3,441.8 1305.2,442.1 1306.0,442.4 1306.9,442.6 1307.8,442.9 1308.6,443.1 1309.5,443.3 1310.4,443.4 1311.2,443.6 1312.1,443.8 1313.0,444.0 1313.8,444.2 1314.7,444.4 1315.6,444.7 1316.4,444.9 1317.3,445.2 1318.2,445.5 1319.0,445.8 1319.9,446.1 1320.8,446.4 1321.6,446.8 1322.5,447.1 1323.4,447.3 1324.2,447.6 1325.1,447.9 1326.0,448.1 1326.8,448.3 1327.7,448.5 1328.6,448.6 1329.4,448.8 1330.3,448.8 1331.2,448.9 1332.0,448.9 1332.9,449.0 1333.8,449.0 1334.6,449.1 1335.5,449.1 1336.4,449.2 1337.2,449.2 1338.1,449.2 1339.0,449.3 1339.8,449.3 1340.7,449.3 1341.6,449.4 1342.4,449.4 1343.3,449.4 1344.2,449.4 1345.0,449.4 1345.9,449.5 1346.8,449.5 1347.6,449.5 1348.5,449.5 1349.4,449.5 1350.2,449.5 1351.1,449.5 1352.0,449.5 1352.8,449.5 1353.7,449.5 1354.6,449.5 1355.4,449.5 1356.3,449.5 1357.2,449.5 1358.0,449.5 1358.9,449.5 1359.8,449.5 1360.6,449.5 1361.5,449.5 1362.4,449.5 1363.2,449.5 1364.1,449.5 1365.0,449.5 1365.8,449.5 1366.7,449.5 1367.6,449.5 1368.4,449.5 1369.3,449.5 1370.2,449.5 1371.0,449.5 1371.9,449.5 1372.8,449.5 1373.6,449.5 1374.5,449.5 1375.3,449.5 1376.2,449.5 1377.1,449.5 1377.9,449.5 1378.8,449.5 1379.7,449.5 1380.5,449.5 1381.4,449.5 1382.3,449.5" fill="none" stroke="#008000" stroke-width="3.0" stroke-linejoin="round" stroke-linecap="round"/>
<polyline points="862.5,453.0 863.4,453.0 864.2,453.0 865.1,453.0 866.0,453.0 866.8,453.0 867.7,453.0 868.6,453.0 869.4,453.0 870.3,453.0 871.2,453.0 872.0,453.0 872.9,453.0 873.8,453.0 874.6,453.0 875.5,453.0 876.4,453.0 877.2,453.0 878.1,453.0 879.0,453.0 879.8,453.0 880.7,453.0 881.6,453.0 882.4,453.0 883.3,453.0 884.2,453.0 885.0,453.0 885.9,453.0 886.8,453.0 887.6,453.0 888.5,453.0 889.4,453.0 890.2,453.0 891.1,453.0 892.0,453.0 892.8,453.0 893.7,453.0 894.6,453.0 895.4,453.0 896.3,453.0 897.2,453.0 898.0,453.0 898.9,453.0 899.8,453.0 900.6,453.0 901.5,453.0 902.3,453.0 903.2,453.0 904.1,453.0 904.9,453.0 905.8,453.0 906.7,453.0 907.5,453.0 908.4,453.0 909.3,453.0 910.1,453.0 911.0,453.0 911.9,453.0 912.7,453.0 913.6,453.0 914.5,453.0 915.3,453.0 916.2,453.0 917.1,453.0 917.9,453.0 918.8,453.0 919.7,453.0 920.5,453.0 921.4,453.0 922.3,452.8 923.1,452.3 924.0,451.6 924.9,450.7 925.7,449.4 926.6,447.3 927.5,444.6 928.3,441.4 929.2,437.3 930.1,431.6 930.9,424.2 931.8,414.8 932.7,398.1 933.5,376.6 934.4,352.9 935.3,333.8 936.1,324.2 937.0,317.3 937.9,312.4 938.7,308.7 939.6,305.6 940.5,303.3 941.3,301.7 942.2,300.7 943.1,300.2 943.9,301.9 944.8,306.1 945.7,310.9 946.5,316.5 947.4,323.5 948.3,331.0 949.1,338.1 950.0,345.0 950.9,352.1 951.7,358.9 952.6,364.9 953.5,369.6 954.3,373.2 955.2,376.2 956.1,378.9 956.9,381.3 957.8,383.5 958.7,385.8 959.5,387.9 960.4,390.0 961.3,391.9 962.1,393.7 963.0,395.4 963.9,396.9 964.7,398.1 965.6,399.3 966.5,400.3 967.3,401.3 968.2,402.3 969.1,403.3 969.9,404.4 970.8,405.5 971.7,406.8 972.5,408.0 973.4,409.2 974.3,410.5 975.1,411.8 976.0,413.1 976.9,414.3 977.7,415.6 978.6,416.9 979.5,418.2 980.3,419.5 981.2,420.8 982.0,422.1 982.9,423.5 983.8,424.9 984.6,426.3 985.5,427.8 986.4,429.2 987.2,430.6 988.1,431.9 989.0,433.0 989.8,434.2 990.7,435.4 991.6,436.6 992.4,437.7 993.3,438.8 994.2,439.7 995.0,440.5 995.9,441.1 996.8,441.4 997.6,441.6 998.5,441.8 999.4,442.0 1000.2,442.1 1001.1,442.3 1002.0,442.4 1002.8,442.5 1003.7,442.5 1004.6,442.6 1005.4,442.6 1006.3,442.6 1007.2,442.6 1008.0,442.6 1008.9,442.6 1009.8,442.6 1010.6,442.6 1011.5,442.6 1012.4,442.6 1013.2,442.6 1014.1,442.6 1015.0,442.6 1015.8,442.6 1016.7,442.6 1017.6,442.6 1018.4,442.6 1019.3,442.6 1020.2,442.6 1021.0,442.6 1021.9,442.6 1022.8,442.6 1023.6,442.6 1024.5,442.6 1025.4,442.6 1026.2,442.6 1027.1,442.6 1028.0,442.6 1028.8,442.6 1029.7,442.6 1030.6,442.6 1031.4,442.6 1032.3,442.6 1033.2,442.6 1034.0,442.6 1034.9,442.6 1035.8,442.6 1036.6,442.6 1037.5,442.6 1038.4,442.6 1039.2,442.6 1040.1,442.6 1041.0,442.6 1041.8,442.6 1042.7,442.6 1043.6,442.6 1044.4,442.6 1045.3,442.6 1046.2,442.6 1047.0,442.6 1047.9,442.6 1048.8,442.6 1049.6,442.6 1050.5,442.6 1051.4,442.6 1052.2,442.6 1053.1,442.6 1054.0,442.6 1054.8,442.6 1055.7,442.6 1056.6,442.6 1057.4,442.6 1058.3,442.6 1059.2,442.6 1060.0,442.6 1060.9,442.6 1061.7,442.6 1062.6,442.6 1063.5,442.6 1064.3,442.6 1065.2,442.6 1066.1,442.6 1066.9,442.6 1067.8,442.6 1068.7,442.6 1069.5,442.6 1070.4,442.6 1071.3,442.6 1072.1,442.6 1073.0,442.6 1073.9,442.6 1074.7,442.6 1075.6,442.6 1076.5,442.6 1077.3,442.6 1078.2,442.4 1079.1,442.0 1079.9,441.4 1080.8,440.6 1081.7,439.7 1082.5,438.7 1083.4,437.7 1084.3,436.6 1085.1,435.7 1086.0,434.8 1086.9,434.0 1087.7,433.2 1088.6,432.4 1089.5,431.6 1090.3,430.8 1091.2,429.9 1092.1,428.9 1092.9,427.8 1093.8,426.2 1094.7,424.2 1095.5,422.5 1096.4,421.7 1097.3,422.5 1098.1,424.1 1099.0,425.6 1099.9,426.4 1100.7,426.4 1101.6,426.3 1102.5,426.2 1103.3,426.1 1104.2,426.0 1105.1,425.8 1105.9,425.7 1106.8,425.5 1107.7,425.3 1108.5,425.1 1109.4,424.9 1110.3,424.7 1111.1,424.5 1112.0,424.4 1112.9,424.2 1113.7,424.1 1114.6,423.9 1115.5,423.8 1116.3,423.7 1117.2,423.6 1118.1,423.5 1118.9,423.4 1119.8,423.2 1120.7,423.1 1121.5,423.0 1122.4,422.9 1123.3,422.8 1124.1,422.7 1125.0,422.6 1125.9,422.5 1126.7,422.4 1127.6,422.3 1128.5,422.1 1129.3,422.0 1130.2,421.9 1131.1,421.7 1131.9,421.6 1132.8,421.5 1133.7,421.3 1134.5,421.2 1135.4,421.1 1136.3,420.9 1137.1,420.8 1138.0,420.7 1138.8,420.5 1139.7,420.4 1140.6,420.2 1141.4,420.1 1142.3,419.9 1143.2,419.8 1144.0,419.6 1144.9,419.5 1145.8,419.3 1146.6,419.1 1147.5,418.9 1148.4,418.7 1149.2,418.5 1150.1,418.3 1151.0,418.1 1151.8,417.9 1152.7,417.6 1153.6,417.4 1154.4,417.1 1155.3,416.8 1156.2,416.5 1157.0,416.2 1157.9,415.8 1158.8,415.4 1159.6,415.0 1160.5,414.5 1161.4,414.0 1162.2,413.5 1163.1,412.9 1164.0,412.4 1164.8,411.7 1165.7,411.1 1166.6,410.4 1167.4,409.7 1168.3,409.0 1169.2,408.2 1170.0,407.2 1170.9,406.1 1171.8,404.9 1172.6,403.7 1173.5,402.3 1174.4,400.9 1175.2,399.4 1176.1,397.7 1177.0,395.9 1177.8,394.1 1178.7,392.1 1179.6,390.1 1180.4,388.2 1181.3,386.2 1182.2,384.2 1183.0,382.1 1183.9,380.0 1184.8,377.8 1185.6,375.4 1186.5,373.0 1187.4,370.4 1188.2,367.8 1189.1,365.0 1190.0,362.2 1190.8,359.2 1191.7,356.2 1192.6,353.1 1193.4,350.0 1194.3,346.6 1195.2,342.9 1196.0,339.0 1196.9,335.1 1197.8,331.2 1198.6,327.7 1199.5,324.5 1200.4,321.6 1201.2,318.7 1202.1,315.8 1203.0,313.0 1203.8,310.2 1204.7,307.5 1205.6,304.9 1206.4,302.4 1207.3,299.9 1208.2,297.6 1209.0,295.3 1209.9,293.2 1210.8,291.2 1211.6,289.3 1212.5,287.6 1213.4,286.0 1214.2,284.6 1215.1,283.1 1216.0,281.7 1216.8,280.5 1217.7,279.7 1218.5,279.3 1219.4,279.3 1220.3,279.3 1221.1,279.3 1222.0,279.3 1222.9,279.3 1223.7,279.3 1224.6,279.3 1225.5,279.7 1226.3,280.5 1227.2,281.6 1228.1,282.7 1228.9,283.6 1229.8,283.9 1230.7,283.9 1231.5,284.0 1232.4,284.0 1233.3,284.0 1234.1,284.0 1235.0,284.0 1235.9,283.5 1236.7,282.3 1237.6,280.5 1238.5,278.3 1239.3,275.9 1240.2,273.5 1241.1,271.4 1241.9,269.3 1242.8,267.2 1243.7,265.0 1244.5,262.8 1245.4,260.5 1246.3,258.2 1247.1,255.8 1248.0,253.5 1248.9,251.1 1249.7,248.7 1250.6,246.2 1251.5,243.7 1252.3,241.0 1253.2,238.2 1254.1,235.3 1254.9,232.3 1255.8,229.3 1256.7,226.2 1257.5,223.0 1258.4,219.7 1259.3,216.5 1260.1,213.5 1261.0,210.4 1261.9,210.1 1262.7,211.3 1263.6,213.4 1264.5,215.9 1265.3,218.5 1266.2,221.4 1267.1,224.9 1267.9,228.9 1268.8,233.3 1269.7,238.1 1270.5,243.2 1271.4,248.8 1272.3,255.3 1273.1,263.1 1274.0,271.8 1274.9,281.1 1275.7,290.5 1276.6,299.8 1277.5,309.3 1278.3,319.4 1279.2,329.7 1280.1,339.9 1280.9,349.5 1281.8,358.2 1282.7,366.3 1283.5,374.4 1284.4,382.2 1285.3,389.5 1286.1,396.2 1287.0,402.0 1287.9,406.8 1288.7,410.9 1289.6,414.6 1290.5,418.1 1291.3,421.2 1292.2,424.1 1293.1,426.6 1293.9,428.7 1294.8,430.6 1295.7,432.2 1296.5,433.8 1297.4,435.3 1298.2,436.7 1299.1,438.0 1300.0,439.1 1300.8,440.1 1301.7,440.9 1302.6,441.6 1303.4,442.1 1304.3,442.4 1305.2,442.7 1306.0,442.9 1306.9,443.2 1307.8,443.4 1308.6,443.5 1309.5,443.7 1310.4,443.9 1311.2,444.0 1312.1,444.2 1313.0,444.3 1313.8,444.5 1314.7,444.7 1315.6,444.9 1316.4,445.2 1317.3,445.5 1318.2,445.7 1319.0,446.0 1319.9,446.3 1320.8,446.6 1321.6,446.9 1322.5,447.1 1323.4,447.4 1324.2,447.7 1325.1,447.9 1326.0,448.1 1326.8,448.3 1327.7,448.5 1328.6,448.7 1329.4,448.8 1330.3,448.8 1331.2,448.9 1332.0,448.9 1332.9,449.0 1333.8,449.0 1334.6,449.1 1335.5,449.1 1336.4,449.2 1337.2,449.2 1338.1,449.2 1339.0,449.3 1339.8,449.3 1340.7,449.3 1341.6,449.4 1342.4,449.4 1343.3,449.4 1344.2,449.4 1345.0,449.4 1345.9,449.5 1346.8,449.5 1347.6,449.5 1348.5,449.5 1349.4,449.5 1350.2,449.5 1351.1,449.5 1352.0,449.5 1352.8,449.5 1353.7,449.5 1354.6,449.5 1355.4,449.5 1356.3,449.5 1357.2,449.5 1358.0,449.5 1358.9,449.5 1359.8,449.5 1360.6,449.5 1361.5,449.5 1362.4,449.5 1363.2,449.5 1364.1,449.5 1365.0,449.5 1365.8,449.5 1366.7,449.5 1367.6,449.5 1368.4,449.5 1369.3,449.5 1370.2,449.5 1371.0,449.5 1371.9,449.5 1372.8,449.5 1373.6,449.5 1374.5,449.5 1375.3,449.5 1376.2,449.5 1377.1,449.5 1377.9,449.5 1378.8,449.5 1379.7,449.5 1380.5,449.5 1381.4,449.5 1382.3,449.5" fill="none" stroke="#00ffff" stroke-width="3.0" stroke-linejoin="round" stroke-linecap="round"/>
<polyline points="862.5,453.0 863.4,453.0 864.2,453.0 865.1,453.0 866.0,453.0 866.8,453.0 867.7,453.0 868.6,453.0 869.4,453.0 870.3,453.0 871.2,453.0 872.0,453.0 872.9,453.0 873.8,453.0 874.6,453.0 875.5,453.0 876.4,453.0 877.2,453.0 878.1,453.0 879.0,453.0 879.8,453.0 880.7,453.0 881.6,453.0 882.4,453.0 883.3,453.0 884.2,453.0 885.0,453.0 885.9,453.0 886.8,453.0 887.6,453.0 888.5,453.0 889.4,453.0 890.2,453.0 891.1,453.0 892.0,453.0 892.8,453.0 893.7,453.0 894.6,453.0 895.4,453.0 896.3,453.0 897.2,453.0 898.0,453.0 898.9,453.0 899.8,453.0 900.6,453.0 901.5,453.0 902.3,453.0 903.2,453.0 904.1,453.0 904.9,453.0 905.8,453.0 906.7,453.0 907.5,453.0 908.4,453.0 909.3,453.0 910.1,453.0 911.0,453.0 911.9,453.0 912.7,453.0 913.6,453.0 914.5,453.0 915.3,453.0 916.2,453.0 917.1,453.0 917.9,453.0 918.8,453.0 919.7,453.0 920.5,453.0 921.4,453.0 922.3,452.8 923.1,452.3 924.0,451.6 924.9,450.7 925.7,449.3 926.6,447.2 927.5,444.6 928.3,441.4 929.2,437.7 930.1,432.9 930.9,426.6 931.8,418.6 932.7,403.6 933.5,384.1 934.4,362.8 935.3,345.5 936.1,336.9 937.0,330.6 937.9,326.3 938.7,322.9 939.6,320.1 940.5,318.0 941.3,316.6 942.2,315.7 943.1,315.2 943.9,316.8 944.8,320.5 945.7,324.9 946.5,330.0 947.4,336.4 948.3,343.3 949.1,349.8 950.0,356.0 950.9,362.5 951.7,368.8 952.6,374.3 953.5,378.8 954.3,382.4 955.2,385.5 956.1,388.3 956.9,390.8 957.8,393.0 958.7,395.2 959.5,397.2 960.4,399.1 961.3,400.8 962.1,402.4 963.0,403.9 963.9,405.3 964.7,406.5 965.6,407.6 966.5,408.6 967.3,409.6 968.2,410.5 969.1,411.5 969.9,412.5 970.8,413.5 971.7,414.6 972.5,415.7 973.4,416.8 974.3,417.9 975.1,419.1 976.0,420.2 976.9,421.5 977.7,422.7 978.6,424.0 979.5,425.3 980.3,426.7 981.2,428.0 982.0,429.3 982.9,430.7 983.8,432.1 984.6,433.6 985.5,435.0 986.4,436.5 987.2,437.8 988.1,439.1 989.0,440.3 989.8,441.4 990.7,442.5 991.6,443.7 992.4,444.8 993.3,445.8 994.2,446.7 995.0,447.5 995.9,448.0 996.8,448.4 997.6,448.6 998.5,448.8 999.4,448.9 1000.2,449.1 1001.1,449.2 1002.0,449.3 1002.8,449.4 1003.7,449.5 1004.6,449.5 1005.4,449.5 1006.3,449.5 1007.2,449.5 1008.0,449.5 1008.9,449.5 1009.8,449.5 1010.6,449.5 1011.5,449.5 1012.4,449.5 1013.2,449.5 1014.1,449.5 1015.0,449.5 1015.8,449.5 1016.7,449.5 1017.6,449.5 1018.4,449.5 1019.3,449.5 1020.2,449.5 1021.0,449.5 1021.9,449.5 1022.8,449.5 1023.6,449.5 1024.5,449.5 1025.4,449.5 1026.2,449.5 1027.1,449.5 1028.0,449.5 1028.8,449.5 1029.7,449.5 1030.6,449.5 1031.4,449.5 1032.3,449.5 1033.2,449.5 1034.0,449.5 1034.9,449.5 1035.8,449.5 1036.6,449.5 1037.5,449.5 1038.4,449.5 1039.2,449.5 1040.1,449.5 1041.0,449.5 1041.8,449.5 1042.7,449.5 1043.6,449.5 1044.4,449.5 1045.3,449.5 1046.2,449.5 1047.0,449.5 1047.9,449.5 1048.8,449.5 1049.6,449.5 1050.5,449.5 1051.4,449.5 1052.2,449.5 1053.1,449.5 1054.0,449.5 1054.8,449.5 1055.7,449.5 1056.6,449.5 1057.4,449.5 1058.3,449.5 1059.2,449.5 1060.0,449.5 1060.9,449.5 1061.7,449.5 1062.6,449.5 1063.5,449.5 1064.3,449.5 1065.2,449.5 1066.1,449.5 1066.9,449.5 1067.8,449.5 1068.7,449.5 1069.5,449.5 1070.4,449.5 1071.3,449.5 1072.1,449.5 1073.0,449.5 1073.9,449.5 1074.7,449.5 1075.6,449.5 1076.5,449.5 1077.3,449.5 1078.2,449.3 1079.1,448.8 1079.9,447.9 1080.8,446.8 1081.7,445.5 1082.5,444.1 1083.4,442.6 1084.3,441.2 1085.1,439.8 1086.0,438.6 1086.9,437.4 1087.7,436.3 1088.6,435.2 1089.5,434.0 1090.3,432.9 1091.2,431.6 1092.1,430.3 1092.9,428.9 1093.8,426.9 1094.7,424.6 1095.5,422.6 1096.4,421.7 1097.3,422.5 1098.1,424.1 1099.0,425.6 1099.9,426.4 1100.7,426.4 1101.6,426.3 1102.5,426.2 1103.3,426.1 1104.2,426.0 1105.1,425.8 1105.9,425.7 1106.8,425.5 1107.7,425.3 1108.5,425.1 1109.4,424.9 1110.3,424.7 1111.1,424.5 1112.0,424.4 1112.9,424.2 1113.7,424.1 1114.6,423.9 1115.5,423.8 1116.3,423.7 1117.2,423.6 1118.1,423.5 1118.9,423.4 1119.8,423.2 1120.7,423.1 1121.5,423.0 1122.4,422.9 1123.3,422.8 1124.1,422.7 1125.0,422.6 1125.9,422.5 1126.7,422.4 1127.6,422.3 1128.5,422.1 1129.3,422.0 1130.2,421.9 1131.1,421.7 1131.9,421.6 1132.8,421.5 1133.7,421.3 1134.5,421.2 1135.4,421.1 1136.3,420.9 1137.1,420.8 1138.0,420.7 1138.8,420.5 1139.7,420.4 1140.6,420.2 1141.4,420.1 1142.3,419.9 1143.2,419.8 1144.0,419.6 1144.9,419.5 1145.8,419.3 1146.6,419.1 1147.5,418.9 1148.4,418.7 1149.2,418.5 1150.1,418.3 1151.0,418.1 1151.8,417.9 1152.7,417.6 1153.6,417.4 1154.4,417.1 1155.3,416.8 1156.2,416.5 1157.0,416.2 1157.9,415.8 1158.8,415.4 1159.6,415.0 1160.5,414.5 1161.4,414.0 1162.2,413.5 1163.1,412.9 1164.0,412.4 1164.8,411.7 1165.7,411.1 1166.6,410.4 1167.4,409.7 1168.3,409.0 1169.2,408.2 1170.0,407.2 1170.9,406.1 1171.8,404.9 1172.6,403.7 1173.5,402.3 1174.4,400.9 1175.2,399.4 1176.1,397.7 1177.0,395.9 1177.8,394.1 1178.7,392.1 1179.6,390.1 1180.4,388.2 1181.3,386.2 1182.2,384.2 1183.0,382.1 1183.9,380.0 1184.8,377.8 1185.6,375.4 1186.5,373.0 1187.4,370.4 1188.2,367.8 1189.1,365.0 1190.0,362.2 1190.8,359.2 1191.7,356.2 1192.6,353.1 1193.4,350.0 1194.3,346.6 1195.2,342.9 1196.0,339.0 1196.9,335.1 1197.8,331.3 1198.6,327.7 1199.5,324.5 1200.4,321.5 1201.2,318.4 1202.1,315.5 1203.0,312.5 1203.8,309.6 1204.7,306.7 1205.6,303.9 1206.4,301.2 1207.3,298.6 1208.2,296.1 1209.0,293.7 1209.9,291.4 1210.8,289.3 1211.6,287.3 1212.5,285.4 1213.4,283.8 1214.2,282.3 1215.1,280.9 1216.0,279.6 1216.8,278.4 1217.7,277.5 1218.5,277.0 1219.4,276.7 1220.3,276.5 1221.1,276.3 1222.0,276.1 1222.9,276.0 1223.7,275.9 1224.6,275.9 1225.5,276.1 1226.3,276.8 1227.2,277.6 1228.1,278.4 1228.9,279.1 1229.8,279.3 1230.7,279.3 1231.5,279.3 1232.4,279.3 1233.3,279.3 1234.1,279.3 1235.0,279.3 1235.9,278.9 1236.7,277.9 1237.6,276.3 1238.5,274.4 1239.3,272.3 1240.2,270.2 1241.1,268.3 1241.9,266.5 1242.8,264.7 1243.7,262.8 1244.5,260.8 1245.4,258.8 1246.3,256.8 1247.1,254.7 1248.0,252.7 1248.9,250.6 1249.7,248.5 1250.6,246.3 1251.5,244.1 1252.3,241.7 1253.2,239.3 1254.1,236.8 1254.9,234.1 1255.8,231.5 1256.7,228.8 1257.5,226.0 1258.4,223.1 1259.3,220.3 1260.1,217.6 1261.0,215.0 1261.9,214.7 1262.7,215.9 1263.6,218.0 1264.5,220.4 1265.3,222.9 1266.2,225.9 1267.1,229.3 1267.9,233.1 1268.8,237.4 1269.7,242.1 1270.5,247.2 1271.4,252.7 1272.3,259.0 1273.1,266.7 1274.0,275.2 1274.9,284.3 1275.7,293.6 1276.6,302.8 1277.5,312.1 1278.3,322.0 1279.2,332.1 1280.1,342.0 1280.9,351.4 1281.8,360.0 1282.7,368.0 1283.5,375.9 1284.4,383.6 1285.3,390.7 1286.1,397.3 1287.0,403.0 1287.9,407.7 1288.7,411.7 1289.6,415.3 1290.5,418.7 1291.3,421.8 1292.2,424.6 1293.1,427.0 1293.9,429.2 1294.8,431.0 1295.7,432.6 1296.5,434.2 1297.4,435.6 1298.2,437.0 1299.1,438.2 1300.0,439.4 1300.8,440.3 1301.7,441.1 1302.6,441.8 1303.4,442.2 1304.3,442.5 1305.2,442.8 1306.0,443.1 1306.9,443.3 1307.8,443.5 1308.6,443.6 1309.5,443.8 1310.4,444.0 1311.2,444.1 1312.1,444.3 1313.0,444.4 1313.8,444.6 1314.7,444.8 1315.6,445.0 1316.4,445.3 1317.3,445.5 1318.2,445.8 1319.0,446.0 1319.9,446.3 1320.8,446.6 1321.6,446.9 1322.5,447.2 1323.4,447.4 1324.2,447.7 1325.1,447.9 1326.0,448.1 1326.8,448.3 1327.7,448.5 1328.6,448.7 1329.4,448.8 1330.3,448.8 1331.2,448.9 1332.0,448.9 1332.9,449.0 1333.8,449.0 1334.6,449.1 1335.5,449.1 1336.4,449.2 1337.2,449.2 1338.1,449.2 1339.0,449.3 1339.8,449.3 1340.7,449.3 1341.6,449.4 1342.4,449.4 1343.3,449.4 1344.2,449.4 1345.0,449.4 1345.9,449.5 1346.8,449.5 1347.6,449.5 1348.5,449.5 1349.4,449.5 1350.2,449.5 1351.1,449.5 1352.0,449.5 1352.8,449.5 1353.7,449.5 1354.6,449.5 1355.4,449.5 1356.3,449.5 1357.2,449.5 1358.0,449.5 1358.9,449.5 1359.8,449.5 1360.6,449.5 1361.5,449.5 1362.4,449.5 1363.2,449.5 1364.1,449.5 1365.0,449.5 1365.8,449.5 1366.7,449.5 1367.6,449.5 1368.4,449.5 1369.3,449.5 1370.2,449.5 1371.0,449.5 1371.9,449.5 1372.8,449.5 1373.6,449.5 1374.5,449.5 1375.3,449.5 1376.2,449.5 1377.1,449.5 1377.9,449.5 1378.8,449.5 1379.7,449.5 1380.5,449.5 1381.4,449.5 1382.3,449.5" fill="none" stroke="#ff00ff" stroke-width="3.0" stroke-linejoin="round" stroke-linecap="round"/>
<rect x="973.70" y="64.90" width="170.50" height="187.60" fill="none" stroke="#141414" stroke-width="2"/>
<line x1="979.90" y1="81.10" x2="1031.30" y2="81.10" stroke="#000000" stroke-width="2.9"/>
<text x="1036.30" y="87.40" font-size="16.00" font-weight="bold" text-anchor="start" fill="#1a1a1a" textLength="94.00" lengthAdjust="spacingAndGlyphs">MB AgNO</text>
<line x1="979.90" y1="114.30" x2="1031.30" y2="114.30" stroke="#ffff00" stroke-width="2.9"/>
<text x="1036.30" y="120.60" font-size="16.00" font-weight="bold" text-anchor="start" fill="#1a1a1a" textLength="52.00" lengthAdjust="spacingAndGlyphs">0 min</text>
<line x1="979.90" y1="138.30" x2="1031.30" y2="138.30" stroke="#ff0000" stroke-width="2.9"/>
<text x="1036.30" y="144.60" font-size="16.00" font-weight="bold" text-anchor="start" fill="#1a1a1a" textLength="63.50" lengthAdjust="spacingAndGlyphs">30 min</text>
<line x1="979.90" y1="164.30" x2="1031.30" y2="164.30" stroke="#0000ff" stroke-width="2.9"/>
<text x="1036.30" y="170.60" font-size="16.00" font-weight="bold" text-anchor="start" fill="#1a1a1a" textLength="63.50" lengthAdjust="spacingAndGlyphs">60 min</text>
<line x1="979.90" y1="190.10" x2="1031.30" y2="190.10" stroke="#008000" stroke-width="2.9"/>
<text x="1036.30" y="196.40" font-size="16.00" font-weight="bold" text-anchor="start" fill="#1a1a1a" textLength="63.50" lengthAdjust="spacingAndGlyphs">90 min</text>
<line x1="979.90" y1="216.20" x2="1031.30" y2="216.20" stroke="#00ffff" stroke-width="2.9"/>
<text x="1036.30" y="222.50" font-size="16.00" font-weight="bold" text-anchor="start" fill="#1a1a1a" textLength="75.00" lengthAdjust="spacingAndGlyphs">120 min</text>
<line x1="979.90" y1="240.90" x2="1031.30" y2="240.90" stroke="#ff00ff" stroke-width="2.9"/>
<text x="1036.30" y="247.20" font-size="16.00" font-weight="bold" text-anchor="start" fill="#1a1a1a" textLength="75.00" lengthAdjust="spacingAndGlyphs">150 min</text>
<text x="1131.50" y="95.50" font-size="9.00" font-weight="bold" text-anchor="start" fill="#1a1a1a" textLength="6.00" lengthAdjust="spacingAndGlyphs">3</text>
<polyline points="152.7,938.4 153.6,938.4 154.5,938.4 155.4,938.4 156.3,938.4 157.2,938.4 158.1,938.4 159.0,938.4 159.9,938.4 160.8,938.4 161.7,938.4 162.6,938.4 163.5,938.4 164.4,938.4 165.4,938.4 166.3,938.4 167.2,938.4 168.1,938.4 169.0,938.4 169.9,938.4 170.8,938.4 171.7,938.4 172.6,938.4 173.5,938.4 174.4,938.4 175.3,938.4 176.2,938.4 177.1,938.4 178.0,938.4 178.9,938.4 179.8,938.4 180.7,938.4 181.6,938.4 182.5,938.4 183.4,938.4 184.3,938.4 185.2,938.4 186.1,938.4 187.0,938.4 187.9,938.4 188.9,938.4 189.8,938.4 190.7,938.4 191.6,938.4 192.5,938.4 193.4,938.4 194.3,938.4 195.2,938.4 196.1,938.4 197.0,938.4 197.9,938.4 198.8,938.4 199.7,938.4 200.6,938.4 201.5,938.4 202.4,938.4 203.3,938.4 204.2,938.4 205.1,938.4 206.0,938.4 206.9,938.4 207.8,938.4 208.7,938.4 209.6,938.4 210.5,938.4 211.4,938.4 212.4,938.4 213.3,938.4 214.2,938.4 215.1,938.2 216.0,937.8 216.9,937.2 217.8,936.5 218.7,935.4 219.6,933.8 220.5,931.5 221.4,928.8 222.3,924.9 223.2,919.3 224.1,911.8 225.0,902.5 225.9,886.7 226.8,866.6 227.7,844.3 228.6,826.3 229.5,817.3 230.4,810.8 231.3,806.2 232.2,802.8 233.1,799.9 234.0,797.6 234.9,796.2 235.8,795.2 236.8,794.7 237.7,796.4 238.6,800.2 239.5,804.8 240.4,810.2 241.3,817.0 242.2,824.4 243.1,831.3 244.0,838.0 244.9,844.9 245.8,851.6 246.7,857.7 247.6,862.8 248.5,867.2 249.4,871.1 250.3,874.6 251.2,877.8 252.1,880.6 253.0,883.1 253.9,885.5 254.8,887.7 255.7,889.7 256.6,891.6 257.5,893.3 258.4,894.7 259.3,896.0 260.3,897.2 261.2,898.2 262.1,899.2 263.0,900.1 263.9,901.0 264.8,902.0 265.7,903.0 266.6,904.0 267.5,904.9 268.4,905.9 269.3,906.8 270.2,907.8 271.1,908.8 272.0,909.9 272.9,910.9 273.8,912.0 274.7,913.1 275.6,914.2 276.5,915.3 277.4,916.5 278.3,917.6 279.2,918.8 280.1,920.1 281.0,921.3 281.9,922.5 282.8,923.6 283.8,924.7 284.7,925.7 285.6,926.7 286.5,927.7 287.4,928.6 288.3,929.6 289.2,930.5 290.1,931.2 291.0,931.9 291.9,932.4 292.8,932.7 293.7,932.8 294.6,933.0 295.5,933.1 296.4,933.2 297.3,933.3 298.2,933.4 299.1,933.5 300.0,933.6 300.9,933.6 301.8,933.6 302.7,933.6 303.6,933.6 304.5,933.6 305.4,933.6 306.3,933.6 307.2,933.6 308.2,933.6 309.1,933.6 310.0,933.6 310.9,933.6 311.8,933.6 312.7,933.6 313.6,933.6 314.5,933.6 315.4,933.6 316.3,933.6 317.2,933.6 318.1,933.6 319.0,933.6 319.9,933.6 320.8,933.6 321.7,933.6 322.6,933.6 323.5,933.6 324.4,933.6 325.3,933.6 326.2,933.6 327.1,933.6 328.0,933.6 328.9,933.6 329.8,933.6 330.7,933.6 331.7,933.6 332.6,933.6 333.5,933.6 334.4,933.6 335.3,933.6 336.2,933.6 337.1,933.6 338.0,933.6 338.9,933.6 339.8,933.6 340.7,933.6 341.6,933.6 342.5,933.6 343.4,933.6 344.3,933.6 345.2,933.6 346.1,933.6 347.0,933.6 347.9,933.6 348.8,933.6 349.7,933.6 350.6,933.6 351.5,933.6 352.4,933.6 353.3,933.6 354.2,933.6 355.2,933.6 356.1,933.6 357.0,933.6 357.9,933.6 358.8,933.6 359.7,933.6 360.6,933.6 361.5,933.6 362.4,933.6 363.3,933.6 364.2,933.6 365.1,933.6 366.0,933.6 366.9,933.6 367.8,933.6 368.7,933.6 369.6,933.6 370.5,933.6 371.4,933.6 372.3,933.6 373.2,933.6 374.1,933.6 375.0,933.6 375.9,933.6 376.8,933.6 377.7,933.5 378.6,933.0 379.6,932.4 380.5,931.6 381.4,930.6 382.3,929.5 383.2,928.5 384.1,927.4 385.0,926.4 385.9,925.4 386.8,924.6 387.7,923.7 388.6,922.9 389.5,922.1 390.4,921.2 391.3,920.2 392.2,919.2 393.1,918.1 394.0,916.6 394.9,914.8 395.8,913.2 396.7,912.5 397.6,913.1 398.5,914.5 399.4,915.8 400.3,916.4 401.2,916.4 402.1,916.3 403.1,916.2 404.0,916.2 404.9,916.0 405.8,915.9 406.7,915.8 407.6,915.6 408.5,915.5 409.4,915.3 410.3,915.2 411.2,915.0 412.1,914.8 413.0,914.7 413.9,914.6 414.8,914.5 415.7,914.4 416.6,914.3 417.5,914.2 418.4,914.1 419.3,914.0 420.2,913.9 421.1,913.8 422.0,913.7 422.9,913.6 423.8,913.5 424.7,913.4 425.6,913.3 426.6,913.2 427.5,913.2 428.4,913.1 429.3,913.0 430.2,912.9 431.1,912.8 432.0,912.7 432.9,912.5 433.8,912.4 434.7,912.3 435.6,912.2 436.5,912.1 437.4,912.0 438.3,911.9 439.2,911.8 440.1,911.7 441.0,911.6 441.9,911.5 442.8,911.4 443.7,911.3 444.6,911.2 445.5,911.0 446.4,910.9 447.3,910.8 448.2,910.6 449.1,910.5 450.1,910.3 451.0,910.2 451.9,910.0 452.8,909.8 453.7,909.6 454.6,909.4 455.5,909.2 456.4,909.0 457.3,908.7 458.2,908.4 459.1,908.0 460.0,907.5 460.9,907.0 461.8,906.4 462.7,905.7 463.6,905.0 464.5,904.3 465.4,903.5 466.3,902.8 467.2,902.0 468.1,901.2 469.0,900.4 469.9,899.5 470.8,898.5 471.7,897.5 472.6,896.4 473.5,895.3 474.5,894.1 475.4,892.7 476.3,891.2 477.2,889.6 478.1,888.0 479.0,886.4 479.9,884.8 480.8,883.1 481.7,881.5 482.6,879.8 483.5,878.0 484.4,876.2 485.3,874.2 486.2,872.2 487.1,870.1 488.0,867.9 488.9,865.6 489.8,863.3 490.7,860.8 491.6,858.3 492.5,855.8 493.4,853.2 494.3,850.5 495.2,847.8 496.1,845.0 497.0,842.1 498.0,839.0 498.9,835.7 499.8,832.1 500.7,827.9 501.6,823.1 502.5,818.0 503.4,813.0 504.3,808.2 505.2,803.8 506.1,799.3 507.0,794.4 507.9,788.7 508.8,780.7 509.7,772.5 510.6,767.1 511.5,762.9 512.4,759.0 513.3,755.5 514.2,752.3 515.1,749.4 516.0,746.8 516.9,744.5 517.8,742.3 518.7,740.4 519.6,738.7 520.5,737.0 521.5,735.3 522.4,733.9 523.3,732.9 524.2,732.5 525.1,732.7 526.0,733.2 526.9,734.0 527.8,734.9 528.7,736.0 529.6,737.1 530.5,738.2 531.4,739.7 532.3,741.6 533.2,743.7 534.1,745.7 535.0,747.1 535.9,747.7 536.8,747.7 537.7,747.7 538.6,747.8 539.5,747.8 540.4,747.8 541.3,747.8 542.2,747.1 543.1,745.0 544.0,741.9 544.9,738.3 545.9,734.3 546.8,730.3 547.7,726.7 548.6,723.2 549.5,719.7 550.4,716.0 551.3,712.2 552.2,708.3 553.1,704.4 554.0,700.5 554.9,696.6 555.8,692.6 556.7,688.5 557.6,684.3 558.5,680.1 559.4,675.6 560.3,670.9 561.2,666.1 562.1,661.0 563.0,655.9 563.9,650.7 564.8,645.3 565.7,639.8 566.6,634.5 567.5,629.3 568.4,624.2 569.4,623.5 570.3,625.2 571.2,627.9 572.1,631.1 573.0,634.4 573.9,638.3 574.8,642.8 575.7,647.9 576.6,653.6 577.5,659.8 578.4,666.5 579.3,673.7 580.2,682.1 581.1,692.2 582.0,703.5 582.9,715.6 583.8,727.9 584.7,739.9 585.6,752.2 586.5,765.3 587.4,778.6 588.3,791.8 589.2,804.2 590.1,815.5 591.0,826.1 591.9,836.5 592.9,846.5 593.8,856.0 594.7,864.6 595.6,872.2 596.5,878.5 597.4,884.0 598.3,889.0 599.2,893.7 600.1,897.9 601.0,901.8 601.9,905.2 602.8,908.2 603.7,910.7 604.6,912.9 605.5,915.0 606.4,916.9 607.3,918.7 608.2,920.4 609.1,921.9 610.0,923.2 610.9,924.4 611.8,925.3 612.7,926.0 613.6,926.6 614.5,927.1 615.4,927.6 616.3,928.0 617.3,928.4 618.2,928.7 619.1,929.0 620.0,929.3 620.9,929.6 621.8,929.9 622.7,930.2 623.6,930.5 624.5,930.8 625.4,931.1 626.3,931.5 627.2,931.8 628.1,932.2 629.0,932.6 629.9,932.9 630.8,933.3 631.7,933.6 632.6,934.0 633.5,934.3 634.4,934.6 635.3,934.9 636.2,935.2 637.1,935.4 638.0,935.6 638.9,935.7 639.8,935.8 640.8,935.9 641.7,936.0 642.6,936.0 643.5,936.0 644.4,936.1 645.3,936.1 646.2,936.1 647.1,936.2 648.0,936.2 648.9,936.2 649.8,936.3 650.7,936.3 651.6,936.3 652.5,936.3 653.4,936.4 654.3,936.4 655.2,936.4 656.1,936.4 657.0,936.4 657.9,936.4 658.8,936.5 659.7,936.5 660.6,936.5 661.5,936.5 662.4,936.5 663.3,936.5 664.3,936.5 665.2,936.5 666.1,936.5 667.0,936.5 667.9,936.5 668.8,936.5 669.7,936.5 670.6,936.5 671.5,936.5 672.4,936.5 673.3,936.5 674.2,936.5 675.1,936.5 676.0,936.5 676.9,936.5 677.8,936.5 678.7,936.5 679.6,936.5 680.5,936.5 681.4,936.5 682.3,936.5 683.2,936.5 684.1,936.5 685.0,936.5 685.9,936.5 686.8,936.5 687.7,936.5 688.7,936.5 689.6,936.5 690.5,936.5 691.4,936.5 692.3,936.5 693.2,936.5 694.1,936.5 695.0,936.5" fill="none" stroke="#000000" stroke-width="2.9" stroke-linejoin="round" stroke-linecap="round"/>
<polyline points="152.7,938.4 153.6,938.4 154.5,938.4 155.4,938.4 156.3,938.4 157.2,938.4 158.1,938.4 159.0,938.4 159.9,938.4 160.8,938.4 161.7,938.4 162.6,938.4 163.5,938.4 164.4,938.4 165.4,938.4 166.3,938.4 167.2,938.4 168.1,938.4 169.0,938.4 169.9,938.4 170.8,938.4 171.7,938.4 172.6,938.4 173.5,938.4 174.4,938.4 175.3,938.4 176.2,938.4 177.1,938.4 178.0,938.4 178.9,938.4 179.8,938.4 180.7,938.4 181.6,938.4 182.5,938.4 183.4,938.4 184.3,938.4 185.2,938.4 186.1,938.4 187.0,938.4 187.9,938.4 188.9,938.4 189.8,938.4 190.7,938.4 191.6,938.4 192.5,938.4 193.4,938.4 194.3,938.4 195.2,938.4 196.1,938.4 197.0,938.4 197.9,938.4 198.8,938.4 199.7,938.4 200.6,938.4 201.5,938.4 202.4,938.4 203.3,938.4 204.2,938.4 205.1,938.4 206.0,938.4 206.9,938.4 207.8,938.4 208.7,938.4 209.6,938.4 210.5,938.4 211.4,938.4 212.4,938.4 213.3,938.4 214.2,938.4 215.1,938.2 216.0,937.8 216.9,937.2 217.8,936.5 218.7,935.4 219.6,933.7 220.5,931.5 221.4,928.8 222.3,925.1 223.2,919.7 224.1,912.5 225.0,903.7 225.9,888.5 226.8,869.0 227.7,847.5 228.6,830.1 229.5,821.4 230.4,815.1 231.3,810.6 232.2,807.3 233.1,804.5 234.0,802.3 234.9,800.9 235.8,800.0 236.8,799.5 237.7,801.1 238.6,804.8 239.5,809.3 240.4,814.5 241.3,821.2 242.2,828.4 243.1,835.3 244.0,841.8 244.9,848.6 245.8,855.1 246.7,861.2 247.6,866.4 248.5,871.0 249.4,875.2 250.3,879.0 251.2,882.4 252.1,885.3 253.0,887.9 253.9,890.3 254.8,892.5 255.7,894.6 256.6,896.4 257.5,898.1 258.4,899.5 259.3,900.8 260.3,902.0 261.2,903.0 262.1,904.0 263.0,905.0 263.9,905.9 264.8,906.8 265.7,907.7 266.6,908.6 267.5,909.4 268.4,910.2 269.3,911.1 270.2,911.9 271.1,912.8 272.0,913.8 272.9,914.8 273.8,915.8 274.7,916.8 275.6,917.8 276.5,918.8 277.4,919.9 278.3,920.9 279.2,922.0 280.1,923.2 281.0,924.3 281.9,925.4 282.8,926.5 283.8,927.4 284.7,928.3 285.6,929.2 286.5,930.1 287.4,931.0 288.3,931.8 289.2,932.6 290.1,933.3 291.0,933.9 291.9,934.3 292.8,934.6 293.7,934.7 294.6,934.9 295.5,935.0 296.4,935.2 297.3,935.3 298.2,935.4 299.1,935.4 300.0,935.5 300.9,935.5 301.8,935.5 302.7,935.5 303.6,935.5 304.5,935.5 305.4,935.5 306.3,935.5 307.2,935.5 308.2,935.5 309.1,935.5 310.0,935.5 310.9,935.5 311.8,935.5 312.7,935.5 313.6,935.5 314.5,935.5 315.4,935.5 316.3,935.5 317.2,935.5 318.1,935.5 319.0,935.5 319.9,935.5 320.8,935.5 321.7,935.5 322.6,935.5 323.5,935.5 324.4,935.5 325.3,935.5 326.2,935.5 327.1,935.5 328.0,935.5 328.9,935.5 329.8,935.5 330.7,935.5 331.7,935.5 332.6,935.5 333.5,935.5 334.4,935.5 335.3,935.5 336.2,935.5 337.1,935.5 338.0,935.5 338.9,935.5 339.8,935.5 340.7,935.5 341.6,935.5 342.5,935.5 343.4,935.5 344.3,935.5 345.2,935.5 346.1,935.5 347.0,935.5 347.9,935.5 348.8,935.5 349.7,935.5 350.6,935.5 351.5,935.5 352.4,935.5 353.3,935.5 354.2,935.5 355.2,935.5 356.1,935.5 357.0,935.5 357.9,935.5 358.8,935.5 359.7,935.5 360.6,935.5 361.5,935.5 362.4,935.5 363.3,935.5 364.2,935.5 365.1,935.5 366.0,935.5 366.9,935.5 367.8,935.5 368.7,935.5 369.6,935.5 370.5,935.5 371.4,935.5 372.3,935.5 373.2,935.5 374.1,935.5 375.0,935.5 375.9,935.5 376.8,935.5 377.7,935.4 378.6,934.9 379.6,934.2 380.5,933.3 381.4,932.2 382.3,931.0 383.2,929.8 384.1,928.6 385.0,927.5 385.9,926.5 386.8,925.5 387.7,924.6 388.6,923.7 389.5,922.7 390.4,921.7 391.3,920.7 392.2,919.6 393.1,918.4 394.0,916.8 394.9,914.9 395.8,913.2 396.7,912.5 397.6,913.1 398.5,914.5 399.4,915.8 400.3,916.4 401.2,916.4 402.1,916.3 403.1,916.2 404.0,916.2 404.9,916.0 405.8,915.9 406.7,915.8 407.6,915.6 408.5,915.5 409.4,915.3 410.3,915.2 411.2,915.0 412.1,914.8 413.0,914.7 413.9,914.6 414.8,914.5 415.7,914.4 416.6,914.3 417.5,914.2 418.4,914.1 419.3,914.0 420.2,913.9 421.1,913.8 422.0,913.7 422.9,913.6 423.8,913.5 424.7,913.4 425.6,913.3 426.6,913.2 427.5,913.2 428.4,913.1 429.3,913.0 430.2,912.9 431.1,912.8 432.0,912.7 432.9,912.5 433.8,912.4 434.7,912.3 435.6,912.2 436.5,912.1 437.4,912.0 438.3,911.9 439.2,911.8 440.1,911.7 441.0,911.6 441.9,911.5 442.8,911.4 443.7,911.3 444.6,911.2 445.5,911.0 446.4,910.9 447.3,910.8 448.2,910.6 449.1,910.5 450.1,910.3 451.0,910.2 451.9,910.0 452.8,909.8 453.7,909.6 454.6,909.4 455.5,909.2 456.4,909.0 457.3,908.7 458.2,908.4 459.1,908.0 460.0,907.5 460.9,907.0 461.8,906.4 462.7,905.7 463.6,905.0 464.5,904.3 465.4,903.5 466.3,902.8 467.2,902.0 468.1,901.2 469.0,900.4 469.9,899.5 470.8,898.5 471.7,897.5 472.6,896.4 473.5,895.3 474.5,894.1 475.4,892.7 476.3,891.2 477.2,889.6 478.1,888.0 479.0,886.4 479.9,884.8 480.8,883.1 481.7,881.5 482.6,879.8 483.5,878.0 484.4,876.2 485.3,874.2 486.2,872.2 487.1,870.1 488.0,867.9 488.9,865.6 489.8,863.3 490.7,860.8 491.6,858.3 492.5,855.8 493.4,853.2 494.3,850.5 495.2,847.8 496.1,845.0 497.0,842.1 498.0,839.0 498.9,835.7 499.8,832.1 500.7,827.9 501.6,823.1 502.5,818.0 503.4,813.0 504.3,808.1 505.2,803.0 506.1,798.0 507.0,793.3 507.9,789.2 508.8,785.4 509.7,781.7 510.6,778.1 511.5,774.6 512.4,771.2 513.3,767.9 514.2,764.8 515.1,761.9 516.0,759.2 516.9,756.7 517.8,754.4 518.7,752.5 519.6,750.7 520.5,749.1 521.5,747.6 522.4,746.2 523.3,745.3 524.2,744.9 525.1,745.1 526.0,745.4 526.9,745.9 527.8,746.5 528.7,747.2 529.6,748.0 530.5,748.8 531.4,749.9 532.3,751.4 533.2,753.1 534.1,754.7 535.0,755.8 535.9,756.3 536.8,756.4 537.7,756.4 538.6,756.4 539.5,756.4 540.4,756.4 541.3,756.4 542.2,755.8 543.1,754.0 544.0,751.4 544.9,748.2 545.9,744.8 546.8,741.3 547.7,738.2 548.6,735.3 549.5,732.2 550.4,729.0 551.3,725.8 552.2,722.4 553.1,719.1 554.0,715.7 554.9,712.3 555.8,708.8 556.7,705.3 557.6,701.8 558.5,698.1 559.4,694.2 560.3,690.2 561.2,686.0 562.1,681.6 563.0,677.2 563.9,672.8 564.8,668.1 565.7,663.4 566.6,658.8 567.5,654.4 568.4,650.0 569.4,649.4 570.3,650.9 571.2,653.4 572.1,656.4 573.0,659.4 573.9,662.9 574.8,667.1 575.7,671.8 576.6,677.0 577.5,682.7 578.4,688.9 579.3,695.5 580.2,703.2 581.1,712.4 582.0,722.8 582.9,733.9 583.8,745.1 584.7,756.2 585.6,767.5 586.5,779.5 587.4,791.7 588.3,803.8 589.2,815.2 590.1,825.6 591.0,835.3 591.9,844.8 592.9,854.0 593.8,862.7 594.7,870.6 595.6,877.6 596.5,883.4 597.4,888.5 598.3,893.2 599.2,897.5 600.1,901.5 601.0,905.1 601.9,908.3 602.8,911.0 603.7,913.3 604.6,915.4 605.5,917.3 606.4,919.1 607.3,920.8 608.2,922.4 609.1,923.8 610.0,925.0 610.9,926.1 611.8,926.9 612.7,927.6 613.6,928.2 614.5,928.6 615.4,929.1 616.3,929.5 617.3,929.8 618.2,930.2 619.1,930.5 620.0,930.8 620.9,931.0 621.8,931.3 622.7,931.6 623.6,931.9 624.5,932.1 625.4,932.5 626.3,932.8 627.2,933.1 628.1,933.4 629.0,933.8 629.9,934.1 630.8,934.4 631.7,934.8 632.6,935.1 633.5,935.4 634.4,935.7 635.3,935.9 636.2,936.2 637.1,936.4 638.0,936.6 638.9,936.7 639.8,936.8 640.8,936.9 641.7,936.9 642.6,937.0 643.5,937.0 644.4,937.0 645.3,937.1 646.2,937.1 647.1,937.1 648.0,937.2 648.9,937.2 649.8,937.2 650.7,937.3 651.6,937.3 652.5,937.3 653.4,937.3 654.3,937.3 655.2,937.4 656.1,937.4 657.0,937.4 657.9,937.4 658.8,937.4 659.7,937.4 660.6,937.4 661.5,937.4 662.4,937.4 663.3,937.4 664.3,937.4 665.2,937.4 666.1,937.4 667.0,937.4 667.9,937.4 668.8,937.4 669.7,937.4 670.6,937.4 671.5,937.4 672.4,937.4 673.3,937.4 674.2,937.4 675.1,937.4 676.0,937.4 676.9,937.4 677.8,937.4 678.7,937.4 679.6,937.4 680.5,937.4 681.4,937.4 682.3,937.4 683.2,937.4 684.1,937.4 685.0,937.4 685.9,937.4 686.8,937.4 687.7,937.4 688.7,937.4 689.6,937.4 690.5,937.4 691.4,937.4 692.3,937.4 693.2,937.4 694.1,937.4 695.0,937.4" fill="none" stroke="#ffff00" stroke-width="2.9" stroke-linejoin="round" stroke-linecap="round"/>
<polyline points="152.7,938.4 153.6,938.4 154.5,938.4 155.4,938.4 156.3,938.4 157.2,938.4 158.1,938.4 159.0,938.4 159.9,938.4 160.8,938.4 161.7,938.4 162.6,938.4 163.5,938.4 164.4,938.4 165.4,938.4 166.3,938.4 167.2,938.4 168.1,938.4 169.0,938.4 169.9,938.4 170.8,938.4 171.7,938.4 172.6,938.4 173.5,938.4 174.4,938.4 175.3,938.4 176.2,938.4 177.1,938.4 178.0,938.4 178.9,938.4 179.8,938.4 180.7,938.4 181.6,938.4 182.5,938.4 183.4,938.4 184.3,938.4 185.2,938.4 186.1,938.4 187.0,938.4 187.9,938.4 188.9,938.4 189.8,938.4 190.7,938.4 191.6,938.4 192.5,938.4 193.4,938.4 194.3,938.4 195.2,938.4 196.1,938.4 197.0,938.4 197.9,938.4 198.8,938.4 199.7,938.4 200.6,938.4 201.5,938.4 202.4,938.4 203.3,938.4 204.2,938.4 205.1,938.4 206.0,938.4 206.9,938.4 207.8,938.4 208.7,938.4 209.6,938.4 210.5,938.4 211.4,938.4 212.4,938.4 213.3,938.4 214.2,938.4 215.1,938.2 216.0,937.8 216.9,937.2 217.8,936.5 218.7,935.4 219.6,933.8 220.5,931.6 221.4,928.8 222.3,924.8 223.2,918.8 224.1,910.8 225.0,901.0 225.9,884.6 226.8,863.7 227.7,840.6 228.6,821.9 229.5,812.5 230.4,805.7 231.3,801.0 232.2,797.3 233.1,794.3 234.0,792.0 234.9,790.5 235.8,789.5 236.8,789.0 237.7,790.7 238.6,794.7 239.5,799.5 240.4,805.1 241.3,812.3 242.2,820.0 243.1,827.4 244.0,834.4 244.9,841.7 245.8,848.7 246.7,855.2 247.6,860.8 248.5,865.7 249.4,870.1 250.3,874.2 251.2,877.8 252.1,880.9 253.0,883.7 253.9,886.3 254.8,888.7 255.7,890.9 256.6,892.9 257.5,894.7 258.4,896.3 259.3,897.6 260.3,898.9 261.2,900.0 262.1,901.0 263.0,902.0 263.9,902.9 264.8,903.9 265.7,904.9 266.6,905.8 267.5,906.7 268.4,907.6 269.3,908.5 270.2,909.4 271.1,910.3 272.0,911.3 272.9,912.3 273.8,913.3 274.7,914.4 275.6,915.4 276.5,916.5 277.4,917.5 278.3,918.6 279.2,919.7 280.1,920.9 281.0,922.0 281.9,923.2 282.8,924.3 283.8,925.3 284.7,926.2 285.6,927.1 286.5,928.0 287.4,928.9 288.3,929.8 289.2,930.6 290.1,931.3 291.0,931.9 291.9,932.4 292.8,932.7 293.7,932.8 294.6,933.0 295.5,933.1 296.4,933.2 297.3,933.3 298.2,933.4 299.1,933.5 300.0,933.6 300.9,933.6 301.8,933.6 302.7,933.6 303.6,933.6 304.5,933.6 305.4,933.6 306.3,933.6 307.2,933.6 308.2,933.6 309.1,933.6 310.0,933.6 310.9,933.6 311.8,933.6 312.7,933.6 313.6,933.6 314.5,933.6 315.4,933.6 316.3,933.6 317.2,933.6 318.1,933.6 319.0,933.6 319.9,933.6 320.8,933.6 321.7,933.6 322.6,933.6 323.5,933.6 324.4,933.6 325.3,933.6 326.2,933.6 327.1,933.6 328.0,933.6 328.9,933.6 329.8,933.6 330.7,933.6 331.7,933.6 332.6,933.6 333.5,933.6 334.4,933.6 335.3,933.6 336.2,933.6 337.1,933.6 338.0,933.6 338.9,933.6 339.8,933.6 340.7,933.6 341.6,933.6 342.5,933.6 343.4,933.6 344.3,933.6 345.2,933.6 346.1,933.6 347.0,933.6 347.9,933.6 348.8,933.6 349.7,933.6 350.6,933.6 351.5,933.6 352.4,933.6 353.3,933.6 354.2,933.6 355.2,933.6 356.1,933.6 357.0,933.6 357.9,933.6 358.8,933.6 359.7,933.6 360.6,933.6 361.5,933.6 362.4,933.6 363.3,933.6 364.2,933.6 365.1,933.6 366.0,933.6 366.9,933.6 367.8,933.6 368.7,933.6 369.6,933.6 370.5,933.6 371.4,933.6 372.3,933.6 373.2,933.6 374.1,933.6 375.0,933.6 375.9,933.6 376.8,933.6 377.7,933.5 378.6,933.0 379.6,932.3 380.5,931.5 381.4,930.4 382.3,929.3 383.2,928.2 384.1,927.1 385.0,926.0 385.9,925.0 386.8,924.1 387.7,923.2 388.6,922.3 389.5,921.4 390.4,920.5 391.3,919.5 392.2,918.5 393.1,917.3 394.0,915.8 394.9,913.9 395.8,912.3 396.7,911.6 397.6,912.2 398.5,913.5 399.4,914.8 400.3,915.4 401.2,915.4 402.1,915.4 403.1,915.3 404.0,915.2 404.9,915.1 405.8,915.0 406.7,914.8 407.6,914.7 408.5,914.5 409.4,914.4 410.3,914.2 411.2,914.0 412.1,913.9 413.0,913.7 413.9,913.6 414.8,913.5 415.7,913.4 416.6,913.3 417.5,913.2 418.4,913.1 419.3,913.0 420.2,912.9 421.1,912.8 422.0,912.7 422.9,912.6 423.8,912.6 424.7,912.5 425.6,912.4 426.6,912.3 427.5,912.2 428.4,912.1 429.3,912.0 430.2,911.9 431.1,911.8 432.0,911.7 432.9,911.6 433.8,911.5 434.7,911.4 435.6,911.3 436.5,911.2 437.4,911.0 438.3,910.9 439.2,910.8 440.1,910.7 441.0,910.6 441.9,910.5 442.8,910.4 443.7,910.3 444.6,910.2 445.5,910.0 446.4,909.9 447.3,909.8 448.2,909.6 449.1,909.5 450.1,909.3 451.0,909.2 451.9,909.0 452.8,908.8 453.7,908.6 454.6,908.4 455.5,908.2 456.4,908.0 457.3,907.8 458.2,907.5 459.1,907.1 460.0,906.7 460.9,906.3 461.8,905.8 462.7,905.2 463.6,904.6 464.5,904.0 465.4,903.4 466.3,902.7 467.2,902.0 468.1,901.3 469.0,900.5 469.9,899.6 470.8,898.6 471.7,897.5 472.6,896.5 473.5,895.3 474.5,894.1 475.4,892.7 476.3,891.2 477.2,889.6 478.1,888.0 479.0,886.4 479.9,884.8 480.8,883.1 481.7,881.5 482.6,879.8 483.5,878.0 484.4,876.2 485.3,874.2 486.2,872.2 487.1,870.1 488.0,867.9 488.9,865.6 489.8,863.3 490.7,860.8 491.6,858.3 492.5,855.8 493.4,853.2 494.3,850.5 495.2,847.8 496.1,845.0 497.0,842.1 498.0,839.0 498.9,835.7 499.8,832.1 500.7,827.9 501.6,823.1 502.5,818.0 503.4,813.0 504.3,808.1 505.2,802.9 506.1,797.8 507.0,793.1 507.9,789.2 508.8,785.8 509.7,782.4 510.6,779.2 511.5,776.1 512.4,773.1 513.3,770.3 514.2,767.7 515.1,765.2 516.0,762.9 516.9,760.7 517.8,758.8 518.7,757.0 519.6,755.4 520.5,753.8 521.5,752.3 522.4,751.0 523.3,750.1 524.2,749.7 525.1,749.8 526.0,750.1 526.9,750.5 527.8,751.1 528.7,751.7 529.6,752.4 530.5,753.1 531.4,754.1 532.3,755.5 533.2,757.1 534.1,758.6 535.0,759.7 535.9,760.2 536.8,760.2 537.7,760.2 538.6,760.2 539.5,760.3 540.4,760.3 541.3,760.3 542.2,759.6 543.1,757.8 544.0,755.3 544.9,752.1 545.9,748.7 546.8,745.3 547.7,742.2 548.6,739.3 549.5,736.2 550.4,733.1 551.3,729.9 552.2,726.6 553.1,723.2 554.0,719.9 554.9,716.5 555.8,713.1 556.7,709.6 557.6,706.1 558.5,702.4 559.4,698.6 560.3,694.6 561.2,690.5 562.1,686.1 563.0,681.8 563.9,677.4 564.8,672.8 565.7,668.0 566.6,663.5 567.5,659.1 568.4,654.7 569.4,654.2 570.3,655.7 571.2,658.1 572.1,661.0 573.0,664.0 573.9,667.5 574.8,671.6 575.7,676.2 576.6,681.3 577.5,686.9 578.4,693.0 579.3,699.5 580.2,707.1 581.1,716.2 582.0,726.4 582.9,737.2 583.8,748.3 584.7,759.2 585.6,770.3 586.5,782.1 587.4,794.2 588.3,806.0 589.2,817.3 590.1,827.5 591.0,837.0 591.9,846.4 592.9,855.5 593.8,864.1 594.7,871.9 595.6,878.7 596.5,884.4 597.4,889.2 598.3,893.7 599.2,897.8 600.1,901.6 601.0,904.9 601.9,908.0 602.8,910.6 603.7,912.8 604.6,914.7 605.5,916.6 606.4,918.4 607.3,920.0 608.2,921.5 609.1,922.8 610.0,924.0 610.9,925.0 611.8,925.8 612.7,926.4 613.6,926.9 614.5,927.3 615.4,927.7 616.3,928.0 617.3,928.3 618.2,928.6 619.1,928.9 620.0,929.1 620.9,929.3 621.8,929.6 622.7,929.8 623.6,930.0 624.5,930.3 625.4,930.6 626.3,930.9 627.2,931.2 628.1,931.5 629.0,931.9 629.9,932.2 630.8,932.5 631.7,932.8 632.6,933.2 633.5,933.5 634.4,933.7 635.3,934.0 636.2,934.2 637.1,934.5 638.0,934.6 638.9,934.8 639.8,934.9 640.8,935.0 641.7,935.0 642.6,935.0 643.5,935.1 644.4,935.1 645.3,935.2 646.2,935.2 647.1,935.2 648.0,935.3 648.9,935.3 649.8,935.3 650.7,935.3 651.6,935.4 652.5,935.4 653.4,935.4 654.3,935.4 655.2,935.4 656.1,935.5 657.0,935.5 657.9,935.5 658.8,935.5 659.7,935.5 660.6,935.5 661.5,935.5 662.4,935.5 663.3,935.5 664.3,935.5 665.2,935.5 666.1,935.5 667.0,935.5 667.9,935.5 668.8,935.5 669.7,935.5 670.6,935.5 671.5,935.5 672.4,935.5 673.3,935.5 674.2,935.5 675.1,935.5 676.0,935.5 676.9,935.5 677.8,935.5 678.7,935.5 679.6,935.5 680.5,935.5 681.4,935.5 682.3,935.5 683.2,935.5 684.1,935.5 685.0,935.5 685.9,935.5 686.8,935.5 687.7,935.5 688.7,935.5 689.6,935.5 690.5,935.5 691.4,935.5 692.3,935.5 693.2,935.5 694.1,935.5 695.0,935.5" fill="none" stroke="#ff0000" stroke-width="2.9" stroke-linejoin="round" stroke-linecap="round"/>
<polyline points="152.7,938.4 153.6,938.4 154.5,938.4 155.4,938.4 156.3,938.4 157.2,938.4 158.1,938.4 159.0,938.4 159.9,938.4 160.8,938.4 161.7,938.4 162.6,938.4 163.5,938.4 164.4,938.4 165.4,938.4 166.3,938.4 167.2,938.4 168.1,938.4 169.0,938.4 169.9,938.4 170.8,938.4 171.7,938.4 172.6,938.4 173.5,938.4 174.4,938.4 175.3,938.4 176.2,938.4 177.1,938.4 178.0,938.4 178.9,938.4 179.8,938.4 180.7,938.4 181.6,938.4 182.5,938.4 183.4,938.4 184.3,938.4 185.2,938.4 186.1,938.4 187.0,938.4 187.9,938.4 188.9,938.4 189.8,938.4 190.7,938.4 191.6,938.4 192.5,938.4 193.4,938.4 194.3,938.4 195.2,938.4 196.1,938.4 197.0,938.4 197.9,938.4 198.8,938.4 199.7,938.4 200.6,938.4 201.5,938.4 202.4,938.4 203.3,938.4 204.2,938.4 205.1,938.4 206.0,938.4 206.9,938.4 207.8,938.4 208.7,938.4 209.6,938.4 210.5,938.4 211.4,938.4 212.4,938.4 213.3,938.4 214.2,938.4 215.1,938.2 216.0,937.8 216.9,937.2 217.8,936.5 218.7,935.4 219.6,933.8 220.5,931.6 221.4,928.8 222.3,924.8 223.2,918.9 224.1,911.1 225.0,901.5 225.9,885.3 226.8,864.7 227.7,841.8 228.6,823.4 229.5,814.1 230.4,807.4 231.3,802.7 232.2,799.1 233.1,796.2 234.0,793.9 234.9,792.4 235.8,791.4 236.8,790.9 237.7,792.6 238.6,796.6 239.5,801.2 240.4,806.8 241.3,813.8 242.2,821.4 243.1,828.6 244.0,835.5 244.9,842.6 245.8,849.4 246.7,855.8 247.6,861.1 248.5,865.7 249.4,869.8 250.3,873.5 251.2,876.9 252.1,879.8 253.0,882.4 253.9,884.9 254.8,887.2 255.7,889.4 256.6,891.3 257.5,893.0 258.4,894.5 259.3,895.9 260.3,897.1 261.2,898.1 262.1,899.1 263.0,900.1 263.9,901.0 264.8,902.0 265.7,903.0 266.6,904.0 267.5,904.9 268.4,905.8 269.3,906.8 270.2,907.7 271.1,908.7 272.0,909.7 272.9,910.8 273.8,911.8 274.7,912.9 275.6,913.9 276.5,915.0 277.4,916.1 278.3,917.2 279.2,918.4 280.1,919.5 281.0,920.7 281.9,921.9 282.8,923.0 283.8,924.0 284.7,925.0 285.6,925.9 286.5,926.9 287.4,927.8 288.3,928.7 289.2,929.6 290.1,930.3 291.0,931.0 291.9,931.4 292.8,931.7 293.7,931.9 294.6,932.0 295.5,932.2 296.4,932.3 297.3,932.4 298.2,932.5 299.1,932.6 300.0,932.6 300.9,932.6 301.8,932.7 302.7,932.7 303.6,932.7 304.5,932.7 305.4,932.7 306.3,932.7 307.2,932.7 308.2,932.7 309.1,932.7 310.0,932.7 310.9,932.7 311.8,932.7 312.7,932.7 313.6,932.7 314.5,932.7 315.4,932.7 316.3,932.7 317.2,932.7 318.1,932.7 319.0,932.7 319.9,932.7 320.8,932.7 321.7,932.7 322.6,932.7 323.5,932.7 324.4,932.7 325.3,932.7 326.2,932.7 327.1,932.7 328.0,932.7 328.9,932.7 329.8,932.7 330.7,932.7 331.7,932.7 332.6,932.7 333.5,932.7 334.4,932.7 335.3,932.7 336.2,932.7 337.1,932.7 338.0,932.7 338.9,932.7 339.8,932.7 340.7,932.7 341.6,932.7 342.5,932.7 343.4,932.7 344.3,932.7 345.2,932.7 346.1,932.7 347.0,932.7 347.9,932.7 348.8,932.7 349.7,932.7 350.6,932.7 351.5,932.7 352.4,932.7 353.3,932.7 354.2,932.7 355.2,932.7 356.1,932.7 357.0,932.7 357.9,932.7 358.8,932.7 359.7,932.7 360.6,932.7 361.5,932.7 362.4,932.7 363.3,932.7 364.2,932.7 365.1,932.7 366.0,932.7 366.9,932.7 367.8,932.7 368.7,932.7 369.6,932.7 370.5,932.7 371.4,932.7 372.3,932.7 373.2,932.7 374.1,932.7 375.0,932.7 375.9,932.7 376.8,932.7 377.7,932.5 378.6,932.1 379.6,931.5 380.5,930.7 381.4,929.8 382.3,928.8 383.2,927.8 384.1,926.8 385.0,925.8 385.9,924.9 386.8,924.1 387.7,923.3 388.6,922.5 389.5,921.7 390.4,920.9 391.3,920.0 392.2,919.0 393.1,918.0 394.0,916.5 394.9,914.7 395.8,913.2 396.7,912.5 397.6,913.1 398.5,914.5 399.4,915.8 400.3,916.4 401.2,916.4 402.1,916.3 403.1,916.2 404.0,916.2 404.9,916.0 405.8,915.9 406.7,915.8 407.6,915.6 408.5,915.5 409.4,915.3 410.3,915.2 411.2,915.0 412.1,914.8 413.0,914.7 413.9,914.6 414.8,914.5 415.7,914.4 416.6,914.3 417.5,914.2 418.4,914.1 419.3,914.0 420.2,913.9 421.1,913.8 422.0,913.7 422.9,913.6 423.8,913.5 424.7,913.4 425.6,913.3 426.6,913.2 427.5,913.2 428.4,913.1 429.3,913.0 430.2,912.9 431.1,912.8 432.0,912.7 432.9,912.5 433.8,912.4 434.7,912.3 435.6,912.2 436.5,912.1 437.4,912.0 438.3,911.9 439.2,911.8 440.1,911.7 441.0,911.6 441.9,911.5 442.8,911.3 443.7,911.2 444.6,911.1 445.5,911.0 446.4,910.9 447.3,910.7 448.2,910.6 449.1,910.4 450.1,910.3 451.0,910.1 451.9,909.9 452.8,909.8 453.7,909.6 454.6,909.4 455.5,909.2 456.4,908.9 457.3,908.7 458.2,908.4 459.1,908.1 460.0,907.7 460.9,907.3 461.8,906.9 462.7,906.4 463.6,905.8 464.5,905.2 465.4,904.6 466.3,904.0 467.2,903.4 468.1,902.7 469.0,902.0 469.9,901.3 470.8,900.5 471.7,899.6 472.6,898.6 473.5,897.5 474.5,896.5 475.4,895.3 476.3,894.1 477.2,892.7 478.1,891.2 479.0,889.6 479.9,888.0 480.8,886.4 481.7,884.8 482.6,883.1 483.5,881.5 484.4,879.8 485.3,878.0 486.2,876.2 487.1,874.2 488.0,872.2 488.9,870.1 489.8,867.9 490.7,865.6 491.6,863.3 492.5,860.8 493.4,858.3 494.3,855.8 495.2,853.2 496.1,850.5 497.0,847.8 498.0,845.0 498.9,842.1 499.8,839.0 500.7,835.7 501.6,832.1 502.5,827.9 503.4,823.1 504.3,818.0 505.2,813.0 506.1,808.0 507.0,802.8 507.9,797.6 508.8,793.0 509.7,789.3 510.6,786.1 511.5,783.1 512.4,780.3 513.3,777.6 514.2,775.1 515.1,772.8 516.0,770.7 516.9,768.7 517.8,766.9 518.7,765.2 519.6,763.8 520.5,762.3 521.5,760.8 522.4,759.6 523.3,758.7 524.2,758.4 525.1,758.5 526.0,758.7 526.9,759.2 527.8,759.7 528.7,760.3 529.6,761.0 530.5,761.7 531.4,762.7 532.3,764.1 533.2,765.7 534.1,767.2 535.0,768.3 535.9,768.8 536.8,768.8 537.7,768.8 538.6,768.9 539.5,768.9 540.4,768.9 541.3,768.9 542.2,768.3 543.1,766.7 544.0,764.3 544.9,761.4 545.9,758.2 546.8,755.1 547.7,752.3 548.6,749.6 549.5,746.8 550.4,743.9 551.3,740.9 552.2,737.9 553.1,734.9 554.0,731.8 554.9,728.7 555.8,725.5 556.7,722.4 557.6,719.1 558.5,715.7 559.4,712.2 560.3,708.6 561.2,704.7 562.1,700.8 563.0,696.7 563.9,692.7 564.8,688.5 565.7,684.1 566.6,680.0 567.5,675.9 568.4,671.9 569.4,671.4 570.3,672.8 571.2,675.1 572.1,677.8 573.0,680.6 573.9,683.9 574.8,687.7 575.7,692.1 576.6,696.9 577.5,702.2 578.4,707.9 579.3,714.0 580.2,721.1 581.1,729.6 582.0,739.2 582.9,749.4 583.8,759.9 584.7,770.1 585.6,780.5 586.5,791.6 587.4,802.9 588.3,814.0 589.2,824.6 590.1,834.2 591.0,843.1 591.9,852.0 592.9,860.5 593.8,868.5 594.7,875.9 595.6,882.3 596.5,887.6 597.4,892.2 598.3,896.5 599.2,900.4 600.1,904.0 601.0,907.2 601.9,910.1 602.8,912.6 603.7,914.7 604.6,916.6 605.5,918.4 606.4,920.0 607.3,921.6 608.2,923.0 609.1,924.3 610.0,925.4 610.9,926.3 611.8,927.1 612.7,927.7 613.6,928.2 614.5,928.6 615.4,929.0 616.3,929.3 617.3,929.6 618.2,929.9 619.1,930.1 620.0,930.3 620.9,930.6 621.8,930.8 622.7,931.0 623.6,931.3 624.5,931.5 625.4,931.8 626.3,932.1 627.2,932.4 628.1,932.7 629.0,933.0 629.9,933.3 630.8,933.6 631.7,933.9 632.6,934.2 633.5,934.5 634.4,934.8 635.3,935.0 636.2,935.2 637.1,935.4 638.0,935.6 638.9,935.7 639.8,935.8 640.8,935.9 641.7,936.0 642.6,936.0 643.5,936.0 644.4,936.1 645.3,936.1 646.2,936.1 647.1,936.2 648.0,936.2 648.9,936.2 649.8,936.3 650.7,936.3 651.6,936.3 652.5,936.3 653.4,936.4 654.3,936.4 655.2,936.4 656.1,936.4 657.0,936.4 657.9,936.4 658.8,936.5 659.7,936.5 660.6,936.5 661.5,936.5 662.4,936.5 663.3,936.5 664.3,936.5 665.2,936.5 666.1,936.5 667.0,936.5 667.9,936.5 668.8,936.5 669.7,936.5 670.6,936.5 671.5,936.5 672.4,936.5 673.3,936.5 674.2,936.5 675.1,936.5 676.0,936.5 676.9,936.5 677.8,936.5 678.7,936.5 679.6,936.5 680.5,936.5 681.4,936.5 682.3,936.5 683.2,936.5 684.1,936.5 685.0,936.5 685.9,936.5 686.8,936.5 687.7,936.5 688.7,936.5 689.6,936.5 690.5,936.5 691.4,936.5 692.3,936.5 693.2,936.5 694.1,936.5 695.0,936.5" fill="none" stroke="#0000ff" stroke-width="2.9" stroke-linejoin="round" stroke-linecap="round"/>
<polyline points="152.7,938.4 153.6,938.4 154.5,938.4 155.4,938.4 156.3,938.4 157.2,938.4 158.1,938.4 159.0,938.4 159.9,938.4 160.8,938.4 161.7,938.4 162.6,938.4 163.5,938.4 164.4,938.4 165.4,938.4 166.3,938.4 167.2,938.4 168.1,938.4 169.0,938.4 169.9,938.4 170.8,938.4 171.7,938.4 172.6,938.4 173.5,938.4 174.4,938.4 175.3,938.4 176.2,938.4 177.1,938.4 178.0,938.4 178.9,938.4 179.8,938.4 180.7,938.4 181.6,938.4 182.5,938.4 183.4,938.4 184.3,938.4 185.2,938.4 186.1,938.4 187.0,938.4 187.9,938.4 188.9,938.4 189.8,938.4 190.7,938.4 191.6,938.4 192.5,938.4 193.4,938.4 194.3,938.4 195.2,938.4 196.1,938.4 197.0,938.4 197.9,938.4 198.8,938.4 199.7,938.4 200.6,938.4 201.5,938.4 202.4,938.4 203.3,938.4 204.2,938.4 205.1,938.4 206.0,938.4 206.9,938.4 207.8,938.4 208.7,938.4 209.6,938.4 210.5,938.4 211.4,938.4 212.4,938.4 213.3,938.4 214.2,938.4 215.1,938.2 216.0,937.8 216.9,937.2 217.8,936.5 218.7,935.4 219.6,933.7 220.5,931.5 221.4,928.8 222.3,925.1 223.2,919.7 224.1,912.5 225.0,903.7 225.9,888.5 226.8,869.0 227.7,847.5 228.6,830.1 229.5,821.4 230.4,815.1 231.3,810.6 232.2,807.3 233.1,804.5 234.0,802.3 234.9,800.9 235.8,800.0 236.8,799.5 237.7,801.1 238.6,804.8 239.5,809.3 240.4,814.6 241.3,821.4 242.2,828.8 243.1,835.8 244.0,842.6 244.9,849.4 245.8,856.2 246.7,862.5 247.6,868.2 248.5,873.3 249.4,878.2 250.3,882.7 251.2,886.6 252.1,889.9 253.0,892.8 253.9,895.3 254.8,897.7 255.7,899.8 256.6,901.7 257.5,903.4 258.4,905.0 259.3,906.3 260.3,907.6 261.2,908.7 262.1,909.8 263.0,910.7 263.9,911.7 264.8,912.5 265.7,913.4 266.6,914.1 267.5,914.8 268.4,915.5 269.3,916.2 270.2,916.9 271.1,917.6 272.0,918.4 272.9,919.3 273.8,920.2 274.7,921.1 275.6,922.0 276.5,922.9 277.4,923.8 278.3,924.7 279.2,925.7 280.1,926.7 281.0,927.7 281.9,928.7 282.8,929.6 283.8,930.4 284.7,931.2 285.6,932.0 286.5,932.7 287.4,933.4 288.3,934.1 289.2,934.8 290.1,935.4 291.0,935.9 291.9,936.2 292.8,936.5 293.7,936.6 294.6,936.8 295.5,936.9 296.4,937.1 297.3,937.2 298.2,937.3 299.1,937.3 300.0,937.4 300.9,937.4 301.8,937.4 302.7,937.4 303.6,937.4 304.5,937.4 305.4,937.4 306.3,937.4 307.2,937.4 308.2,937.4 309.1,937.4 310.0,937.4 310.9,937.4 311.8,937.4 312.7,937.4 313.6,937.4 314.5,937.4 315.4,937.4 316.3,937.4 317.2,937.4 318.1,937.4 319.0,937.4 319.9,937.4 320.8,937.4 321.7,937.4 322.6,937.4 323.5,937.4 324.4,937.4 325.3,937.4 326.2,937.4 327.1,937.4 328.0,937.4 328.9,937.4 329.8,937.4 330.7,937.4 331.7,937.4 332.6,937.4 333.5,937.4 334.4,937.4 335.3,937.4 336.2,937.4 337.1,937.4 338.0,937.4 338.9,937.4 339.8,937.4 340.7,937.4 341.6,937.4 342.5,937.4 343.4,937.4 344.3,937.4 345.2,937.4 346.1,937.4 347.0,937.4 347.9,937.4 348.8,937.4 349.7,937.4 350.6,937.4 351.5,937.4 352.4,937.4 353.3,937.4 354.2,937.4 355.2,937.4 356.1,937.4 357.0,937.4 357.9,937.4 358.8,937.4 359.7,937.4 360.6,937.4 361.5,937.4 362.4,937.4 363.3,937.4 364.2,937.4 365.1,937.4 366.0,937.4 366.9,937.4 367.8,937.4 368.7,937.4 369.6,937.4 370.5,937.4 371.4,937.4 372.3,937.4 373.2,937.4 374.1,937.4 375.0,937.4 375.9,937.4 376.8,937.4 377.7,937.3 378.6,936.7 379.6,936.0 380.5,935.0 381.4,933.8 382.3,932.5 383.2,931.2 384.1,929.9 385.0,928.7 385.9,927.5 386.8,926.5 387.7,925.5 388.6,924.4 389.5,923.4 390.4,922.3 391.3,921.2 392.2,920.0 393.1,918.7 394.0,917.0 394.9,915.0 395.8,913.3 396.7,912.5 397.6,913.1 398.5,914.5 399.4,915.8 400.3,916.4 401.2,916.4 402.1,916.3 403.1,916.2 404.0,916.2 404.9,916.0 405.8,915.9 406.7,915.8 407.6,915.6 408.5,915.5 409.4,915.3 410.3,915.2 411.2,915.0 412.1,914.8 413.0,914.7 413.9,914.6 414.8,914.5 415.7,914.4 416.6,914.3 417.5,914.2 418.4,914.1 419.3,914.0 420.2,913.9 421.1,913.8 422.0,913.7 422.9,913.6 423.8,913.5 424.7,913.4 425.6,913.3 426.6,913.2 427.5,913.2 428.4,913.1 429.3,913.0 430.2,912.9 431.1,912.8 432.0,912.7 432.9,912.5 433.8,912.4 434.7,912.3 435.6,912.2 436.5,912.1 437.4,912.0 438.3,911.9 439.2,911.8 440.1,911.7 441.0,911.6 441.9,911.4 442.8,911.3 443.7,911.2 444.6,911.1 445.5,911.0 446.4,910.8 447.3,910.7 448.2,910.6 449.1,910.4 450.1,910.3 451.0,910.1 451.9,909.9 452.8,909.7 453.7,909.6 454.6,909.4 455.5,909.2 456.4,908.9 457.3,908.7 458.2,908.5 459.1,908.2 460.0,907.8 460.9,907.4 461.8,907.0 462.7,906.6 463.6,906.1 464.5,905.6 465.4,905.1 466.3,904.5 467.2,903.9 468.1,903.3 469.0,902.7 469.9,902.0 470.8,901.3 471.7,900.5 472.6,899.6 473.5,898.6 474.5,897.6 475.4,896.5 476.3,895.3 477.2,894.1 478.1,892.7 479.0,891.2 479.9,889.6 480.8,888.0 481.7,886.4 482.6,884.8 483.5,883.1 484.4,881.5 485.3,879.8 486.2,878.0 487.1,876.2 488.0,874.2 488.9,872.2 489.8,870.1 490.7,867.9 491.6,865.6 492.5,863.3 493.4,860.8 494.3,858.3 495.2,855.8 496.1,853.2 497.0,850.5 498.0,847.8 498.9,845.0 499.8,842.1 500.7,839.0 501.6,835.7 502.5,832.1 503.4,827.7 504.3,822.4 505.2,817.1 506.1,812.5 507.0,809.1 507.9,805.9 508.8,802.9 509.7,800.1 510.6,797.4 511.5,794.8 512.4,792.3 513.3,790.0 514.2,787.9 515.1,785.8 516.0,783.9 516.9,782.2 517.8,780.6 518.7,779.1 519.6,777.7 520.5,776.3 521.5,775.0 522.4,773.8 523.3,773.0 524.2,772.7 525.1,772.8 526.0,772.9 526.9,773.2 527.8,773.5 528.7,773.8 529.6,774.2 530.5,774.6 531.4,775.3 532.3,776.5 533.2,777.8 534.1,779.0 535.0,779.9 535.9,780.3 536.8,780.3 537.7,780.3 538.6,780.4 539.5,780.4 540.4,780.4 541.3,780.4 542.2,779.8 543.1,778.4 544.0,776.2 544.9,773.5 545.9,770.7 546.8,767.8 547.7,765.2 548.6,762.8 549.5,760.2 550.4,757.6 551.3,754.9 552.2,752.1 553.1,749.3 554.0,746.5 554.9,743.7 555.8,740.9 556.7,738.0 557.6,735.0 558.5,731.9 559.4,728.7 560.3,725.4 561.2,721.9 562.1,718.3 563.0,714.6 563.9,710.9 564.8,707.1 565.7,703.1 566.6,699.3 567.5,695.6 568.4,692.0 569.4,691.5 570.3,692.8 571.2,694.9 572.1,697.5 573.0,700.0 573.9,703.1 574.8,706.6 575.7,710.6 576.6,715.1 577.5,719.9 578.4,725.2 579.3,730.8 580.2,737.4 581.1,745.4 582.0,754.2 582.9,763.7 583.8,773.3 584.7,782.7 585.6,792.4 586.5,802.6 587.4,813.1 588.3,823.4 589.2,833.2 590.1,842.0 591.0,850.3 591.9,858.5 592.9,866.4 593.8,873.8 594.7,880.6 595.6,886.5 596.5,891.5 597.4,895.7 598.3,899.6 599.2,903.2 600.1,906.6 601.0,909.5 601.9,912.2 602.8,914.5 603.7,916.4 604.6,918.2 605.5,919.8 606.4,921.3 607.3,922.8 608.2,924.1 609.1,925.2 610.0,926.3 610.9,927.2 611.8,927.9 612.7,928.4 613.6,928.8 614.5,929.2 615.4,929.5 616.3,929.8 617.3,930.1 618.2,930.3 619.1,930.5 620.0,930.8 620.9,931.0 621.8,931.2 622.7,931.4 623.6,931.6 624.5,931.8 625.4,932.1 626.3,932.3 627.2,932.6 628.1,932.9 629.0,933.2 629.9,933.5 630.8,933.8 631.7,934.0 632.6,934.3 633.5,934.6 634.4,934.8 635.3,935.1 636.2,935.3 637.1,935.5 638.0,935.6 638.9,935.7 639.8,935.8 640.8,935.9 641.7,936.0 642.6,936.0 643.5,936.0 644.4,936.1 645.3,936.1 646.2,936.1 647.1,936.2 648.0,936.2 648.9,936.2 649.8,936.3 650.7,936.3 651.6,936.3 652.5,936.3 653.4,936.4 654.3,936.4 655.2,936.4 656.1,936.4 657.0,936.4 657.9,936.4 658.8,936.5 659.7,936.5 660.6,936.5 661.5,936.5 662.4,936.5 663.3,936.5 664.3,936.5 665.2,936.5 666.1,936.5 667.0,936.5 667.9,936.5 668.8,936.5 669.7,936.5 670.6,936.5 671.5,936.5 672.4,936.5 673.3,936.5 674.2,936.5 675.1,936.5 676.0,936.5 676.9,936.5 677.8,936.5 678.7,936.5 679.6,936.5 680.5,936.5 681.4,936.5 682.3,936.5 683.2,936.5 684.1,936.5 685.0,936.5 685.9,936.5 686.8,936.5 687.7,936.5 688.7,936.5 689.6,936.5 690.5,936.5 691.4,936.5 692.3,936.5 693.2,936.5 694.1,936.5 695.0,936.5" fill="none" stroke="#008000" stroke-width="2.9" stroke-linejoin="round" stroke-linecap="round"/>
<polyline points="152.7,938.4 153.6,938.4 154.5,938.4 155.4,938.4 156.3,938.4 157.2,938.4 158.1,938.4 159.0,938.4 159.9,938.4 160.8,938.4 161.7,938.4 162.6,938.4 163.5,938.4 164.4,938.4 165.4,938.4 166.3,938.4 167.2,938.4 168.1,938.4 169.0,938.4 169.9,938.4 170.8,938.4 171.7,938.4 172.6,938.4 173.5,938.4 174.4,938.4 175.3,938.4 176.2,938.4 177.1,938.4 178.0,938.4 178.9,938.4 179.8,938.4 180.7,938.4 181.6,938.4 182.5,938.4 183.4,938.4 184.3,938.4 185.2,938.4 186.1,938.4 187.0,938.4 187.9,938.4 188.9,938.4 189.8,938.4 190.7,938.4 191.6,938.4 192.5,938.4 193.4,938.4 194.3,938.4 195.2,938.4 196.1,938.4 197.0,938.4 197.9,938.4 198.8,938.4 199.7,938.4 200.6,938.4 201.5,938.4 202.4,938.4 203.3,938.4 204.2,938.4 205.1,938.4 206.0,938.4 206.9,938.4 207.8,938.4 208.7,938.4 209.6,938.4 210.5,938.4 211.4,938.4 212.4,938.4 213.3,938.4 214.2,938.4 215.1,938.2 216.0,937.8 216.9,937.2 217.8,936.5 218.7,935.4 219.6,933.7 220.5,931.5 221.4,928.8 222.3,925.1 223.2,919.9 224.1,913.0 225.0,904.4 225.9,889.5 226.8,870.4 227.7,849.3 228.6,832.3 229.5,823.8 230.4,817.6 231.3,813.3 232.2,810.0 233.1,807.3 234.0,805.2 234.9,803.8 235.8,802.8 236.8,802.4 237.7,804.0 238.6,807.6 239.5,811.9 240.4,817.0 241.3,823.5 242.2,830.4 243.1,837.0 244.0,843.4 244.9,849.9 245.8,856.2 246.7,862.0 247.6,866.9 248.5,871.0 249.4,874.7 250.3,878.0 251.2,881.0 252.1,883.6 253.0,886.0 253.9,888.2 254.8,890.3 255.7,892.2 256.6,894.0 257.5,895.5 258.4,896.9 259.3,898.2 260.3,899.3 261.2,900.3 262.1,901.2 263.0,902.1 263.9,903.0 264.8,903.9 265.7,904.9 266.6,905.8 267.5,906.6 268.4,907.5 269.3,908.4 270.2,909.3 271.1,910.2 272.0,911.2 272.9,912.2 273.8,913.1 274.7,914.1 275.6,915.1 276.5,916.1 277.4,917.1 278.3,918.2 279.2,919.3 280.1,920.4 281.0,921.5 281.9,922.6 282.8,923.6 283.8,924.6 284.7,925.5 285.6,926.3 286.5,927.2 287.4,928.1 288.3,928.9 289.2,929.7 290.1,930.4 291.0,931.0 291.9,931.4 292.8,931.7 293.7,931.9 294.6,932.0 295.5,932.2 296.4,932.3 297.3,932.4 298.2,932.5 299.1,932.6 300.0,932.6 300.9,932.6 301.8,932.7 302.7,932.7 303.6,932.7 304.5,932.7 305.4,932.7 306.3,932.7 307.2,932.7 308.2,932.7 309.1,932.7 310.0,932.7 310.9,932.7 311.8,932.7 312.7,932.7 313.6,932.7 314.5,932.7 315.4,932.7 316.3,932.7 317.2,932.7 318.1,932.7 319.0,932.7 319.9,932.7 320.8,932.7 321.7,932.7 322.6,932.7 323.5,932.7 324.4,932.7 325.3,932.7 326.2,932.7 327.1,932.7 328.0,932.7 328.9,932.7 329.8,932.7 330.7,932.7 331.7,932.7 332.6,932.7 333.5,932.7 334.4,932.7 335.3,932.7 336.2,932.7 337.1,932.7 338.0,932.7 338.9,932.7 339.8,932.7 340.7,932.7 341.6,932.7 342.5,932.7 343.4,932.7 344.3,932.7 345.2,932.7 346.1,932.7 347.0,932.7 347.9,932.7 348.8,932.7 349.7,932.7 350.6,932.7 351.5,932.7 352.4,932.7 353.3,932.7 354.2,932.7 355.2,932.7 356.1,932.7 357.0,932.7 357.9,932.7 358.8,932.7 359.7,932.7 360.6,932.7 361.5,932.7 362.4,932.7 363.3,932.7 364.2,932.7 365.1,932.7 366.0,932.7 366.9,932.7 367.8,932.7 368.7,932.7 369.6,932.7 370.5,932.7 371.4,932.7 372.3,932.7 373.2,932.7 374.1,932.7 375.0,932.7 375.9,932.7 376.8,932.7 377.7,932.5 378.6,932.1 379.6,931.5 380.5,930.7 381.4,929.8 382.3,928.8 383.2,927.8 384.1,926.8 385.0,925.8 385.9,924.9 386.8,924.1 387.7,923.3 388.6,922.5 389.5,921.7 390.4,920.9 391.3,920.0 392.2,919.0 393.1,918.0 394.0,916.5 394.9,914.7 395.8,913.2 396.7,912.5 397.6,913.1 398.5,914.5 399.4,915.8 400.3,916.4 401.2,916.4 402.1,916.3 403.1,916.2 404.0,916.2 404.9,916.0 405.8,915.9 406.7,915.8 407.6,915.6 408.5,915.5 409.4,915.3 410.3,915.2 411.2,915.0 412.1,914.8 413.0,914.7 413.9,914.6 414.8,914.5 415.7,914.4 416.6,914.3 417.5,914.2 418.4,914.1 419.3,914.0 420.2,913.9 421.1,913.8 422.0,913.7 422.9,913.6 423.8,913.5 424.7,913.4 425.6,913.3 426.6,913.2 427.5,913.2 428.4,913.1 429.3,913.0 430.2,912.9 431.1,912.8 432.0,912.7 432.9,912.5 433.8,912.4 434.7,912.3 435.6,912.2 436.5,912.1 437.4,912.0 438.3,911.9 439.2,911.8 440.1,911.7 441.0,911.5 441.9,911.4 442.8,911.3 443.7,911.2 444.6,911.1 445.5,910.9 446.4,910.8 447.3,910.7 448.2,910.5 449.1,910.4 450.1,910.2 451.0,910.0 451.9,909.9 452.8,909.7 453.7,909.5 454.6,909.3 455.5,909.1 456.4,908.9 457.3,908.7 458.2,908.5 459.1,908.2 460.0,907.9 460.9,907.6 461.8,907.3 462.7,906.9 463.6,906.6 464.5,906.1 465.4,905.7 466.3,905.3 467.2,904.8 468.1,904.3 469.0,903.7 469.9,903.2 470.8,902.6 471.7,902.0 472.6,901.3 473.5,900.5 474.5,899.6 475.4,898.6 476.3,897.6 477.2,896.5 478.1,895.3 479.0,894.1 479.9,892.7 480.8,891.2 481.7,889.6 482.6,888.0 483.5,886.4 484.4,884.8 485.3,883.1 486.2,881.5 487.1,879.8 488.0,878.0 488.9,876.2 489.8,874.2 490.7,872.2 491.6,870.1 492.5,867.9 493.4,865.6 494.3,863.3 495.2,860.8 496.1,858.3 497.0,855.8 498.0,853.2 498.9,850.5 499.8,847.8 500.7,845.0 501.6,842.1 502.5,839.0 503.4,835.7 504.3,832.1 505.2,827.5 506.1,821.9 507.0,816.4 507.9,812.1 508.8,809.7 509.7,807.7 510.6,805.9 511.5,804.3 512.4,802.9 513.3,801.6 514.2,800.4 515.1,799.3 516.0,798.3 516.9,797.3 517.8,796.4 518.7,795.4 519.6,794.4 520.5,793.3 521.5,792.1 522.4,791.0 523.3,790.3 524.2,790.0 525.1,790.0 526.0,790.0 526.9,790.1 527.8,790.1 528.7,790.2 529.6,790.3 530.5,790.4 531.4,790.8 532.3,791.6 533.2,792.7 534.1,793.6 535.0,794.4 535.9,794.7 536.8,794.7 537.7,794.7 538.6,794.7 539.5,794.7 540.4,794.7 541.3,794.7 542.2,794.3 543.1,792.9 544.0,790.9 544.9,788.6 545.9,786.0 546.8,783.4 547.7,781.1 548.6,778.9 549.5,776.6 550.4,774.2 551.3,771.7 552.2,769.2 553.1,766.7 554.0,764.2 554.9,761.6 555.8,759.0 556.7,756.4 557.6,753.7 558.5,751.0 559.4,748.1 560.3,745.1 561.2,741.9 562.1,738.7 563.0,735.3 563.9,732.0 564.8,728.5 565.7,725.0 566.6,721.5 567.5,718.2 568.4,714.9 569.4,714.5 570.3,715.6 571.2,717.6 572.1,719.9 573.0,722.2 573.9,725.0 574.8,728.2 575.7,731.8 576.6,735.8 577.5,740.3 578.4,745.0 579.3,750.2 580.2,756.1 581.1,763.3 582.0,771.4 582.9,779.9 583.8,788.7 584.7,797.2 585.6,806.0 586.5,815.3 587.4,824.8 588.3,834.1 589.2,843.0 590.1,851.0 591.0,858.5 591.9,866.0 592.9,873.1 593.8,879.9 594.7,886.0 595.6,891.4 596.5,895.8 597.4,899.6 598.3,903.1 599.2,906.3 600.1,909.2 601.0,911.8 601.9,914.2 602.8,916.2 603.7,917.9 604.6,919.4 605.5,920.9 606.4,922.3 607.3,923.6 608.2,924.7 609.1,925.8 610.0,926.7 610.9,927.5 611.8,928.1 612.7,928.5 613.6,928.9 614.5,929.2 615.4,929.4 616.3,929.6 617.3,929.8 618.2,930.0 619.1,930.2 620.0,930.4 620.9,930.5 621.8,930.7 622.7,930.8 623.6,931.0 624.5,931.2 625.4,931.4 626.3,931.7 627.2,931.9 628.1,932.1 629.0,932.4 629.9,932.7 630.8,932.9 631.7,933.2 632.6,933.4 633.5,933.7 634.4,933.9 635.3,934.1 636.2,934.3 637.1,934.5 638.0,934.7 638.9,934.8 639.8,934.9 640.8,935.0 641.7,935.0 642.6,935.0 643.5,935.1 644.4,935.1 645.3,935.2 646.2,935.2 647.1,935.2 648.0,935.3 648.9,935.3 649.8,935.3 650.7,935.3 651.6,935.4 652.5,935.4 653.4,935.4 654.3,935.4 655.2,935.4 656.1,935.5 657.0,935.5 657.9,935.5 658.8,935.5 659.7,935.5 660.6,935.5 661.5,935.5 662.4,935.5 663.3,935.5 664.3,935.5 665.2,935.5 666.1,935.5 667.0,935.5 667.9,935.5 668.8,935.5 669.7,935.5 670.6,935.5 671.5,935.5 672.4,935.5 673.3,935.5 674.2,935.5 675.1,935.5 676.0,935.5 676.9,935.5 677.8,935.5 678.7,935.5 679.6,935.5 680.5,935.5 681.4,935.5 682.3,935.5 683.2,935.5 684.1,935.5 685.0,935.5 685.9,935.5 686.8,935.5 687.7,935.5 688.7,935.5 689.6,935.5 690.5,935.5 691.4,935.5 692.3,935.5 693.2,935.5 694.1,935.5 695.0,935.5" fill="none" stroke="#00ffff" stroke-width="2.9" stroke-linejoin="round" stroke-linecap="round"/>
<polyline points="152.7,938.4 153.6,938.4 154.5,938.4 155.4,938.4 156.3,938.4 157.2,938.4 158.1,938.4 159.0,938.4 159.9,938.4 160.8,938.4 161.7,938.4 162.6,938.4 163.5,938.4 164.4,938.4 165.4,938.4 166.3,938.4 167.2,938.4 168.1,938.4 169.0,938.4 169.9,938.4 170.8,938.4 171.7,938.4 172.6,938.4 173.5,938.4 174.4,938.4 175.3,938.4 176.2,938.4 177.1,938.4 178.0,938.4 178.9,938.4 179.8,938.4 180.7,938.4 181.6,938.4 182.5,938.4 183.4,938.4 184.3,938.4 185.2,938.4 186.1,938.4 187.0,938.4 187.9,938.4 188.9,938.4 189.8,938.4 190.7,938.4 191.6,938.4 192.5,938.4 193.4,938.4 194.3,938.4 195.2,938.4 196.1,938.4 197.0,938.4 197.9,938.4 198.8,938.4 199.7,938.4 200.6,938.4 201.5,938.4 202.4,938.4 203.3,938.4 204.2,938.4 205.1,938.4 206.0,938.4 206.9,938.4 207.8,938.4 208.7,938.4 209.6,938.4 210.5,938.4 211.4,938.4 212.4,938.4 213.3,938.4 214.2,938.4 215.1,938.2 216.0,937.8 216.9,937.2 217.8,936.5 218.7,935.4 219.6,933.7 220.5,931.5 221.4,928.8 222.3,925.5 223.2,921.1 224.1,915.3 225.0,908.0 225.9,894.8 226.8,877.6 227.7,858.7 228.6,843.5 229.5,835.9 230.4,830.4 231.3,826.5 232.2,823.6 233.1,821.1 234.0,819.2 234.9,818.0 235.8,817.2 236.8,816.8 237.7,818.2 238.6,821.4 239.5,825.3 240.4,829.8 241.3,835.5 242.2,841.6 243.1,847.4 244.0,852.9 244.9,858.7 245.8,864.2 246.7,869.2 247.6,873.3 248.5,876.6 249.4,879.5 250.3,882.1 251.2,884.4 252.1,886.5 253.0,888.4 253.9,890.3 254.8,892.0 255.7,893.6 256.6,895.1 257.5,896.4 258.4,897.6 259.3,898.7 260.3,899.7 261.2,900.6 262.1,901.4 263.0,902.2 263.9,903.1 264.8,903.9 265.7,904.8 266.6,905.7 267.5,906.6 268.4,907.5 269.3,908.3 270.2,909.2 271.1,910.1 272.0,911.1 272.9,912.0 273.8,912.9 274.7,913.9 275.6,914.8 276.5,915.8 277.4,916.8 278.3,917.8 279.2,918.8 280.1,919.9 281.0,920.9 281.9,922.0 282.8,923.0 283.8,923.9 284.7,924.8 285.6,925.6 286.5,926.4 287.4,927.3 288.3,928.1 289.2,928.8 290.1,929.5 291.0,930.1 291.9,930.5 292.8,930.7 293.7,930.9 294.6,931.1 295.5,931.2 296.4,931.3 297.3,931.4 298.2,931.5 299.1,931.6 300.0,931.7 300.9,931.7 301.8,931.7 302.7,931.7 303.6,931.7 304.5,931.7 305.4,931.7 306.3,931.7 307.2,931.7 308.2,931.7 309.1,931.7 310.0,931.7 310.9,931.7 311.8,931.7 312.7,931.7 313.6,931.7 314.5,931.7 315.4,931.7 316.3,931.7 317.2,931.7 318.1,931.7 319.0,931.7 319.9,931.7 320.8,931.7 321.7,931.7 322.6,931.7 323.5,931.7 324.4,931.7 325.3,931.7 326.2,931.7 327.1,931.7 328.0,931.7 328.9,931.7 329.8,931.7 330.7,931.7 331.7,931.7 332.6,931.7 333.5,931.7 334.4,931.7 335.3,931.7 336.2,931.7 337.1,931.7 338.0,931.7 338.9,931.7 339.8,931.7 340.7,931.7 341.6,931.7 342.5,931.7 343.4,931.7 344.3,931.7 345.2,931.7 346.1,931.7 347.0,931.7 347.9,931.7 348.8,931.7 349.7,931.7 350.6,931.7 351.5,931.7 352.4,931.7 353.3,931.7 354.2,931.7 355.2,931.7 356.1,931.7 357.0,931.7 357.9,931.7 358.8,931.7 359.7,931.7 360.6,931.7 361.5,931.7 362.4,931.7 363.3,931.7 364.2,931.7 365.1,931.7 366.0,931.7 366.9,931.7 367.8,931.7 368.7,931.7 369.6,931.7 370.5,931.7 371.4,931.7 372.3,931.7 373.2,931.7 374.1,931.7 375.0,931.7 375.9,931.7 376.8,931.7 377.7,931.6 378.6,931.2 379.6,930.7 380.5,930.0 381.4,929.2 382.3,928.3 383.2,927.4 384.1,926.4 385.0,925.6 385.9,924.8 386.8,924.1 387.7,923.4 388.6,922.7 389.5,922.0 390.4,921.3 391.3,920.5 392.2,919.6 393.1,918.7 394.0,917.3 394.9,915.6 395.8,914.1 396.7,913.5 397.6,914.1 398.5,915.4 399.4,916.7 400.3,917.3 401.2,917.3 402.1,917.3 403.1,917.2 404.0,917.1 404.9,917.0 405.8,916.9 406.7,916.7 407.6,916.6 408.5,916.4 409.4,916.3 410.3,916.1 411.2,916.0 412.1,915.8 413.0,915.7 413.9,915.5 414.8,915.4 415.7,915.3 416.6,915.2 417.5,915.1 418.4,915.0 419.3,914.9 420.2,914.8 421.1,914.7 422.0,914.7 422.9,914.6 423.8,914.5 424.7,914.4 425.6,914.3 426.6,914.2 427.5,914.1 428.4,914.0 429.3,913.9 430.2,913.8 431.1,913.7 432.0,913.6 432.9,913.5 433.8,913.4 434.7,913.3 435.6,913.2 436.5,913.1 437.4,912.9 438.3,912.8 439.2,912.7 440.1,912.6 441.0,912.5 441.9,912.4 442.8,912.3 443.7,912.1 444.6,912.0 445.5,911.9 446.4,911.7 447.3,911.6 448.2,911.5 449.1,911.3 450.1,911.2 451.0,911.0 451.9,910.8 452.8,910.7 453.7,910.5 454.6,910.3 455.5,910.1 456.4,909.9 457.3,909.7 458.2,909.4 459.1,909.2 460.0,908.9 460.9,908.6 461.8,908.3 462.7,907.9 463.6,907.6 464.5,907.2 465.4,906.7 466.3,906.3 467.2,905.8 468.1,905.4 469.0,904.9 469.9,904.3 470.8,903.8 471.7,903.2 472.6,902.6 473.5,902.0 474.5,901.3 475.4,900.5 476.3,899.6 477.2,898.6 478.1,897.6 479.0,896.5 479.9,895.3 480.8,894.1 481.7,892.7 482.6,891.2 483.5,889.6 484.4,888.0 485.3,886.4 486.2,884.8 487.1,883.1 488.0,881.5 488.9,879.8 489.8,878.0 490.7,876.2 491.6,874.2 492.5,872.2 493.4,870.1 494.3,867.9 495.2,865.6 496.1,863.3 497.0,860.8 498.0,858.3 498.9,855.8 499.8,853.2 500.7,850.3 501.6,847.2 502.5,844.0 503.4,840.7 504.3,837.5 505.2,834.6 506.1,832.1 507.0,829.8 507.9,827.6 508.8,825.4 509.7,823.3 510.6,821.3 511.5,819.3 512.4,817.4 513.3,815.6 514.2,813.9 515.1,812.2 516.0,810.7 516.9,809.2 517.8,807.9 518.7,806.7 519.6,805.6 520.5,804.5 521.5,803.5 522.4,802.6 523.3,801.9 524.2,801.4 525.1,801.2 526.0,801.0 526.9,800.8 527.8,800.7 528.7,800.6 529.6,800.5 530.5,800.5 531.4,800.7 532.3,801.2 533.2,801.9 534.1,802.6 535.0,803.1 535.9,803.3 536.8,803.4 537.7,803.4 538.6,803.4 539.5,803.4 540.4,803.4 541.3,803.4 542.2,802.9 543.1,801.7 544.0,800.0 544.9,797.8 545.9,795.5 546.8,793.2 547.7,791.2 548.6,789.2 549.5,787.1 550.4,785.0 551.3,782.8 552.2,780.6 553.1,778.3 554.0,776.1 554.9,773.8 555.8,771.5 556.7,769.1 557.6,766.7 558.5,764.3 559.4,761.7 560.3,759.0 561.2,756.2 562.1,753.3 563.0,750.3 563.9,747.3 564.8,744.2 565.7,741.1 566.6,738.0 567.5,735.0 568.4,732.1 569.4,731.7 570.3,732.8 571.2,734.6 572.1,736.7 573.0,738.8 573.9,741.4 574.8,744.3 575.7,747.7 576.6,751.4 577.5,755.5 578.4,759.9 579.3,764.6 580.2,770.2 581.1,776.8 582.0,784.2 582.9,792.1 583.8,800.2 584.7,808.1 585.6,816.2 586.5,824.7 587.4,833.5 588.3,842.1 589.2,850.3 590.1,857.7 591.0,864.7 591.9,871.5 592.9,878.2 593.8,884.4 594.7,890.1 595.6,895.0 596.5,899.1 597.4,902.6 598.3,905.8 599.2,908.7 600.1,911.4 601.0,913.8 601.9,915.9 602.8,917.8 603.7,919.4 604.6,920.8 605.5,922.1 606.4,923.4 607.3,924.6 608.2,925.7 609.1,926.6 610.0,927.5 610.9,928.2 611.8,928.8 612.7,929.1 613.6,929.4 614.5,929.7 615.4,929.9 616.3,930.1 617.3,930.3 618.2,930.4 619.1,930.6 620.0,930.7 620.9,930.9 621.8,931.0 622.7,931.1 623.6,931.3 624.5,931.5 625.4,931.7 626.3,931.9 627.2,932.1 628.1,932.3 629.0,932.6 629.9,932.8 630.8,933.1 631.7,933.3 632.6,933.5 633.5,933.8 634.4,934.0 635.3,934.2 636.2,934.4 637.1,934.5 638.0,934.7 638.9,934.8 639.8,934.9 640.8,935.0 641.7,935.0 642.6,935.0 643.5,935.1 644.4,935.1 645.3,935.1 646.2,935.2 647.1,935.2 648.0,935.2 648.9,935.3 649.8,935.3 650.7,935.3 651.6,935.4 652.5,935.4 653.4,935.4 654.3,935.4 655.2,935.4 656.1,935.5 657.0,935.5 657.9,935.5 658.8,935.5 659.7,935.5 660.6,935.5 661.5,935.5 662.4,935.5 663.3,935.5 664.3,935.5 665.2,935.5 666.1,935.5 667.0,935.5 667.9,935.5 668.8,935.5 669.7,935.5 670.6,935.5 671.5,935.5 672.4,935.5 673.3,935.5 674.2,935.5 675.1,935.5 676.0,935.5 676.9,935.5 677.8,935.5 678.7,935.5 679.6,935.5 680.5,935.5 681.4,935.5 682.3,935.5 683.2,935.5 684.1,935.5 685.0,935.5 685.9,935.5 686.8,935.5 687.7,935.5 688.7,935.5 689.6,935.5 690.5,935.5 691.4,935.5 692.3,935.5 693.2,935.5 694.1,935.5 695.0,935.5" fill="none" stroke="#ff00ff" stroke-width="2.9" stroke-linejoin="round" stroke-linecap="round"/>
<rect x="124.00" y="591.50" width="166.00" height="176.30" fill="none" stroke="#141414" stroke-width="2"/>
<line x1="131.70" y1="618.20" x2="183.70" y2="618.20" stroke="#000000" stroke-width="2.4"/>
<text x="191.20" y="623.60" font-size="14.50" font-weight="bold" text-anchor="start" fill="#1a1a1a" textLength="92.50" lengthAdjust="spacingAndGlyphs">MB&#160;(Isop)</text>
<line x1="131.70" y1="641.30" x2="183.70" y2="641.30" stroke="#ffff00" stroke-width="2.4"/>
<text x="188.80" y="646.70" font-size="14.50" font-weight="bold" text-anchor="start" fill="#1a1a1a" textLength="50.50" lengthAdjust="spacingAndGlyphs">0 min</text>
<line x1="131.70" y1="665.00" x2="183.70" y2="665.00" stroke="#ff0000" stroke-width="2.4"/>
<text x="188.80" y="670.40" font-size="14.50" font-weight="bold" text-anchor="start" fill="#1a1a1a" textLength="62.50" lengthAdjust="spacingAndGlyphs">30 min</text>
<line x1="131.70" y1="688.60" x2="183.70" y2="688.60" stroke="#0000ff" stroke-width="2.4"/>
<text x="188.80" y="694.00" font-size="14.50" font-weight="bold" text-anchor="start" fill="#1a1a1a" textLength="62.50" lengthAdjust="spacingAndGlyphs">60 min</text>
<line x1="131.70" y1="710.80" x2="183.70" y2="710.80" stroke="#008000" stroke-width="2.4"/>
<text x="188.80" y="716.20" font-size="14.50" font-weight="bold" text-anchor="start" fill="#1a1a1a" textLength="62.50" lengthAdjust="spacingAndGlyphs">90 min</text>
<line x1="131.70" y1="733.90" x2="183.70" y2="733.90" stroke="#00ffff" stroke-width="2.4"/>
<text x="188.80" y="739.30" font-size="14.50" font-weight="bold" text-anchor="start" fill="#1a1a1a" textLength="72.50" lengthAdjust="spacingAndGlyphs">120 min</text>
<line x1="131.70" y1="757.10" x2="183.70" y2="757.10" stroke="#ff00ff" stroke-width="2.4"/>
<text x="188.80" y="762.50" font-size="14.50" font-weight="bold" text-anchor="start" fill="#1a1a1a" textLength="72.50" lengthAdjust="spacingAndGlyphs">150 min</text>
<polyline points="893.4,917.0 894.2,917.0 895.0,917.0 895.8,917.0 896.6,917.0 897.4,917.0 898.2,917.0 899.0,917.0 899.8,917.0 900.5,917.0 901.3,917.0 902.1,917.0 902.9,917.0 903.7,917.0 904.5,917.0 905.3,917.0 906.1,917.0 906.8,917.0 907.6,917.0 908.4,917.0 909.2,917.0 910.0,917.0 910.8,917.0 911.6,917.0 912.4,917.0 913.2,917.0 913.9,917.0 914.7,917.0 915.5,917.0 916.3,917.0 917.1,917.0 917.9,917.0 918.7,917.0 919.5,917.0 920.2,917.0 921.0,917.0 921.8,917.0 922.6,917.0 923.4,917.0 924.2,917.0 925.0,917.0 925.8,917.0 926.6,917.0 927.3,917.0 928.1,917.0 928.9,917.0 929.7,917.0 930.5,917.0 931.3,917.0 932.1,917.0 932.9,917.0 933.7,917.0 934.4,917.0 935.2,917.0 936.0,917.0 936.8,917.0 937.6,917.0 938.4,917.0 939.2,917.0 940.0,917.0 940.7,917.0 941.5,917.0 942.3,917.0 943.1,917.0 943.9,917.0 944.7,917.0 945.5,917.0 946.3,917.0 947.1,917.0 947.8,917.0 948.6,917.0 949.4,917.0 950.2,917.0 951.0,917.0 951.8,917.0 952.6,917.0 953.4,917.0 954.1,917.0 954.9,917.0 955.7,916.8 956.5,916.3 957.3,915.6 958.1,914.7 958.9,913.4 959.7,911.4 960.5,908.7 961.2,905.4 962.0,900.4 962.8,892.9 963.6,883.1 964.4,871.0 965.2,850.8 966.0,825.0 966.8,796.5 967.5,773.5 968.3,762.0 969.1,753.6 969.9,747.8 970.7,743.3 971.5,739.6 972.3,736.8 973.1,734.9 973.9,733.6 974.6,733.0 975.4,735.1 976.2,740.1 977.0,745.9 977.8,752.8 978.6,761.6 979.4,771.0 980.2,779.9 980.9,788.5 981.7,797.3 982.5,805.8 983.3,813.7 984.1,820.2 984.9,825.8 985.7,830.8 986.5,835.3 987.3,839.4 988.0,843.0 988.8,846.2 989.6,849.3 990.4,852.2 991.2,854.8 992.0,857.2 992.8,859.3 993.6,861.2 994.3,862.9 995.1,864.3 995.9,865.6 996.7,866.8 997.5,868.0 998.3,869.2 999.1,870.4 999.9,871.7 1000.7,873.0 1001.4,874.2 1002.2,875.5 1003.0,876.7 1003.8,878.0 1004.6,879.4 1005.4,880.8 1006.2,882.3 1007.0,883.8 1007.8,885.3 1008.5,886.9 1009.3,888.4 1010.1,890.0 1010.9,891.6 1011.7,893.2 1012.5,894.9 1013.3,896.6 1014.1,898.3 1014.8,899.9 1015.6,901.4 1016.4,902.7 1017.2,904.1 1018.0,905.4 1018.8,906.8 1019.6,908.1 1020.4,909.3 1021.2,910.4 1021.9,911.3 1022.7,912.0 1023.5,912.3 1024.3,912.5 1025.1,912.7 1025.9,912.9 1026.7,913.1 1027.5,913.2 1028.2,913.3 1029.0,913.4 1029.8,913.5 1030.6,913.5 1031.4,913.5 1032.2,913.5 1033.0,913.5 1033.8,913.5 1034.6,913.5 1035.3,913.5 1036.1,913.5 1036.9,913.5 1037.7,913.5 1038.5,913.5 1039.3,913.5 1040.1,913.5 1040.9,913.5 1041.6,913.5 1042.4,913.5 1043.2,913.5 1044.0,913.5 1044.8,913.5 1045.6,913.5 1046.4,913.5 1047.2,913.5 1048.0,913.5 1048.7,913.5 1049.5,913.5 1050.3,913.5 1051.1,913.5 1051.9,913.5 1052.7,913.5 1053.5,913.5 1054.3,913.5 1055.0,913.5 1055.8,913.5 1056.6,913.5 1057.4,913.5 1058.2,913.5 1059.0,913.5 1059.8,913.5 1060.6,913.5 1061.4,913.5 1062.1,913.5 1062.9,913.5 1063.7,913.5 1064.5,913.5 1065.3,913.5 1066.1,913.5 1066.9,913.5 1067.7,913.5 1068.4,913.5 1069.2,913.5 1070.0,913.5 1070.8,913.5 1071.6,913.5 1072.4,913.5 1073.2,913.5 1074.0,913.5 1074.8,913.5 1075.5,913.5 1076.3,913.5 1077.1,913.5 1077.9,913.5 1078.7,913.5 1079.5,913.5 1080.3,913.5 1081.1,913.5 1081.9,913.5 1082.6,913.5 1083.4,913.5 1084.2,913.5 1085.0,913.5 1085.8,913.5 1086.6,913.5 1087.4,913.5 1088.2,913.5 1088.9,913.5 1089.7,913.5 1090.5,913.5 1091.3,913.5 1092.1,913.5 1092.9,913.5 1093.7,913.5 1094.5,913.5 1095.3,913.5 1096.0,913.5 1096.8,913.5 1097.6,913.3 1098.4,912.7 1099.2,911.8 1100.0,910.6 1100.8,909.3 1101.6,907.8 1102.3,906.3 1103.1,904.7 1103.9,903.3 1104.7,902.0 1105.5,900.8 1106.3,899.6 1107.1,898.4 1107.9,897.2 1108.7,895.9 1109.4,894.6 1110.2,893.2 1111.0,891.7 1111.8,889.7 1112.6,887.3 1113.4,885.3 1114.2,884.4 1115.0,885.1 1115.7,886.7 1116.5,888.3 1117.3,889.1 1118.1,889.0 1118.9,889.0 1119.7,888.9 1120.5,888.8 1121.3,888.7 1122.1,888.5 1122.8,888.3 1123.6,888.2 1124.4,888.0 1125.2,887.8 1126.0,887.6 1126.8,887.4 1127.6,887.2 1128.4,887.0 1129.1,886.9 1129.9,886.7 1130.7,886.6 1131.5,886.5 1132.3,886.4 1133.1,886.2 1133.9,886.1 1134.7,886.0 1135.5,885.9 1136.2,885.8 1137.0,885.7 1137.8,885.6 1138.6,885.5 1139.4,885.4 1140.2,885.3 1141.0,885.1 1141.8,885.0 1142.5,884.9 1143.3,884.8 1144.1,884.7 1144.9,884.5 1145.7,884.4 1146.5,884.3 1147.3,884.1 1148.1,884.0 1148.9,883.9 1149.6,883.7 1150.4,883.6 1151.2,883.5 1152.0,883.4 1152.8,883.2 1153.6,883.1 1154.4,883.0 1155.2,882.8 1156.0,882.7 1156.7,882.5 1157.5,882.4 1158.3,882.2 1159.1,882.0 1159.9,881.9 1160.7,881.7 1161.5,881.5 1162.3,881.3 1163.0,881.0 1163.8,880.8 1164.6,880.6 1165.4,880.3 1166.2,880.0 1167.0,879.7 1167.8,879.4 1168.6,879.0 1169.4,878.5 1170.1,877.9 1170.9,877.3 1171.7,876.7 1172.5,875.9 1173.3,875.2 1174.1,874.4 1174.9,873.6 1175.7,872.8 1176.4,871.9 1177.2,870.9 1178.0,869.8 1178.8,868.6 1179.6,867.3 1180.4,866.0 1181.2,864.6 1182.0,863.1 1182.8,861.4 1183.5,859.6 1184.3,857.7 1185.1,855.8 1185.9,853.8 1186.7,851.8 1187.5,849.8 1188.3,847.8 1189.1,845.7 1189.8,843.6 1190.6,841.3 1191.4,839.0 1192.2,836.5 1193.0,833.9 1193.8,831.3 1194.6,828.5 1195.4,825.6 1196.2,822.7 1196.9,819.7 1197.7,816.6 1198.5,813.4 1199.3,810.2 1200.1,806.9 1200.9,803.5 1201.7,800.0 1202.5,796.2 1203.2,792.1 1204.0,787.8 1204.8,782.7 1205.6,776.9 1206.4,770.7 1207.2,764.5 1208.0,758.8 1208.8,753.4 1209.6,747.9 1210.3,741.9 1211.1,735.0 1211.9,725.2 1212.7,715.2 1213.5,708.8 1214.3,703.9 1215.1,699.5 1215.9,695.5 1216.7,691.9 1217.4,688.7 1218.2,685.7 1219.0,683.1 1219.8,680.7 1220.6,678.5 1221.4,676.4 1222.2,674.4 1223.0,672.4 1223.7,670.7 1224.5,669.5 1225.3,669.0 1226.1,669.4 1226.9,670.4 1227.7,671.9 1228.5,673.8 1229.3,675.9 1230.1,678.0 1230.8,680.1 1231.6,682.6 1232.4,685.8 1233.2,689.2 1234.0,692.3 1234.8,694.6 1235.6,695.5 1236.4,695.6 1237.1,695.7 1237.9,695.7 1238.7,695.8 1239.5,695.8 1240.3,695.8 1241.1,695.0 1241.9,692.8 1242.7,689.6 1243.5,685.7 1244.2,681.5 1245.0,677.3 1245.8,673.4 1246.6,669.8 1247.4,666.0 1248.2,662.1 1249.0,658.1 1249.8,654.1 1250.5,649.9 1251.3,645.8 1252.1,641.6 1252.9,637.4 1253.7,633.1 1254.5,628.7 1255.3,624.2 1256.1,619.5 1256.9,614.5 1257.6,609.4 1258.4,604.0 1259.2,598.6 1260.0,593.2 1260.8,587.5 1261.6,581.7 1262.4,576.0 1263.2,570.6 1263.9,565.2 1264.7,564.5 1265.5,566.3 1266.3,569.4 1267.1,573.0 1267.9,576.7 1268.7,581.0 1269.5,586.0 1270.3,591.8 1271.0,598.1 1271.8,605.1 1272.6,612.6 1273.4,620.7 1274.2,630.1 1275.0,641.4 1275.8,654.0 1276.6,667.5 1277.3,681.3 1278.1,694.7 1278.9,708.5 1279.7,723.2 1280.5,738.1 1281.3,752.8 1282.1,766.8 1282.9,779.4 1283.7,791.2 1284.4,802.9 1285.2,814.1 1286.0,824.7 1286.8,834.3 1287.6,842.9 1288.4,850.0 1289.2,856.1 1290.0,861.8 1290.8,867.1 1291.5,872.0 1292.3,876.3 1293.1,880.2 1293.9,883.6 1294.7,886.4 1295.5,888.9 1296.3,891.3 1297.1,893.5 1297.8,895.6 1298.6,897.5 1299.4,899.2 1300.2,900.7 1301.0,901.9 1301.8,903.0 1302.6,903.8 1303.4,904.5 1304.2,905.1 1304.9,905.6 1305.7,906.1 1306.5,906.6 1307.3,907.0 1308.1,907.3 1308.9,907.7 1309.7,908.0 1310.5,908.4 1311.2,908.7 1312.0,909.0 1312.8,909.4 1313.6,909.8 1314.4,910.1 1315.2,910.6 1316.0,911.0 1316.8,911.4 1317.6,911.8 1318.3,912.2 1319.1,912.6 1319.9,913.0 1320.7,913.3 1321.5,913.7 1322.3,914.0 1323.1,914.3 1323.9,914.5 1324.6,914.8 1325.4,914.9 1326.2,915.1 1327.0,915.1 1327.8,915.2 1328.6,915.2 1329.4,915.3 1330.2,915.3 1331.0,915.4 1331.7,915.4 1332.5,915.5 1333.3,915.5 1334.1,915.5 1334.9,915.6 1335.7,915.6 1336.5,915.6 1337.3,915.7 1338.0,915.7 1338.8,915.7 1339.6,915.7 1340.4,915.8 1341.2,915.8 1342.0,915.8 1342.8,915.8 1343.6,915.8 1344.4,915.8 1345.1,915.8 1345.9,915.8 1346.7,915.8 1347.5,915.8 1348.3,915.8 1349.1,915.8 1349.9,915.8 1350.7,915.8 1351.4,915.8 1352.2,915.8 1353.0,915.8 1353.8,915.8 1354.6,915.8 1355.4,915.8 1356.2,915.8 1357.0,915.8 1357.8,915.8 1358.5,915.8 1359.3,915.8 1360.1,915.8 1360.9,915.8 1361.7,915.8 1362.5,915.8 1363.3,915.8 1364.1,915.8 1364.9,915.8 1365.6,915.8 1366.4,915.8 1367.2,915.8 1368.0,915.8 1368.8,915.8 1369.6,915.8 1370.4,915.8 1371.2,915.8 1371.9,915.8 1372.7,915.8 1373.5,915.8 1374.3,915.8" fill="none" stroke="#000000" stroke-width="3.0" stroke-linejoin="round" stroke-linecap="round"/>
<polyline points="893.4,917.0 894.2,917.0 895.0,917.0 895.8,917.0 896.6,917.0 897.4,917.0 898.2,917.0 899.0,917.0 899.8,917.0 900.5,917.0 901.3,917.0 902.1,917.0 902.9,917.0 903.7,917.0 904.5,917.0 905.3,917.0 906.1,917.0 906.8,917.0 907.6,917.0 908.4,917.0 909.2,917.0 910.0,917.0 910.8,917.0 911.6,917.0 912.4,917.0 913.2,917.0 913.9,917.0 914.7,917.0 915.5,917.0 916.3,917.0 917.1,917.0 917.9,917.0 918.7,917.0 919.5,917.0 920.2,917.0 921.0,917.0 921.8,917.0 922.6,917.0 923.4,917.0 924.2,917.0 925.0,917.0 925.8,917.0 926.6,917.0 927.3,917.0 928.1,917.0 928.9,917.0 929.7,917.0 930.5,917.0 931.3,917.0 932.1,917.0 932.9,917.0 933.7,917.0 934.4,917.0 935.2,917.0 936.0,917.0 936.8,917.0 937.6,917.0 938.4,917.0 939.2,917.0 940.0,917.0 940.7,917.0 941.5,917.0 942.3,917.0 943.1,917.0 943.9,917.0 944.7,917.0 945.5,917.0 946.3,917.0 947.1,917.0 947.8,917.0 948.6,917.0 949.4,917.0 950.2,917.0 951.0,917.0 951.8,917.0 952.6,917.0 953.4,917.0 954.1,917.0 954.9,917.0 955.7,916.8 956.5,916.3 957.3,915.6 958.1,914.7 958.9,913.4 959.7,911.4 960.5,908.7 961.2,905.4 962.0,900.5 962.8,893.2 963.6,883.7 964.4,871.9 965.2,852.1 966.0,826.8 966.8,798.8 967.5,776.2 968.3,764.9 969.1,756.7 969.9,751.0 970.7,746.6 971.5,743.0 972.3,740.2 973.1,738.3 973.9,737.1 974.6,736.5 975.4,738.6 976.2,743.4 977.0,749.2 977.8,756.0 978.6,764.6 979.4,773.8 980.2,782.6 980.9,791.1 981.7,799.8 982.5,808.2 983.3,815.9 984.1,822.5 984.9,828.1 985.7,833.2 986.5,837.8 987.3,841.9 988.0,845.5 988.8,848.8 989.6,851.8 990.4,854.7 991.2,857.3 992.0,859.6 992.8,861.8 993.6,863.6 994.3,865.2 995.1,866.7 995.9,868.0 996.7,869.2 997.5,870.4 998.3,871.6 999.1,872.8 999.9,874.0 1000.7,875.2 1001.4,876.3 1002.2,877.5 1003.0,878.6 1003.8,879.8 1004.6,881.0 1005.4,882.3 1006.2,883.6 1007.0,884.9 1007.8,886.3 1008.5,887.6 1009.3,889.0 1010.1,890.3 1010.9,891.7 1011.7,893.2 1012.5,894.7 1013.3,896.2 1014.1,897.7 1014.8,899.1 1015.6,900.4 1016.4,901.6 1017.2,902.7 1018.0,903.9 1018.8,905.1 1019.6,906.3 1020.4,907.4 1021.2,908.3 1021.9,909.1 1022.7,909.7 1023.5,910.0 1024.3,910.2 1025.1,910.4 1025.9,910.6 1026.7,910.7 1027.5,910.9 1028.2,911.0 1029.0,911.1 1029.8,911.1 1030.6,911.2 1031.4,911.2 1032.2,911.2 1033.0,911.2 1033.8,911.2 1034.6,911.2 1035.3,911.2 1036.1,911.2 1036.9,911.2 1037.7,911.2 1038.5,911.2 1039.3,911.2 1040.1,911.2 1040.9,911.2 1041.6,911.2 1042.4,911.2 1043.2,911.2 1044.0,911.2 1044.8,911.2 1045.6,911.2 1046.4,911.2 1047.2,911.2 1048.0,911.2 1048.7,911.2 1049.5,911.2 1050.3,911.2 1051.1,911.2 1051.9,911.2 1052.7,911.2 1053.5,911.2 1054.3,911.2 1055.0,911.2 1055.8,911.2 1056.6,911.2 1057.4,911.2 1058.2,911.2 1059.0,911.2 1059.8,911.2 1060.6,911.2 1061.4,911.2 1062.1,911.2 1062.9,911.2 1063.7,911.2 1064.5,911.2 1065.3,911.2 1066.1,911.2 1066.9,911.2 1067.7,911.2 1068.4,911.2 1069.2,911.2 1070.0,911.2 1070.8,911.2 1071.6,911.2 1072.4,911.2 1073.2,911.2 1074.0,911.2 1074.8,911.2 1075.5,911.2 1076.3,911.2 1077.1,911.2 1077.9,911.2 1078.7,911.2 1079.5,911.2 1080.3,911.2 1081.1,911.2 1081.9,911.2 1082.6,911.2 1083.4,911.2 1084.2,911.2 1085.0,911.2 1085.8,911.2 1086.6,911.2 1087.4,911.2 1088.2,911.2 1088.9,911.2 1089.7,911.2 1090.5,911.2 1091.3,911.2 1092.1,911.2 1092.9,911.2 1093.7,911.2 1094.5,911.2 1095.3,911.2 1096.0,911.2 1096.8,911.2 1097.6,911.0 1098.4,910.4 1099.2,909.5 1100.0,908.4 1100.8,907.1 1101.6,905.7 1102.3,904.3 1103.1,902.8 1103.9,901.4 1104.7,900.2 1105.5,899.0 1106.3,897.9 1107.1,896.8 1107.9,895.6 1108.7,894.4 1109.4,893.2 1110.2,891.8 1111.0,890.4 1111.8,888.4 1112.6,886.1 1113.4,884.1 1114.2,883.2 1115.0,884.0 1115.7,885.6 1116.5,887.2 1117.3,887.9 1118.1,887.9 1118.9,887.8 1119.7,887.7 1120.5,887.6 1121.3,887.5 1122.1,887.3 1122.8,887.2 1123.6,887.0 1124.4,886.8 1125.2,886.6 1126.0,886.4 1126.8,886.2 1127.6,886.0 1128.4,885.9 1129.1,885.7 1129.9,885.6 1130.7,885.4 1131.5,885.3 1132.3,885.2 1133.1,885.1 1133.9,885.0 1134.7,884.9 1135.5,884.7 1136.2,884.6 1137.0,884.5 1137.8,884.4 1138.6,884.3 1139.4,884.2 1140.2,884.1 1141.0,884.0 1141.8,883.9 1142.5,883.7 1143.3,883.6 1144.1,883.5 1144.9,883.4 1145.7,883.2 1146.5,883.1 1147.3,883.0 1148.1,882.8 1148.9,882.7 1149.6,882.6 1150.4,882.4 1151.2,882.3 1152.0,882.2 1152.8,882.0 1153.6,881.9 1154.4,881.8 1155.2,881.6 1156.0,881.5 1156.7,881.3 1157.5,881.1 1158.3,881.0 1159.1,880.8 1159.9,880.6 1160.7,880.4 1161.5,880.2 1162.3,880.0 1163.0,879.8 1163.8,879.6 1164.6,879.4 1165.4,879.1 1166.2,878.9 1167.0,878.6 1167.8,878.3 1168.6,877.9 1169.4,877.5 1170.1,877.1 1170.9,876.6 1171.7,876.0 1172.5,875.5 1173.3,874.8 1174.1,874.2 1174.9,873.5 1175.7,872.8 1176.4,871.9 1177.2,871.0 1178.0,869.9 1178.8,868.7 1179.6,867.4 1180.4,866.0 1181.2,864.6 1182.0,863.1 1182.8,861.4 1183.5,859.6 1184.3,857.7 1185.1,855.8 1185.9,853.8 1186.7,851.8 1187.5,849.8 1188.3,847.8 1189.1,845.7 1189.8,843.6 1190.6,841.3 1191.4,839.0 1192.2,836.5 1193.0,833.9 1193.8,831.3 1194.6,828.5 1195.4,825.6 1196.2,822.7 1196.9,819.7 1197.7,816.6 1198.5,813.4 1199.3,810.2 1200.1,806.9 1200.9,803.5 1201.7,800.0 1202.5,796.2 1203.2,792.1 1204.0,787.8 1204.8,782.7 1205.6,776.9 1206.4,770.7 1207.2,764.5 1208.0,758.8 1208.8,753.4 1209.6,747.9 1210.3,741.9 1211.1,735.0 1211.9,725.0 1212.7,715.0 1213.5,709.1 1214.3,704.8 1215.1,701.1 1215.9,697.8 1216.7,694.8 1217.4,692.2 1218.2,689.9 1219.0,687.8 1219.8,685.8 1220.6,683.9 1221.4,682.1 1222.2,680.2 1223.0,678.2 1223.7,676.5 1224.5,675.3 1225.3,674.8 1226.1,675.1 1226.9,676.0 1227.7,677.2 1228.5,678.8 1229.3,680.6 1230.1,682.4 1230.8,684.1 1231.6,686.3 1232.4,689.2 1233.2,692.2 1234.0,695.0 1234.8,697.0 1235.6,697.9 1236.4,697.9 1237.1,698.0 1237.9,698.1 1238.7,698.1 1239.5,698.1 1240.3,698.1 1241.1,697.3 1241.9,695.2 1242.7,692.1 1243.5,688.3 1244.2,684.2 1245.0,680.1 1245.8,676.3 1246.6,672.8 1247.4,669.2 1248.2,665.4 1249.0,661.5 1249.8,657.5 1250.5,653.5 1251.3,649.4 1252.1,645.4 1252.9,641.3 1253.7,637.1 1254.5,632.8 1255.3,628.4 1256.1,623.8 1256.9,619.0 1257.6,614.0 1258.4,608.8 1259.2,603.5 1260.0,598.2 1260.8,592.7 1261.6,587.0 1262.4,581.5 1263.2,576.2 1263.9,571.0 1264.7,570.3 1265.5,572.1 1266.3,575.1 1267.1,578.7 1267.9,582.3 1268.7,586.5 1269.5,591.5 1270.3,597.1 1271.0,603.4 1271.8,610.2 1272.6,617.6 1273.4,625.6 1274.2,634.8 1275.0,645.9 1275.8,658.4 1276.6,671.6 1277.3,685.2 1278.1,698.4 1278.9,712.0 1279.7,726.4 1280.5,741.1 1281.3,755.5 1282.1,769.2 1282.9,781.7 1283.7,793.3 1284.4,804.8 1285.2,815.9 1286.0,826.3 1286.8,835.8 1287.6,844.1 1288.4,851.1 1289.2,857.0 1290.0,862.6 1290.8,867.7 1291.5,872.4 1292.3,876.6 1293.1,880.3 1293.9,883.6 1294.7,886.3 1295.5,888.8 1296.3,891.1 1297.1,893.2 1297.8,895.2 1298.6,897.1 1299.4,898.7 1300.2,900.2 1301.0,901.4 1301.8,902.4 1302.6,903.2 1303.4,903.8 1304.2,904.4 1304.9,904.9 1305.7,905.3 1306.5,905.7 1307.3,906.1 1308.1,906.4 1308.9,906.7 1309.7,907.0 1310.5,907.3 1311.2,907.6 1312.0,908.0 1312.8,908.3 1313.6,908.7 1314.4,909.0 1315.2,909.4 1316.0,909.8 1316.8,910.2 1317.6,910.6 1318.3,911.0 1319.1,911.4 1319.9,911.8 1320.7,912.2 1321.5,912.5 1322.3,912.8 1323.1,913.1 1323.9,913.4 1324.6,913.6 1325.4,913.8 1326.2,913.9 1327.0,914.0 1327.8,914.0 1328.6,914.1 1329.4,914.1 1330.2,914.2 1331.0,914.2 1331.7,914.3 1332.5,914.3 1333.3,914.3 1334.1,914.4 1334.9,914.4 1335.7,914.4 1336.5,914.5 1337.3,914.5 1338.0,914.5 1338.8,914.6 1339.6,914.6 1340.4,914.6 1341.2,914.6 1342.0,914.6 1342.8,914.6 1343.6,914.7 1344.4,914.7 1345.1,914.7 1345.9,914.7 1346.7,914.7 1347.5,914.7 1348.3,914.7 1349.1,914.7 1349.9,914.7 1350.7,914.7 1351.4,914.7 1352.2,914.7 1353.0,914.7 1353.8,914.7 1354.6,914.7 1355.4,914.7 1356.2,914.7 1357.0,914.7 1357.8,914.7 1358.5,914.7 1359.3,914.7 1360.1,914.7 1360.9,914.7 1361.7,914.7 1362.5,914.7 1363.3,914.7 1364.1,914.7 1364.9,914.7 1365.6,914.7 1366.4,914.7 1367.2,914.7 1368.0,914.7 1368.8,914.7 1369.6,914.7 1370.4,914.7 1371.2,914.7 1371.9,914.7 1372.7,914.7 1373.5,914.7 1374.3,914.7" fill="none" stroke="#ffff00" stroke-width="3.0" stroke-linejoin="round" stroke-linecap="round"/>
<polyline points="893.4,917.0 894.2,917.0 895.0,917.0 895.8,917.0 896.6,917.0 897.4,917.0 898.2,917.0 899.0,917.0 899.8,917.0 900.5,917.0 901.3,917.0 902.1,917.0 902.9,917.0 903.7,917.0 904.5,917.0 905.3,917.0 906.1,917.0 906.8,917.0 907.6,917.0 908.4,917.0 909.2,917.0 910.0,917.0 910.8,917.0 911.6,917.0 912.4,917.0 913.2,917.0 913.9,917.0 914.7,917.0 915.5,917.0 916.3,917.0 917.1,917.0 917.9,917.0 918.7,917.0 919.5,917.0 920.2,917.0 921.0,917.0 921.8,917.0 922.6,917.0 923.4,917.0 924.2,917.0 925.0,917.0 925.8,917.0 926.6,917.0 927.3,917.0 928.1,917.0 928.9,917.0 929.7,917.0 930.5,917.0 931.3,917.0 932.1,917.0 932.9,917.0 933.7,917.0 934.4,917.0 935.2,917.0 936.0,917.0 936.8,917.0 937.6,917.0 938.4,917.0 939.2,917.0 940.0,917.0 940.7,917.0 941.5,917.0 942.3,917.0 943.1,917.0 943.9,917.0 944.7,917.0 945.5,917.0 946.3,917.0 947.1,917.0 947.8,917.0 948.6,917.0 949.4,917.0 950.2,917.0 951.0,917.0 951.8,917.0 952.6,917.0 953.4,917.0 954.1,917.0 954.9,917.0 955.7,916.8 956.5,916.3 957.3,915.6 958.1,914.7 958.9,913.4 959.7,911.4 960.5,908.7 961.2,905.4 962.0,900.3 962.8,892.5 963.6,882.3 964.4,869.8 965.2,849.1 966.0,822.7 966.8,793.5 967.5,769.9 968.3,758.1 969.1,749.5 969.9,743.5 970.7,738.9 971.5,735.1 972.3,732.2 973.1,730.3 973.9,729.0 974.6,728.4 975.4,730.5 976.2,735.6 977.0,741.6 977.8,748.6 978.6,757.5 979.4,767.0 980.2,776.1 980.9,784.8 981.7,793.7 982.5,802.4 983.3,810.3 984.1,816.8 984.9,822.1 985.7,826.8 986.5,831.0 987.3,834.8 988.0,838.3 988.8,841.5 989.6,844.6 990.4,847.4 991.2,850.1 992.0,852.5 992.8,854.7 993.6,856.6 994.3,858.2 995.1,859.6 995.9,860.9 996.7,862.2 997.5,863.3 998.3,864.5 999.1,865.8 999.9,867.1 1000.7,868.4 1001.4,869.7 1002.2,871.0 1003.0,872.3 1003.8,873.6 1004.6,874.9 1005.4,876.2 1006.2,877.5 1007.0,878.9 1007.8,880.2 1008.5,881.6 1009.3,882.9 1010.1,884.3 1010.9,885.7 1011.7,887.2 1012.5,888.7 1013.3,890.2 1014.1,891.7 1014.8,893.1 1015.6,894.5 1016.4,895.7 1017.2,896.9 1018.0,898.2 1018.8,899.4 1019.6,900.6 1020.4,901.8 1021.2,902.8 1021.9,903.6 1022.7,904.2 1023.5,904.5 1024.3,904.7 1025.1,904.9 1025.9,905.1 1026.7,905.3 1027.5,905.4 1028.2,905.5 1029.0,905.6 1029.8,905.7 1030.6,905.7 1031.4,905.7 1032.2,905.7 1033.0,905.7 1033.8,905.7 1034.6,905.7 1035.3,905.7 1036.1,905.7 1036.9,905.7 1037.7,905.7 1038.5,905.7 1039.3,905.7 1040.1,905.7 1040.9,905.7 1041.6,905.7 1042.4,905.7 1043.2,905.7 1044.0,905.7 1044.8,905.7 1045.6,905.7 1046.4,905.7 1047.2,905.7 1048.0,905.7 1048.7,905.7 1049.5,905.7 1050.3,905.7 1051.1,905.7 1051.9,905.7 1052.7,905.7 1053.5,905.7 1054.3,905.7 1055.0,905.7 1055.8,905.7 1056.6,905.7 1057.4,905.7 1058.2,905.7 1059.0,905.7 1059.8,905.7 1060.6,905.7 1061.4,905.7 1062.1,905.7 1062.9,905.7 1063.7,905.7 1064.5,905.7 1065.3,905.7 1066.1,905.7 1066.9,905.7 1067.7,905.7 1068.4,905.7 1069.2,905.7 1070.0,905.7 1070.8,905.7 1071.6,905.7 1072.4,905.7 1073.2,905.7 1074.0,905.7 1074.8,905.7 1075.5,905.7 1076.3,905.7 1077.1,905.7 1077.9,905.7 1078.7,905.7 1079.5,905.7 1080.3,905.7 1081.1,905.7 1081.9,905.7 1082.6,905.7 1083.4,905.7 1084.2,905.7 1085.0,905.7 1085.8,905.7 1086.6,905.7 1087.4,905.7 1088.2,905.7 1088.9,905.7 1089.7,905.7 1090.5,905.7 1091.3,905.7 1092.1,905.7 1092.9,905.7 1093.7,905.7 1094.5,905.7 1095.3,905.7 1096.0,905.7 1096.8,905.7 1097.6,905.5 1098.4,905.0 1099.2,904.3 1100.0,903.3 1100.8,902.2 1101.6,900.9 1102.3,899.7 1103.1,898.4 1103.9,897.2 1104.7,896.1 1105.5,895.1 1106.3,894.1 1107.1,893.2 1107.9,892.2 1108.7,891.1 1109.4,890.0 1110.2,888.9 1111.0,887.6 1111.8,885.8 1112.6,883.6 1113.4,881.7 1114.2,880.9 1115.0,881.6 1115.7,883.2 1116.5,884.8 1117.3,885.6 1118.1,885.5 1118.9,885.5 1119.7,885.4 1120.5,885.3 1121.3,885.2 1122.1,885.0 1122.8,884.8 1123.6,884.7 1124.4,884.5 1125.2,884.3 1126.0,884.1 1126.8,883.9 1127.6,883.7 1128.4,883.5 1129.1,883.4 1129.9,883.2 1130.7,883.1 1131.5,883.0 1132.3,882.9 1133.1,882.7 1133.9,882.6 1134.7,882.5 1135.5,882.4 1136.2,882.3 1137.0,882.2 1137.8,882.1 1138.6,882.0 1139.4,881.9 1140.2,881.8 1141.0,881.7 1141.8,881.5 1142.5,881.4 1143.3,881.3 1144.1,881.2 1144.9,881.0 1145.7,880.9 1146.5,880.8 1147.3,880.6 1148.1,880.5 1148.9,880.3 1149.6,880.2 1150.4,880.1 1151.2,879.9 1152.0,879.8 1152.8,879.6 1153.6,879.5 1154.4,879.3 1155.2,879.1 1156.0,879.0 1156.7,878.8 1157.5,878.6 1158.3,878.5 1159.1,878.3 1159.9,878.1 1160.7,877.9 1161.5,877.7 1162.3,877.5 1163.0,877.3 1163.8,877.1 1164.6,876.9 1165.4,876.7 1166.2,876.5 1167.0,876.2 1167.8,876.0 1168.6,875.8 1169.4,875.6 1170.1,875.3 1170.9,875.0 1171.7,874.8 1172.5,874.4 1173.3,874.1 1174.1,873.7 1174.9,873.2 1175.7,872.8 1176.4,872.1 1177.2,871.2 1178.0,870.1 1178.8,868.8 1179.6,867.5 1180.4,866.0 1181.2,864.6 1182.0,863.1 1182.8,861.4 1183.5,859.6 1184.3,857.7 1185.1,855.8 1185.9,853.8 1186.7,851.8 1187.5,849.8 1188.3,847.8 1189.1,845.7 1189.8,843.6 1190.6,841.3 1191.4,839.0 1192.2,836.5 1193.0,833.9 1193.8,831.3 1194.6,828.5 1195.4,825.6 1196.2,822.7 1196.9,819.7 1197.7,816.6 1198.5,813.4 1199.3,810.2 1200.1,806.9 1200.9,803.5 1201.7,800.0 1202.5,796.2 1203.2,792.1 1204.0,787.8 1204.8,782.7 1205.6,776.9 1206.4,770.7 1207.2,764.5 1208.0,758.8 1208.8,753.4 1209.6,747.9 1210.3,741.9 1211.1,735.0 1211.9,725.0 1212.7,715.0 1213.5,709.1 1214.3,704.8 1215.1,701.1 1215.9,697.8 1216.7,694.8 1217.4,692.2 1218.2,689.9 1219.0,687.8 1219.8,685.8 1220.6,683.9 1221.4,682.1 1222.2,680.2 1223.0,678.2 1223.7,676.5 1224.5,675.3 1225.3,674.8 1226.1,675.1 1226.9,676.0 1227.7,677.2 1228.5,678.8 1229.3,680.6 1230.1,682.4 1230.8,684.1 1231.6,686.3 1232.4,689.2 1233.2,692.2 1234.0,695.0 1234.8,697.0 1235.6,697.9 1236.4,697.9 1237.1,698.0 1237.9,698.1 1238.7,698.1 1239.5,698.1 1240.3,698.1 1241.1,697.4 1241.9,695.4 1242.7,692.4 1243.5,688.8 1244.2,684.9 1245.0,681.1 1245.8,677.5 1246.6,674.2 1247.4,670.7 1248.2,667.1 1249.0,663.5 1249.8,659.7 1250.5,655.9 1251.3,652.1 1252.1,648.3 1252.9,644.4 1253.7,640.4 1254.5,636.4 1255.3,632.2 1256.1,627.9 1256.9,623.3 1257.6,618.6 1258.4,613.7 1259.2,608.7 1260.0,603.7 1260.8,598.4 1261.6,593.1 1262.4,587.9 1263.2,582.9 1263.9,577.9 1264.7,577.3 1265.5,579.0 1266.3,582.0 1267.1,585.5 1267.9,589.0 1268.7,593.2 1269.5,598.0 1270.3,603.6 1271.0,609.7 1271.8,616.4 1272.6,623.7 1273.4,631.4 1274.2,640.5 1275.0,651.4 1275.8,663.6 1276.6,676.6 1277.3,689.8 1278.1,702.8 1278.9,716.1 1279.7,730.2 1280.5,744.6 1281.3,758.8 1282.1,772.2 1282.9,784.4 1283.7,795.8 1284.4,807.1 1285.2,818.0 1286.0,828.3 1286.8,837.6 1287.6,845.8 1288.4,852.4 1289.2,858.0 1290.0,863.2 1290.8,868.0 1291.5,872.3 1292.3,876.2 1293.1,879.6 1293.9,882.6 1294.7,885.2 1295.5,887.5 1296.3,889.6 1297.1,891.7 1297.8,893.6 1298.6,895.4 1299.4,896.9 1300.2,898.3 1301.0,899.5 1301.8,900.4 1302.6,901.0 1303.4,901.5 1304.2,901.9 1304.9,902.3 1305.7,902.6 1306.5,902.9 1307.3,903.2 1308.1,903.4 1308.9,903.7 1309.7,903.9 1310.5,904.1 1311.2,904.4 1312.0,904.6 1312.8,904.9 1313.6,905.2 1314.4,905.6 1315.2,905.9 1316.0,906.3 1316.8,906.7 1317.6,907.1 1318.3,907.5 1319.1,907.9 1319.9,908.3 1320.7,908.6 1321.5,909.0 1322.3,909.3 1323.1,909.6 1323.9,909.9 1324.6,910.1 1325.4,910.3 1326.2,910.4 1327.0,910.5 1327.8,910.5 1328.6,910.6 1329.4,910.6 1330.2,910.7 1331.0,910.7 1331.7,910.8 1332.5,910.8 1333.3,910.8 1334.1,910.9 1334.9,910.9 1335.7,911.0 1336.5,911.0 1337.3,911.0 1338.0,911.0 1338.8,911.1 1339.6,911.1 1340.4,911.1 1341.2,911.1 1342.0,911.1 1342.8,911.1 1343.6,911.2 1344.4,911.2 1345.1,911.2 1345.9,911.2 1346.7,911.2 1347.5,911.2 1348.3,911.2 1349.1,911.2 1349.9,911.2 1350.7,911.2 1351.4,911.2 1352.2,911.2 1353.0,911.2 1353.8,911.2 1354.6,911.2 1355.4,911.2 1356.2,911.2 1357.0,911.2 1357.8,911.2 1358.5,911.2 1359.3,911.2 1360.1,911.2 1360.9,911.2 1361.7,911.2 1362.5,911.2 1363.3,911.2 1364.1,911.2 1364.9,911.2 1365.6,911.2 1366.4,911.2 1367.2,911.2 1368.0,911.2 1368.8,911.2 1369.6,911.2 1370.4,911.2 1371.2,911.2 1371.9,911.2 1372.7,911.2 1373.5,911.2 1374.3,911.2" fill="none" stroke="#ff0000" stroke-width="3.0" stroke-linejoin="round" stroke-linecap="round"/>
<polyline points="893.4,917.0 894.2,917.0 895.0,917.0 895.8,917.0 896.6,917.0 897.4,917.0 898.2,917.0 899.0,917.0 899.8,917.0 900.5,917.0 901.3,917.0 902.1,917.0 902.9,917.0 903.7,917.0 904.5,917.0 905.3,917.0 906.1,917.0 906.8,917.0 907.6,917.0 908.4,917.0 909.2,917.0 910.0,917.0 910.8,917.0 911.6,917.0 912.4,917.0 913.2,917.0 913.9,917.0 914.7,917.0 915.5,917.0 916.3,917.0 917.1,917.0 917.9,917.0 918.7,917.0 919.5,917.0 920.2,917.0 921.0,917.0 921.8,917.0 922.6,917.0 923.4,917.0 924.2,917.0 925.0,917.0 925.8,917.0 926.6,917.0 927.3,917.0 928.1,917.0 928.9,917.0 929.7,917.0 930.5,917.0 931.3,917.0 932.1,917.0 932.9,917.0 933.7,917.0 934.4,917.0 935.2,917.0 936.0,917.0 936.8,917.0 937.6,917.0 938.4,917.0 939.2,917.0 940.0,917.0 940.7,917.0 941.5,917.0 942.3,917.0 943.1,917.0 943.9,917.0 944.7,917.0 945.5,917.0 946.3,917.0 947.1,917.0 947.8,917.0 948.6,917.0 949.4,917.0 950.2,917.0 951.0,917.0 951.8,917.0 952.6,917.0 953.4,917.0 954.1,917.0 954.9,917.0 955.7,916.8 956.5,916.3 957.3,915.6 958.1,914.7 958.9,913.4 959.7,911.4 960.5,908.7 961.2,905.4 962.0,900.6 962.8,893.5 963.6,884.2 964.4,872.8 965.2,853.3 966.0,828.5 966.8,801.1 967.5,779.0 968.3,767.9 969.1,759.8 969.9,754.2 970.7,749.9 971.5,746.3 972.3,743.6 973.1,741.8 973.9,740.6 974.6,740.0 975.4,742.0 976.2,746.8 977.0,752.4 977.8,759.1 978.6,767.6 979.4,776.7 980.2,785.4 980.9,793.7 981.7,802.3 982.5,810.6 983.3,818.2 984.1,824.8 984.9,830.4 985.7,835.6 986.5,840.3 987.3,844.4 988.0,848.1 988.8,851.3 989.6,854.4 990.4,857.2 991.2,859.7 992.0,862.1 992.8,864.2 993.6,866.0 994.3,867.6 995.1,869.1 995.9,870.4 996.7,871.6 997.5,872.8 998.3,873.9 999.1,875.1 999.9,876.3 1000.7,877.4 1001.4,878.5 1002.2,879.5 1003.0,880.6 1003.8,881.7 1004.6,882.9 1005.4,884.1 1006.2,885.3 1007.0,886.5 1007.8,887.8 1008.5,889.1 1009.3,890.3 1010.1,891.6 1010.9,892.9 1011.7,894.3 1012.5,895.7 1013.3,897.1 1014.1,898.5 1014.8,899.8 1015.6,901.0 1016.4,902.2 1017.2,903.2 1018.0,904.4 1018.8,905.5 1019.6,906.5 1020.4,907.5 1021.2,908.4 1021.9,909.1 1022.7,909.7 1023.5,910.0 1024.3,910.2 1025.1,910.4 1025.9,910.6 1026.7,910.7 1027.5,910.9 1028.2,911.0 1029.0,911.1 1029.8,911.1 1030.6,911.2 1031.4,911.2 1032.2,911.2 1033.0,911.2 1033.8,911.2 1034.6,911.2 1035.3,911.2 1036.1,911.2 1036.9,911.2 1037.7,911.2 1038.5,911.2 1039.3,911.2 1040.1,911.2 1040.9,911.2 1041.6,911.2 1042.4,911.2 1043.2,911.2 1044.0,911.2 1044.8,911.2 1045.6,911.2 1046.4,911.2 1047.2,911.2 1048.0,911.2 1048.7,911.2 1049.5,911.2 1050.3,911.2 1051.1,911.2 1051.9,911.2 1052.7,911.2 1053.5,911.2 1054.3,911.2 1055.0,911.2 1055.8,911.2 1056.6,911.2 1057.4,911.2 1058.2,911.2 1059.0,911.2 1059.8,911.2 1060.6,911.2 1061.4,911.2 1062.1,911.2 1062.9,911.2 1063.7,911.2 1064.5,911.2 1065.3,911.2 1066.1,911.2 1066.9,911.2 1067.7,911.2 1068.4,911.2 1069.2,911.2 1070.0,911.2 1070.8,911.2 1071.6,911.2 1072.4,911.2 1073.2,911.2 1074.0,911.2 1074.8,911.2 1075.5,911.2 1076.3,911.2 1077.1,911.2 1077.9,911.2 1078.7,911.2 1079.5,911.2 1080.3,911.2 1081.1,911.2 1081.9,911.2 1082.6,911.2 1083.4,911.2 1084.2,911.2 1085.0,911.2 1085.8,911.2 1086.6,911.2 1087.4,911.2 1088.2,911.2 1088.9,911.2 1089.7,911.2 1090.5,911.2 1091.3,911.2 1092.1,911.2 1092.9,911.2 1093.7,911.2 1094.5,911.2 1095.3,911.2 1096.0,911.2 1096.8,911.2 1097.6,911.0 1098.4,910.4 1099.2,909.5 1100.0,908.4 1100.8,907.1 1101.6,905.7 1102.3,904.3 1103.1,902.8 1103.9,901.4 1104.7,900.2 1105.5,899.0 1106.3,897.9 1107.1,896.8 1107.9,895.6 1108.7,894.4 1109.4,893.2 1110.2,891.8 1111.0,890.4 1111.8,888.4 1112.6,886.1 1113.4,884.1 1114.2,883.2 1115.0,884.0 1115.7,885.6 1116.5,887.2 1117.3,887.9 1118.1,887.9 1118.9,887.8 1119.7,887.7 1120.5,887.6 1121.3,887.5 1122.1,887.3 1122.8,887.2 1123.6,887.0 1124.4,886.8 1125.2,886.6 1126.0,886.4 1126.8,886.2 1127.6,886.0 1128.4,885.9 1129.1,885.7 1129.9,885.6 1130.7,885.4 1131.5,885.3 1132.3,885.2 1133.1,885.1 1133.9,885.0 1134.7,884.9 1135.5,884.7 1136.2,884.6 1137.0,884.5 1137.8,884.4 1138.6,884.3 1139.4,884.2 1140.2,884.1 1141.0,884.0 1141.8,883.9 1142.5,883.7 1143.3,883.6 1144.1,883.5 1144.9,883.4 1145.7,883.2 1146.5,883.1 1147.3,883.0 1148.1,882.8 1148.9,882.7 1149.6,882.6 1150.4,882.4 1151.2,882.3 1152.0,882.2 1152.8,882.0 1153.6,881.9 1154.4,881.8 1155.2,881.6 1156.0,881.5 1156.7,881.3 1157.5,881.1 1158.3,881.0 1159.1,880.8 1159.9,880.6 1160.7,880.4 1161.5,880.2 1162.3,880.0 1163.0,879.8 1163.8,879.6 1164.6,879.4 1165.4,879.1 1166.2,878.9 1167.0,878.6 1167.8,878.3 1168.6,877.9 1169.4,877.5 1170.1,877.1 1170.9,876.6 1171.7,876.0 1172.5,875.5 1173.3,874.8 1174.1,874.2 1174.9,873.5 1175.7,872.8 1176.4,871.9 1177.2,871.0 1178.0,869.9 1178.8,868.7 1179.6,867.4 1180.4,866.0 1181.2,864.6 1182.0,863.1 1182.8,861.4 1183.5,859.6 1184.3,857.7 1185.1,855.8 1185.9,853.8 1186.7,851.8 1187.5,849.8 1188.3,847.8 1189.1,845.7 1189.8,843.6 1190.6,841.3 1191.4,839.0 1192.2,836.5 1193.0,833.9 1193.8,831.3 1194.6,828.5 1195.4,825.6 1196.2,822.7 1196.9,819.7 1197.7,816.6 1198.5,813.4 1199.3,810.2 1200.1,806.9 1200.9,803.5 1201.7,800.0 1202.5,796.2 1203.2,792.1 1204.0,787.8 1204.8,782.7 1205.6,776.9 1206.4,770.7 1207.2,764.5 1208.0,758.6 1208.8,752.5 1209.6,746.4 1210.3,740.6 1211.1,735.6 1211.9,730.8 1212.7,726.0 1213.5,721.3 1214.3,716.7 1215.1,712.2 1215.9,708.0 1216.7,703.9 1217.4,700.0 1218.2,696.4 1219.0,693.2 1219.8,690.2 1220.6,687.6 1221.4,685.5 1222.2,683.5 1223.0,681.6 1223.7,679.9 1224.5,678.8 1225.3,678.3 1226.1,678.6 1226.9,679.4 1227.7,680.6 1228.5,682.0 1229.3,683.7 1230.1,685.4 1230.8,687.1 1231.6,689.1 1232.4,691.9 1233.2,694.8 1234.0,697.5 1234.8,699.4 1235.6,700.2 1236.4,700.3 1237.1,700.3 1237.9,700.4 1238.7,700.4 1239.5,700.4 1240.3,700.4 1241.1,699.7 1241.9,697.7 1242.7,694.7 1243.5,691.1 1244.2,687.3 1245.0,683.4 1245.8,679.9 1246.6,676.5 1247.4,673.1 1248.2,669.5 1249.0,665.8 1249.8,662.0 1250.5,658.3 1251.3,654.4 1252.1,650.6 1252.9,646.7 1253.7,642.8 1254.5,638.7 1255.3,634.5 1256.1,630.2 1256.9,625.7 1257.6,620.9 1258.4,616.0 1259.2,611.0 1260.0,606.0 1260.8,600.8 1261.6,595.4 1262.4,590.2 1263.2,585.2 1263.9,580.2 1264.7,579.6 1265.5,581.4 1266.3,584.3 1267.1,587.7 1267.9,591.3 1268.7,595.4 1269.5,600.2 1270.3,605.7 1271.0,611.8 1271.8,618.5 1272.6,625.7 1273.4,633.4 1274.2,642.4 1275.0,653.2 1275.8,665.3 1276.6,678.2 1277.3,691.4 1278.1,704.3 1278.9,717.5 1279.7,731.5 1280.5,745.8 1281.3,759.9 1282.1,773.2 1282.9,785.3 1283.7,796.6 1284.4,807.8 1285.2,818.6 1286.0,828.8 1286.8,838.0 1287.6,846.1 1288.4,852.8 1289.2,858.6 1290.0,863.9 1290.8,868.8 1291.5,873.2 1292.3,877.3 1293.1,880.8 1293.9,883.9 1294.7,886.6 1295.5,888.9 1296.3,891.1 1297.1,893.2 1297.8,895.1 1298.6,896.9 1299.4,898.5 1300.2,899.9 1301.0,901.1 1301.8,902.0 1302.6,902.7 1303.4,903.3 1304.2,903.8 1304.9,904.2 1305.7,904.6 1306.5,905.0 1307.3,905.3 1308.1,905.6 1308.9,905.9 1309.7,906.1 1310.5,906.4 1311.2,906.7 1312.0,907.0 1312.8,907.3 1313.6,907.6 1314.4,908.0 1315.2,908.3 1316.0,908.7 1316.8,909.1 1317.6,909.5 1318.3,909.9 1319.1,910.3 1319.9,910.7 1320.7,911.0 1321.5,911.4 1322.3,911.7 1323.1,912.0 1323.9,912.2 1324.6,912.4 1325.4,912.6 1326.2,912.7 1327.0,912.8 1327.8,912.9 1328.6,912.9 1329.4,913.0 1330.2,913.0 1331.0,913.1 1331.7,913.1 1332.5,913.1 1333.3,913.2 1334.1,913.2 1334.9,913.2 1335.7,913.3 1336.5,913.3 1337.3,913.3 1338.0,913.4 1338.8,913.4 1339.6,913.4 1340.4,913.4 1341.2,913.4 1342.0,913.5 1342.8,913.5 1343.6,913.5 1344.4,913.5 1345.1,913.5 1345.9,913.5 1346.7,913.5 1347.5,913.5 1348.3,913.5 1349.1,913.5 1349.9,913.5 1350.7,913.5 1351.4,913.5 1352.2,913.5 1353.0,913.5 1353.8,913.5 1354.6,913.5 1355.4,913.5 1356.2,913.5 1357.0,913.5 1357.8,913.5 1358.5,913.5 1359.3,913.5 1360.1,913.5 1360.9,913.5 1361.7,913.5 1362.5,913.5 1363.3,913.5 1364.1,913.5 1364.9,913.5 1365.6,913.5 1366.4,913.5 1367.2,913.5 1368.0,913.5 1368.8,913.5 1369.6,913.5 1370.4,913.5 1371.2,913.5 1371.9,913.5 1372.7,913.5 1373.5,913.5 1374.3,913.5" fill="none" stroke="#0000ff" stroke-width="3.0" stroke-linejoin="round" stroke-linecap="round"/>
<polyline points="893.4,917.0 894.2,917.0 895.0,917.0 895.8,917.0 896.6,917.0 897.4,917.0 898.2,917.0 899.0,917.0 899.8,917.0 900.5,917.0 901.3,917.0 902.1,917.0 902.9,917.0 903.7,917.0 904.5,917.0 905.3,917.0 906.1,917.0 906.8,917.0 907.6,917.0 908.4,917.0 909.2,917.0 910.0,917.0 910.8,917.0 911.6,917.0 912.4,917.0 913.2,917.0 913.9,917.0 914.7,917.0 915.5,917.0 916.3,917.0 917.1,917.0 917.9,917.0 918.7,917.0 919.5,917.0 920.2,917.0 921.0,917.0 921.8,917.0 922.6,917.0 923.4,917.0 924.2,917.0 925.0,917.0 925.8,917.0 926.6,917.0 927.3,917.0 928.1,917.0 928.9,917.0 929.7,917.0 930.5,917.0 931.3,917.0 932.1,917.0 932.9,917.0 933.7,917.0 934.4,917.0 935.2,917.0 936.0,917.0 936.8,917.0 937.6,917.0 938.4,917.0 939.2,917.0 940.0,917.0 940.7,917.0 941.5,917.0 942.3,917.0 943.1,917.0 943.9,917.0 944.7,917.0 945.5,917.0 946.3,917.0 947.1,917.0 947.8,917.0 948.6,917.0 949.4,917.0 950.2,917.0 951.0,917.0 951.8,917.0 952.6,917.0 953.4,917.0 954.1,917.0 954.9,917.0 955.7,916.8 956.5,916.3 957.3,915.6 958.1,914.7 958.9,913.4 959.7,911.3 960.5,908.6 961.2,905.4 962.0,900.8 962.8,894.2 963.6,885.6 964.4,874.8 965.2,856.3 966.0,832.6 966.8,806.4 967.5,785.3 968.3,774.7 969.1,767.0 969.9,761.7 970.7,757.6 971.5,754.2 972.3,751.6 973.1,749.9 973.9,748.7 974.6,748.2 975.4,750.1 976.2,754.6 977.0,760.0 977.8,766.5 978.6,774.7 979.4,783.6 980.2,792.1 980.9,800.2 981.7,808.5 982.5,816.6 983.3,824.2 984.1,830.9 984.9,836.9 985.7,842.6 986.5,847.8 987.3,852.4 988.0,856.2 988.8,859.6 989.6,862.6 990.4,865.4 991.2,868.0 992.0,870.3 992.8,872.3 993.6,874.2 994.3,875.8 995.1,877.3 995.9,878.6 996.7,879.8 997.5,881.0 998.3,882.1 999.1,883.2 999.9,884.3 1000.7,885.3 1001.4,886.2 1002.2,887.1 1003.0,888.0 1003.8,889.0 1004.6,890.0 1005.4,891.1 1006.2,892.3 1007.0,893.5 1007.8,894.7 1008.5,895.9 1009.3,897.2 1010.1,898.4 1010.9,899.7 1011.7,901.0 1012.5,902.4 1013.3,903.7 1014.1,905.1 1014.8,906.3 1015.6,907.5 1016.4,908.6 1017.2,909.6 1018.0,910.6 1018.8,911.6 1019.6,912.6 1020.4,913.5 1021.2,914.3 1021.9,915.0 1022.7,915.5 1023.5,915.8 1024.3,916.0 1025.1,916.2 1025.9,916.4 1026.7,916.5 1027.5,916.7 1028.2,916.8 1029.0,916.9 1029.8,916.9 1030.6,917.0 1031.4,917.0 1032.2,917.0 1033.0,917.0 1033.8,917.0 1034.6,917.0 1035.3,917.0 1036.1,917.0 1036.9,917.0 1037.7,917.0 1038.5,917.0 1039.3,917.0 1040.1,917.0 1040.9,917.0 1041.6,917.0 1042.4,917.0 1043.2,917.0 1044.0,917.0 1044.8,917.0 1045.6,917.0 1046.4,917.0 1047.2,917.0 1048.0,917.0 1048.7,917.0 1049.5,917.0 1050.3,917.0 1051.1,917.0 1051.9,917.0 1052.7,917.0 1053.5,917.0 1054.3,917.0 1055.0,917.0 1055.8,917.0 1056.6,917.0 1057.4,917.0 1058.2,917.0 1059.0,917.0 1059.8,917.0 1060.6,917.0 1061.4,917.0 1062.1,917.0 1062.9,917.0 1063.7,917.0 1064.5,917.0 1065.3,917.0 1066.1,917.0 1066.9,917.0 1067.7,917.0 1068.4,917.0 1069.2,917.0 1070.0,917.0 1070.8,917.0 1071.6,917.0 1072.4,917.0 1073.2,917.0 1074.0,917.0 1074.8,917.0 1075.5,917.0 1076.3,917.0 1077.1,917.0 1077.9,917.0 1078.7,917.0 1079.5,917.0 1080.3,917.0 1081.1,917.0 1081.9,917.0 1082.6,917.0 1083.4,917.0 1084.2,917.0 1085.0,917.0 1085.8,917.0 1086.6,917.0 1087.4,917.0 1088.2,917.0 1088.9,917.0 1089.7,917.0 1090.5,917.0 1091.3,917.0 1092.1,917.0 1092.9,917.0 1093.7,917.0 1094.5,917.0 1095.3,917.0 1096.0,917.0 1096.8,917.0 1097.6,916.8 1098.4,916.2 1099.2,915.3 1100.0,914.1 1100.8,912.8 1101.6,911.3 1102.3,909.8 1103.1,908.2 1103.9,906.8 1104.7,905.5 1105.5,904.3 1106.3,903.1 1107.1,901.9 1107.9,900.7 1108.7,899.4 1109.4,898.1 1110.2,896.7 1111.0,895.2 1111.8,893.2 1112.6,890.8 1113.4,888.8 1114.2,887.9 1115.0,888.6 1115.7,890.2 1116.5,891.8 1117.3,892.5 1118.1,892.5 1118.9,892.5 1119.7,892.4 1120.5,892.3 1121.3,892.1 1122.1,892.0 1122.8,891.8 1123.6,891.6 1124.4,891.5 1125.2,891.3 1126.0,891.1 1126.8,890.9 1127.6,890.7 1128.4,890.5 1129.1,890.4 1129.9,890.2 1130.7,890.1 1131.5,890.0 1132.3,889.9 1133.1,889.7 1133.9,889.6 1134.7,889.5 1135.5,889.4 1136.2,889.3 1137.0,889.2 1137.8,889.1 1138.6,889.0 1139.4,888.9 1140.2,888.7 1141.0,888.6 1141.8,888.5 1142.5,888.4 1143.3,888.3 1144.1,888.2 1144.9,888.0 1145.7,887.9 1146.5,887.8 1147.3,887.6 1148.1,887.5 1148.9,887.4 1149.6,887.3 1150.4,887.1 1151.2,887.0 1152.0,886.9 1152.8,886.8 1153.6,886.7 1154.4,886.5 1155.2,886.4 1156.0,886.3 1156.7,886.1 1157.5,886.0 1158.3,885.8 1159.1,885.6 1159.9,885.5 1160.7,885.3 1161.5,885.1 1162.3,884.9 1163.0,884.6 1163.8,884.4 1164.6,884.1 1165.4,883.8 1166.2,883.5 1167.0,883.2 1167.8,882.8 1168.6,882.2 1169.4,881.4 1170.1,880.5 1170.9,879.5 1171.7,878.5 1172.5,877.3 1173.3,876.2 1174.1,875.0 1174.9,873.8 1175.7,872.8 1176.4,871.7 1177.2,870.6 1178.0,869.6 1178.8,868.4 1179.6,867.2 1180.4,866.0 1181.2,864.6 1182.0,863.1 1182.8,861.4 1183.5,859.6 1184.3,857.7 1185.1,855.8 1185.9,853.8 1186.7,851.8 1187.5,849.8 1188.3,847.8 1189.1,845.7 1189.8,843.6 1190.6,841.3 1191.4,839.0 1192.2,836.5 1193.0,833.9 1193.8,831.3 1194.6,828.5 1195.4,825.6 1196.2,822.7 1196.9,819.7 1197.7,816.6 1198.5,813.4 1199.3,810.2 1200.1,806.9 1200.9,803.5 1201.7,800.0 1202.5,796.2 1203.2,792.1 1204.0,787.8 1204.8,782.7 1205.6,776.9 1206.4,770.7 1207.2,764.5 1208.0,758.6 1208.8,752.4 1209.6,746.3 1210.3,740.6 1211.1,735.6 1211.9,731.0 1212.7,726.5 1213.5,722.1 1214.3,717.8 1215.1,713.7 1215.9,709.7 1216.7,706.0 1217.4,702.4 1218.2,699.1 1219.0,696.1 1219.8,693.4 1220.6,690.9 1221.4,688.9 1222.2,686.9 1223.0,685.0 1223.7,683.4 1224.5,682.2 1225.3,681.8 1226.1,682.1 1226.9,682.7 1227.7,683.8 1228.5,685.0 1229.3,686.4 1230.1,687.9 1230.8,689.4 1231.6,691.2 1232.4,693.7 1233.2,696.4 1234.0,698.9 1234.8,700.7 1235.6,701.4 1236.4,701.5 1237.1,701.5 1237.9,701.6 1238.7,701.6 1239.5,701.6 1240.3,701.6 1241.1,700.9 1241.9,698.9 1242.7,695.9 1243.5,692.4 1244.2,688.5 1245.0,684.7 1245.8,681.2 1246.6,677.9 1247.4,674.5 1248.2,670.9 1249.0,667.3 1249.8,663.6 1250.5,659.8 1251.3,656.0 1252.1,652.2 1252.9,648.4 1253.7,644.5 1254.5,640.5 1255.3,636.3 1256.1,632.0 1256.9,627.6 1257.6,622.8 1258.4,618.0 1259.2,613.0 1260.0,608.1 1260.8,602.9 1261.6,597.6 1262.4,592.5 1263.2,587.5 1263.9,582.6 1264.7,581.9 1265.5,583.7 1266.3,586.6 1267.1,590.0 1267.9,593.5 1268.7,597.6 1269.5,602.4 1270.3,607.9 1271.0,613.9 1271.8,620.5 1272.6,627.7 1273.4,635.3 1274.2,644.3 1275.0,655.0 1275.8,667.1 1276.6,679.9 1277.3,692.9 1278.1,705.7 1278.9,718.8 1279.7,732.8 1280.5,747.0 1281.3,760.9 1282.1,774.2 1282.9,786.2 1283.7,797.5 1284.4,808.5 1285.2,819.2 1286.0,829.3 1286.8,838.4 1287.6,846.5 1288.4,853.3 1289.2,859.1 1290.0,864.6 1290.8,869.6 1291.5,874.2 1292.3,878.3 1293.1,882.0 1293.9,885.2 1294.7,887.9 1295.5,890.3 1296.3,892.5 1297.1,894.6 1297.8,896.6 1298.6,898.4 1299.4,900.0 1300.2,901.4 1301.0,902.7 1301.8,903.7 1302.6,904.4 1303.4,905.1 1304.2,905.6 1304.9,906.1 1305.7,906.6 1306.5,907.0 1307.3,907.4 1308.1,907.7 1308.9,908.1 1309.7,908.4 1310.5,908.7 1311.2,909.0 1312.0,909.3 1312.8,909.6 1313.6,910.0 1314.4,910.4 1315.2,910.8 1316.0,911.1 1316.8,911.5 1317.6,911.9 1318.3,912.3 1319.1,912.7 1319.9,913.1 1320.7,913.4 1321.5,913.7 1322.3,914.0 1323.1,914.3 1323.9,914.6 1324.6,914.8 1325.4,914.9 1326.2,915.1 1327.0,915.1 1327.8,915.2 1328.6,915.2 1329.4,915.3 1330.2,915.3 1331.0,915.4 1331.7,915.4 1332.5,915.5 1333.3,915.5 1334.1,915.5 1334.9,915.6 1335.7,915.6 1336.5,915.6 1337.3,915.7 1338.0,915.7 1338.8,915.7 1339.6,915.7 1340.4,915.8 1341.2,915.8 1342.0,915.8 1342.8,915.8 1343.6,915.8 1344.4,915.8 1345.1,915.8 1345.9,915.8 1346.7,915.8 1347.5,915.8 1348.3,915.8 1349.1,915.8 1349.9,915.8 1350.7,915.8 1351.4,915.8 1352.2,915.8 1353.0,915.8 1353.8,915.8 1354.6,915.8 1355.4,915.8 1356.2,915.8 1357.0,915.8 1357.8,915.8 1358.5,915.8 1359.3,915.8 1360.1,915.8 1360.9,915.8 1361.7,915.8 1362.5,915.8 1363.3,915.8 1364.1,915.8 1364.9,915.8 1365.6,915.8 1366.4,915.8 1367.2,915.8 1368.0,915.8 1368.8,915.8 1369.6,915.8 1370.4,915.8 1371.2,915.8 1371.9,915.8 1372.7,915.8 1373.5,915.8 1374.3,915.8" fill="none" stroke="#008000" stroke-width="3.0" stroke-linejoin="round" stroke-linecap="round"/>
<polyline points="893.4,917.0 894.2,917.0 895.0,917.0 895.8,917.0 896.6,917.0 897.4,917.0 898.2,917.0 899.0,917.0 899.8,917.0 900.5,917.0 901.3,917.0 902.1,917.0 902.9,917.0 903.7,917.0 904.5,917.0 905.3,917.0 906.1,917.0 906.8,917.0 907.6,917.0 908.4,917.0 909.2,917.0 910.0,917.0 910.8,917.0 911.6,917.0 912.4,917.0 913.2,917.0 913.9,917.0 914.7,917.0 915.5,917.0 916.3,917.0 917.1,917.0 917.9,917.0 918.7,917.0 919.5,917.0 920.2,917.0 921.0,917.0 921.8,917.0 922.6,917.0 923.4,917.0 924.2,917.0 925.0,917.0 925.8,917.0 926.6,917.0 927.3,917.0 928.1,917.0 928.9,917.0 929.7,917.0 930.5,917.0 931.3,917.0 932.1,917.0 932.9,917.0 933.7,917.0 934.4,917.0 935.2,917.0 936.0,917.0 936.8,917.0 937.6,917.0 938.4,917.0 939.2,917.0 940.0,917.0 940.7,917.0 941.5,917.0 942.3,917.0 943.1,917.0 943.9,917.0 944.7,917.0 945.5,917.0 946.3,917.0 947.1,917.0 947.8,917.0 948.6,917.0 949.4,917.0 950.2,917.0 951.0,917.0 951.8,917.0 952.6,917.0 953.4,917.0 954.1,917.0 954.9,917.0 955.7,916.8 956.5,916.3 957.3,915.6 958.1,914.7 958.9,913.4 959.7,911.3 960.5,908.6 961.2,905.4 962.0,900.9 962.8,894.5 963.6,886.1 964.4,875.7 965.2,857.6 966.0,834.3 966.8,808.7 967.5,788.0 968.3,777.7 969.1,770.1 969.9,764.9 970.7,760.9 971.5,757.6 972.3,755.0 973.1,753.3 973.9,752.2 974.6,751.7 975.4,753.5 976.2,758.0 977.0,763.2 977.8,769.5 978.6,777.4 979.4,786.0 980.2,794.1 980.9,801.9 981.7,809.9 982.5,817.7 983.3,824.9 984.1,831.1 984.9,836.4 985.7,841.3 986.5,845.8 987.3,849.8 988.0,853.2 988.8,856.2 989.6,859.1 990.4,861.7 991.2,864.0 992.0,866.2 992.8,868.2 993.6,869.9 994.3,871.4 995.1,872.8 995.9,874.1 996.7,875.3 997.5,876.4 998.3,877.5 999.1,878.6 999.9,879.7 1000.7,880.7 1001.4,881.7 1002.2,882.7 1003.0,883.7 1003.8,884.7 1004.6,885.8 1005.4,886.9 1006.2,888.1 1007.0,889.2 1007.8,890.4 1008.5,891.6 1009.3,892.8 1010.1,894.0 1010.9,895.2 1011.7,896.5 1012.5,897.9 1013.3,899.2 1014.1,900.5 1014.8,901.7 1015.6,902.9 1016.4,903.9 1017.2,904.9 1018.0,905.9 1018.8,907.0 1019.6,907.9 1020.4,908.9 1021.2,909.7 1021.9,910.4 1022.7,910.9 1023.5,911.2 1024.3,911.4 1025.1,911.6 1025.9,911.7 1026.7,911.9 1027.5,912.0 1028.2,912.1 1029.0,912.2 1029.8,912.3 1030.6,912.3 1031.4,912.3 1032.2,912.3 1033.0,912.3 1033.8,912.3 1034.6,912.3 1035.3,912.3 1036.1,912.3 1036.9,912.3 1037.7,912.3 1038.5,912.3 1039.3,912.3 1040.1,912.3 1040.9,912.3 1041.6,912.3 1042.4,912.3 1043.2,912.3 1044.0,912.3 1044.8,912.3 1045.6,912.3 1046.4,912.3 1047.2,912.3 1048.0,912.3 1048.7,912.3 1049.5,912.3 1050.3,912.3 1051.1,912.3 1051.9,912.3 1052.7,912.3 1053.5,912.3 1054.3,912.3 1055.0,912.3 1055.8,912.3 1056.6,912.3 1057.4,912.3 1058.2,912.3 1059.0,912.3 1059.8,912.3 1060.6,912.3 1061.4,912.3 1062.1,912.3 1062.9,912.3 1063.7,912.3 1064.5,912.3 1065.3,912.3 1066.1,912.3 1066.9,912.3 1067.7,912.3 1068.4,912.3 1069.2,912.3 1070.0,912.3 1070.8,912.3 1071.6,912.3 1072.4,912.3 1073.2,912.3 1074.0,912.3 1074.8,912.3 1075.5,912.3 1076.3,912.3 1077.1,912.3 1077.9,912.3 1078.7,912.3 1079.5,912.3 1080.3,912.3 1081.1,912.3 1081.9,912.3 1082.6,912.3 1083.4,912.3 1084.2,912.3 1085.0,912.3 1085.8,912.3 1086.6,912.3 1087.4,912.3 1088.2,912.3 1088.9,912.3 1089.7,912.3 1090.5,912.3 1091.3,912.3 1092.1,912.3 1092.9,912.3 1093.7,912.3 1094.5,912.3 1095.3,912.3 1096.0,912.3 1096.8,912.3 1097.6,912.1 1098.4,911.6 1099.2,910.8 1100.0,909.7 1100.8,908.5 1101.6,907.1 1102.3,905.8 1103.1,904.4 1103.9,903.1 1104.7,901.9 1105.5,900.8 1106.3,899.7 1107.1,898.6 1107.9,897.5 1108.7,896.4 1109.4,895.2 1110.2,893.9 1111.0,892.5 1111.8,890.7 1112.6,888.3 1113.4,886.4 1114.2,885.6 1115.0,886.3 1115.7,887.9 1116.5,889.5 1117.3,890.2 1118.1,890.2 1118.9,890.1 1119.7,890.1 1120.5,890.0 1121.3,889.8 1122.1,889.7 1122.8,889.5 1123.6,889.3 1124.4,889.1 1125.2,888.9 1126.0,888.7 1126.8,888.5 1127.6,888.4 1128.4,888.2 1129.1,888.0 1129.9,887.9 1130.7,887.8 1131.5,887.6 1132.3,887.5 1133.1,887.4 1133.9,887.3 1134.7,887.2 1135.5,887.1 1136.2,887.0 1137.0,886.9 1137.8,886.7 1138.6,886.6 1139.4,886.5 1140.2,886.4 1141.0,886.3 1141.8,886.2 1142.5,886.1 1143.3,886.0 1144.1,885.8 1144.9,885.7 1145.7,885.6 1146.5,885.4 1147.3,885.3 1148.1,885.2 1148.9,885.0 1149.6,884.9 1150.4,884.8 1151.2,884.7 1152.0,884.5 1152.8,884.4 1153.6,884.3 1154.4,884.2 1155.2,884.0 1156.0,883.9 1156.7,883.7 1157.5,883.6 1158.3,883.4 1159.1,883.2 1159.9,883.1 1160.7,882.9 1161.5,882.7 1162.3,882.5 1163.0,882.2 1163.8,882.0 1164.6,881.8 1165.4,881.5 1166.2,881.2 1167.0,880.9 1167.8,880.5 1168.6,880.1 1169.4,879.5 1170.1,878.8 1170.9,878.1 1171.7,877.3 1172.5,876.4 1173.3,875.5 1174.1,874.6 1174.9,873.7 1175.7,872.8 1176.4,871.8 1177.2,870.8 1178.0,869.7 1178.8,868.5 1179.6,867.3 1180.4,866.0 1181.2,864.6 1182.0,863.1 1182.8,861.4 1183.5,859.6 1184.3,857.7 1185.1,855.8 1185.9,853.8 1186.7,851.8 1187.5,849.8 1188.3,847.8 1189.1,845.7 1189.8,843.6 1190.6,841.3 1191.4,839.0 1192.2,836.5 1193.0,833.9 1193.8,831.3 1194.6,828.5 1195.4,825.6 1196.2,822.7 1196.9,819.7 1197.7,816.6 1198.5,813.4 1199.3,810.2 1200.1,806.9 1200.9,803.5 1201.7,800.0 1202.5,796.2 1203.2,792.1 1204.0,787.8 1204.8,782.7 1205.6,776.9 1206.4,770.7 1207.2,764.5 1208.0,758.6 1208.8,752.4 1209.6,746.3 1210.3,740.6 1211.1,735.6 1211.9,731.0 1212.7,726.5 1213.5,722.1 1214.3,717.8 1215.1,713.7 1215.9,709.7 1216.7,706.0 1217.4,702.4 1218.2,699.1 1219.0,696.1 1219.8,693.4 1220.6,690.9 1221.4,688.9 1222.2,686.9 1223.0,685.0 1223.7,683.4 1224.5,682.2 1225.3,681.8 1226.1,682.1 1226.9,682.7 1227.7,683.8 1228.5,685.0 1229.3,686.4 1230.1,687.9 1230.8,689.4 1231.6,691.2 1232.4,693.7 1233.2,696.4 1234.0,698.9 1234.8,700.7 1235.6,701.4 1236.4,701.5 1237.1,701.5 1237.9,701.6 1238.7,701.6 1239.5,701.6 1240.3,701.6 1241.1,700.9 1241.9,698.9 1242.7,696.1 1243.5,692.6 1244.2,688.8 1245.0,685.0 1245.8,681.6 1246.6,678.4 1247.4,675.0 1248.2,671.5 1249.0,668.0 1249.8,664.3 1250.5,660.6 1251.3,656.9 1252.1,653.2 1252.9,649.4 1253.7,645.6 1254.5,641.7 1255.3,637.6 1256.1,633.4 1256.9,629.0 1257.6,624.4 1258.4,619.6 1259.2,614.8 1260.0,609.9 1260.8,604.8 1261.6,599.6 1262.4,594.6 1263.2,589.7 1263.9,584.9 1264.7,584.3 1265.5,586.0 1266.3,588.9 1267.1,592.3 1267.9,595.8 1268.7,599.8 1269.5,604.6 1270.3,610.0 1271.0,616.0 1271.8,622.6 1272.6,629.7 1273.4,637.3 1274.2,646.2 1275.0,656.8 1275.8,668.8 1276.6,681.5 1277.3,694.5 1278.1,707.2 1278.9,720.2 1279.7,734.0 1280.5,748.1 1281.3,762.0 1282.1,775.2 1282.9,787.1 1283.7,798.3 1284.4,809.3 1285.2,819.9 1286.0,829.9 1286.8,839.1 1287.6,847.1 1288.4,853.7 1289.2,859.4 1290.0,864.8 1290.8,869.7 1291.5,874.2 1292.3,878.2 1293.1,881.8 1293.9,884.9 1294.7,887.5 1295.5,889.9 1296.3,892.1 1297.1,894.1 1297.8,896.1 1298.6,897.8 1299.4,899.4 1300.2,900.8 1301.0,902.0 1301.8,903.0 1302.6,903.7 1303.4,904.3 1304.2,904.8 1304.9,905.3 1305.7,905.7 1306.5,906.1 1307.3,906.4 1308.1,906.7 1308.9,907.0 1309.7,907.3 1310.5,907.6 1311.2,907.9 1312.0,908.2 1312.8,908.5 1313.6,908.9 1314.4,909.2 1315.2,909.6 1316.0,910.0 1316.8,910.4 1317.6,910.7 1318.3,911.1 1319.1,911.5 1319.9,911.9 1320.7,912.2 1321.5,912.6 1322.3,912.9 1323.1,913.1 1323.9,913.4 1324.6,913.6 1325.4,913.8 1326.2,913.9 1327.0,914.0 1327.8,914.0 1328.6,914.1 1329.4,914.1 1330.2,914.2 1331.0,914.2 1331.7,914.3 1332.5,914.3 1333.3,914.3 1334.1,914.4 1334.9,914.4 1335.7,914.4 1336.5,914.5 1337.3,914.5 1338.0,914.5 1338.8,914.6 1339.6,914.6 1340.4,914.6 1341.2,914.6 1342.0,914.6 1342.8,914.6 1343.6,914.7 1344.4,914.7 1345.1,914.7 1345.9,914.7 1346.7,914.7 1347.5,914.7 1348.3,914.7 1349.1,914.7 1349.9,914.7 1350.7,914.7 1351.4,914.7 1352.2,914.7 1353.0,914.7 1353.8,914.7 1354.6,914.7 1355.4,914.7 1356.2,914.7 1357.0,914.7 1357.8,914.7 1358.5,914.7 1359.3,914.7 1360.1,914.7 1360.9,914.7 1361.7,914.7 1362.5,914.7 1363.3,914.7 1364.1,914.7 1364.9,914.7 1365.6,914.7 1366.4,914.7 1367.2,914.7 1368.0,914.7 1368.8,914.7 1369.6,914.7 1370.4,914.7 1371.2,914.7 1371.9,914.7 1372.7,914.7 1373.5,914.7 1374.3,914.7" fill="none" stroke="#00ffff" stroke-width="3.0" stroke-linejoin="round" stroke-linecap="round"/>
<polyline points="893.4,917.0 894.2,917.0 895.0,917.0 895.8,917.0 896.6,917.0 897.4,917.0 898.2,917.0 899.0,917.0 899.8,917.0 900.5,917.0 901.3,917.0 902.1,917.0 902.9,917.0 903.7,917.0 904.5,917.0 905.3,917.0 906.1,917.0 906.8,917.0 907.6,917.0 908.4,917.0 909.2,917.0 910.0,917.0 910.8,917.0 911.6,917.0 912.4,917.0 913.2,917.0 913.9,917.0 914.7,917.0 915.5,917.0 916.3,917.0 917.1,917.0 917.9,917.0 918.7,917.0 919.5,917.0 920.2,917.0 921.0,917.0 921.8,917.0 922.6,917.0 923.4,917.0 924.2,917.0 925.0,917.0 925.8,917.0 926.6,917.0 927.3,917.0 928.1,917.0 928.9,917.0 929.7,917.0 930.5,917.0 931.3,917.0 932.1,917.0 932.9,917.0 933.7,917.0 934.4,917.0 935.2,917.0 936.0,917.0 936.8,917.0 937.6,917.0 938.4,917.0 939.2,917.0 940.0,917.0 940.7,917.0 941.5,917.0 942.3,917.0 943.1,917.0 943.9,917.0 944.7,917.0 945.5,917.0 946.3,917.0 947.1,917.0 947.8,917.0 948.6,917.0 949.4,917.0 950.2,917.0 951.0,917.0 951.8,917.0 952.6,917.0 953.4,917.0 954.1,917.0 954.9,917.0 955.7,916.8 956.5,916.3 957.3,915.6 958.1,914.7 958.9,913.4 959.7,911.4 960.5,908.7 961.2,905.4 962.0,900.5 962.8,893.2 963.6,883.7 964.4,871.9 965.2,852.1 966.0,826.8 966.8,798.8 967.5,776.2 968.3,764.9 969.1,756.7 969.9,751.0 970.7,746.6 971.5,743.0 972.3,740.2 973.1,738.3 973.9,737.1 974.6,736.5 975.4,738.6 976.2,743.4 977.0,749.2 977.8,756.0 978.6,764.6 979.4,773.8 980.2,782.6 980.9,791.1 981.7,799.8 982.5,808.2 983.3,815.9 984.1,822.5 984.9,828.1 985.7,833.2 986.5,837.8 987.3,841.9 988.0,845.5 988.8,848.8 989.6,851.8 990.4,854.7 991.2,857.3 992.0,859.6 992.8,861.8 993.6,863.6 994.3,865.2 995.1,866.7 995.9,868.0 996.7,869.2 997.5,870.4 998.3,871.6 999.1,872.8 999.9,874.0 1000.7,875.1 1001.4,876.3 1002.2,877.4 1003.0,878.5 1003.8,879.7 1004.6,880.9 1005.4,882.1 1006.2,883.4 1007.0,884.7 1007.8,886.0 1008.5,887.3 1009.3,888.6 1010.1,889.9 1010.9,891.2 1011.7,892.6 1012.5,894.1 1013.3,895.5 1014.1,896.9 1014.8,898.3 1015.6,899.5 1016.4,900.7 1017.2,901.8 1018.0,903.0 1018.8,904.1 1019.6,905.2 1020.4,906.3 1021.2,907.2 1021.9,907.9 1022.7,908.5 1023.5,908.8 1024.3,909.1 1025.1,909.2 1025.9,909.4 1026.7,909.6 1027.5,909.7 1028.2,909.8 1029.0,909.9 1029.8,910.0 1030.6,910.0 1031.4,910.0 1032.2,910.0 1033.0,910.0 1033.8,910.0 1034.6,910.0 1035.3,910.0 1036.1,910.0 1036.9,910.0 1037.7,910.0 1038.5,910.0 1039.3,910.0 1040.1,910.0 1040.9,910.0 1041.6,910.0 1042.4,910.0 1043.2,910.0 1044.0,910.0 1044.8,910.0 1045.6,910.0 1046.4,910.0 1047.2,910.0 1048.0,910.0 1048.7,910.0 1049.5,910.0 1050.3,910.0 1051.1,910.0 1051.9,910.0 1052.7,910.0 1053.5,910.0 1054.3,910.0 1055.0,910.0 1055.8,910.0 1056.6,910.0 1057.4,910.0 1058.2,910.0 1059.0,910.0 1059.8,910.0 1060.6,910.0 1061.4,910.0 1062.1,910.0 1062.9,910.0 1063.7,910.0 1064.5,910.0 1065.3,910.0 1066.1,910.0 1066.9,910.0 1067.7,910.0 1068.4,910.0 1069.2,910.0 1070.0,910.0 1070.8,910.0 1071.6,910.0 1072.4,910.0 1073.2,910.0 1074.0,910.0 1074.8,910.0 1075.5,910.0 1076.3,910.0 1077.1,910.0 1077.9,910.0 1078.7,910.0 1079.5,910.0 1080.3,910.0 1081.1,910.0 1081.9,910.0 1082.6,910.0 1083.4,910.0 1084.2,910.0 1085.0,910.0 1085.8,910.0 1086.6,910.0 1087.4,910.0 1088.2,910.0 1088.9,910.0 1089.7,910.0 1090.5,910.0 1091.3,910.0 1092.1,910.0 1092.9,910.0 1093.7,910.0 1094.5,910.0 1095.3,910.0 1096.0,910.0 1096.8,910.0 1097.6,909.8 1098.4,909.3 1099.2,908.4 1100.0,907.4 1100.8,906.2 1101.6,904.8 1102.3,903.4 1103.1,902.0 1103.9,900.7 1104.7,899.5 1105.5,898.4 1106.3,897.4 1107.1,896.3 1107.9,895.2 1108.7,894.1 1109.4,892.9 1110.2,891.6 1111.0,890.2 1111.8,888.3 1112.6,886.0 1113.4,884.1 1114.2,883.2 1115.0,884.0 1115.7,885.6 1116.5,887.2 1117.3,887.9 1118.1,887.9 1118.9,887.8 1119.7,887.7 1120.5,887.6 1121.3,887.5 1122.1,887.3 1122.8,887.2 1123.6,887.0 1124.4,886.8 1125.2,886.6 1126.0,886.4 1126.8,886.2 1127.6,886.0 1128.4,885.9 1129.1,885.7 1129.9,885.6 1130.7,885.4 1131.5,885.3 1132.3,885.2 1133.1,885.1 1133.9,885.0 1134.7,884.9 1135.5,884.7 1136.2,884.6 1137.0,884.5 1137.8,884.4 1138.6,884.3 1139.4,884.2 1140.2,884.1 1141.0,884.0 1141.8,883.9 1142.5,883.7 1143.3,883.6 1144.1,883.5 1144.9,883.4 1145.7,883.2 1146.5,883.1 1147.3,883.0 1148.1,882.8 1148.9,882.7 1149.6,882.6 1150.4,882.4 1151.2,882.3 1152.0,882.2 1152.8,882.0 1153.6,881.9 1154.4,881.8 1155.2,881.6 1156.0,881.5 1156.7,881.3 1157.5,881.1 1158.3,881.0 1159.1,880.8 1159.9,880.6 1160.7,880.4 1161.5,880.2 1162.3,880.0 1163.0,879.8 1163.8,879.6 1164.6,879.4 1165.4,879.1 1166.2,878.9 1167.0,878.6 1167.8,878.3 1168.6,877.9 1169.4,877.5 1170.1,877.1 1170.9,876.6 1171.7,876.0 1172.5,875.5 1173.3,874.8 1174.1,874.2 1174.9,873.5 1175.7,872.8 1176.4,871.9 1177.2,871.0 1178.0,869.9 1178.8,868.7 1179.6,867.4 1180.4,866.0 1181.2,864.6 1182.0,863.1 1182.8,861.4 1183.5,859.6 1184.3,857.7 1185.1,855.8 1185.9,853.8 1186.7,851.8 1187.5,849.8 1188.3,847.8 1189.1,845.7 1189.8,843.6 1190.6,841.3 1191.4,839.0 1192.2,836.5 1193.0,833.9 1193.8,831.3 1194.6,828.5 1195.4,825.6 1196.2,822.7 1196.9,819.7 1197.7,816.6 1198.5,813.4 1199.3,810.2 1200.1,806.9 1200.9,803.5 1201.7,800.0 1202.5,796.2 1203.2,792.1 1204.0,787.8 1204.8,782.7 1205.6,776.9 1206.4,770.7 1207.2,764.5 1208.0,758.6 1208.8,752.4 1209.6,746.2 1210.3,740.5 1211.1,735.6 1211.9,731.1 1212.7,726.7 1213.5,722.4 1214.3,718.2 1215.1,714.2 1215.9,710.3 1216.7,706.7 1217.4,703.2 1218.2,700.0 1219.0,697.1 1219.8,694.4 1220.6,692.0 1221.4,690.0 1222.2,688.1 1223.0,686.2 1223.7,684.5 1224.5,683.4 1225.3,683.0 1226.1,683.2 1226.9,683.8 1227.7,684.8 1228.5,685.9 1229.3,687.2 1230.1,688.6 1230.8,690.0 1231.6,691.7 1232.4,694.1 1233.2,696.6 1234.0,699.0 1234.8,700.7 1235.6,701.4 1236.4,701.5 1237.1,701.5 1237.9,701.6 1238.7,701.6 1239.5,701.6 1240.3,701.6 1241.1,700.9 1241.9,699.0 1242.7,696.1 1243.5,692.7 1244.2,688.9 1245.0,685.2 1245.8,681.8 1246.6,678.6 1247.4,675.3 1248.2,671.8 1249.0,668.3 1249.8,664.7 1250.5,661.0 1251.3,657.4 1252.1,653.7 1252.9,649.9 1253.7,646.1 1254.5,642.2 1255.3,638.2 1256.1,634.1 1256.9,629.7 1257.6,625.1 1258.4,620.4 1259.2,615.6 1260.0,610.8 1260.8,605.8 1261.6,600.6 1262.4,595.6 1263.2,590.8 1263.9,586.0 1264.7,585.4 1265.5,587.2 1266.3,590.0 1267.1,593.4 1267.9,596.9 1268.7,601.0 1269.5,605.7 1270.3,611.1 1271.0,617.1 1271.8,623.6 1272.6,630.7 1273.4,638.3 1274.2,647.1 1275.0,657.8 1275.8,669.7 1276.6,682.3 1277.3,695.3 1278.1,707.9 1278.9,720.9 1279.7,734.7 1280.5,748.7 1281.3,762.6 1282.1,775.7 1282.9,787.6 1283.7,798.7 1284.4,809.7 1285.2,820.3 1286.0,830.3 1286.8,839.4 1287.6,847.4 1288.4,854.0 1289.2,859.6 1290.0,864.8 1290.8,869.6 1291.5,874.0 1292.3,877.9 1293.1,881.4 1293.9,884.5 1294.7,887.0 1295.5,889.3 1296.3,891.5 1297.1,893.5 1297.8,895.5 1298.6,897.2 1299.4,898.8 1300.2,900.1 1301.0,901.3 1301.8,902.2 1302.6,902.9 1303.4,903.5 1304.2,904.0 1304.9,904.4 1305.7,904.8 1306.5,905.1 1307.3,905.4 1308.1,905.7 1308.9,906.0 1309.7,906.2 1310.5,906.5 1311.2,906.8 1312.0,907.1 1312.8,907.4 1313.6,907.7 1314.4,908.0 1315.2,908.4 1316.0,908.8 1316.8,909.2 1317.6,909.6 1318.3,909.9 1319.1,910.3 1319.9,910.7 1320.7,911.0 1321.5,911.4 1322.3,911.7 1323.1,912.0 1323.9,912.2 1324.6,912.4 1325.4,912.6 1326.2,912.7 1327.0,912.8 1327.8,912.9 1328.6,912.9 1329.4,913.0 1330.2,913.0 1331.0,913.1 1331.7,913.1 1332.5,913.1 1333.3,913.2 1334.1,913.2 1334.9,913.2 1335.7,913.3 1336.5,913.3 1337.3,913.3 1338.0,913.4 1338.8,913.4 1339.6,913.4 1340.4,913.4 1341.2,913.4 1342.0,913.5 1342.8,913.5 1343.6,913.5 1344.4,913.5 1345.1,913.5 1345.9,913.5 1346.7,913.5 1347.5,913.5 1348.3,913.5 1349.1,913.5 1349.9,913.5 1350.7,913.5 1351.4,913.5 1352.2,913.5 1353.0,913.5 1353.8,913.5 1354.6,913.5 1355.4,913.5 1356.2,913.5 1357.0,913.5 1357.8,913.5 1358.5,913.5 1359.3,913.5 1360.1,913.5 1360.9,913.5 1361.7,913.5 1362.5,913.5 1363.3,913.5 1364.1,913.5 1364.9,913.5 1365.6,913.5 1366.4,913.5 1367.2,913.5 1368.0,913.5 1368.8,913.5 1369.6,913.5 1370.4,913.5 1371.2,913.5 1371.9,913.5 1372.7,913.5 1373.5,913.5 1374.3,913.5" fill="none" stroke="#ff00ff" stroke-width="3.0" stroke-linejoin="round" stroke-linecap="round"/>
<rect x="834.20" y="525.10" width="176.00" height="194.70" fill="none" stroke="#141414" stroke-width="2"/>
<line x1="845.00" y1="549.40" x2="893.30" y2="549.40" stroke="#000000" stroke-width="2.9"/>
<text x="899.00" y="555.10" font-size="15.50" font-weight="bold" text-anchor="start" fill="#1a1a1a" textLength="105.00" lengthAdjust="spacingAndGlyphs">MB (EDTA)</text>
<line x1="845.00" y1="576.50" x2="893.30" y2="576.50" stroke="#ffff00" stroke-width="2.9"/>
<text x="899.00" y="582.20" font-size="15.50" font-weight="bold" text-anchor="start" fill="#1a1a1a" textLength="50.50" lengthAdjust="spacingAndGlyphs">0 min</text>
<line x1="845.00" y1="601.40" x2="893.30" y2="601.40" stroke="#ff0000" stroke-width="2.9"/>
<text x="899.00" y="607.10" font-size="15.50" font-weight="bold" text-anchor="start" fill="#1a1a1a" textLength="62.50" lengthAdjust="spacingAndGlyphs">30 min</text>
<line x1="845.00" y1="628.60" x2="893.30" y2="628.60" stroke="#0000ff" stroke-width="2.9"/>
<text x="899.00" y="634.30" font-size="15.50" font-weight="bold" text-anchor="start" fill="#1a1a1a" textLength="62.50" lengthAdjust="spacingAndGlyphs">60 min</text>
<line x1="845.00" y1="654.70" x2="893.30" y2="654.70" stroke="#008000" stroke-width="2.9"/>
<text x="899.00" y="660.40" font-size="15.50" font-weight="bold" text-anchor="start" fill="#1a1a1a" textLength="62.50" lengthAdjust="spacingAndGlyphs">90 min</text>
<line x1="845.00" y1="680.50" x2="893.30" y2="680.50" stroke="#00ffff" stroke-width="2.9"/>
<text x="899.00" y="686.20" font-size="15.50" font-weight="bold" text-anchor="start" fill="#1a1a1a" textLength="74.00" lengthAdjust="spacingAndGlyphs">120 min</text>
<line x1="845.00" y1="706.80" x2="893.30" y2="706.80" stroke="#ff00ff" stroke-width="2.9"/>
<text x="899.00" y="712.50" font-size="15.50" font-weight="bold" text-anchor="start" fill="#1a1a1a" textLength="74.00" lengthAdjust="spacingAndGlyphs">150 min</text>
</svg></body></html>
